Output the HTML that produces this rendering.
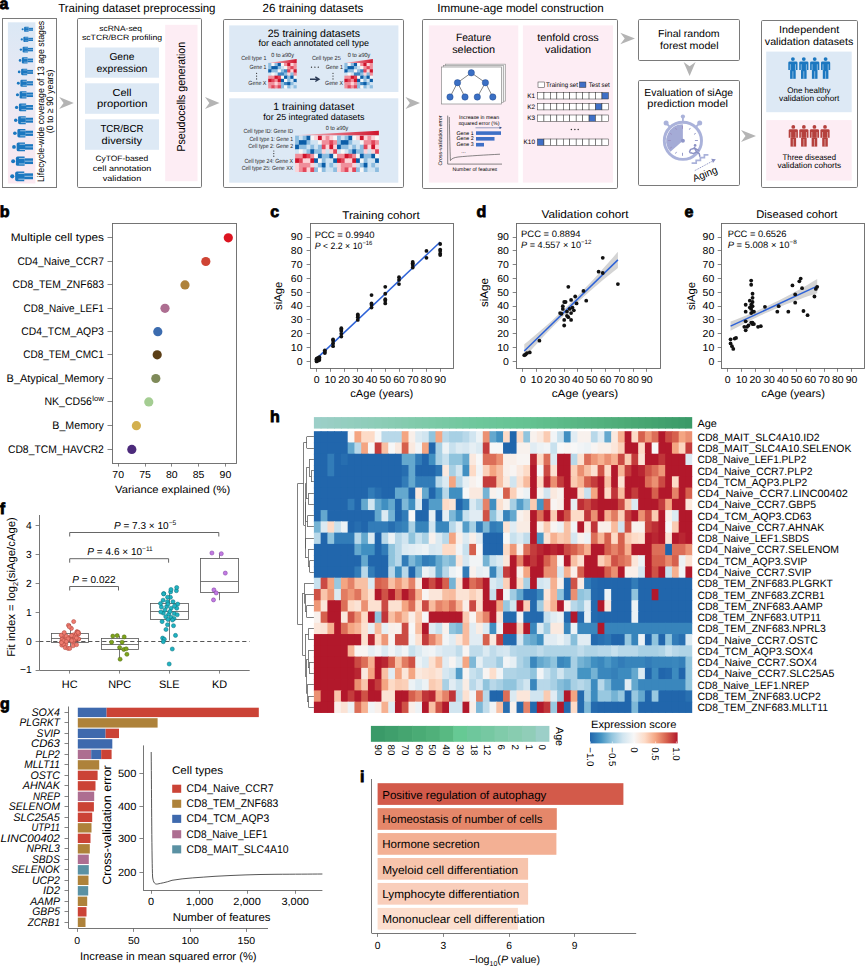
<!DOCTYPE html>
<html><head><meta charset="utf-8"><title>Figure</title><style>
html,body{margin:0;padding:0;background:#fff;}
svg{display:block;}
text{font-family:"Liberation Sans",Arial,sans-serif;text-rendering:geometricPrecision;}
</style></head><body>
<svg width="865" height="968" viewBox="0 0 865 968">
<rect width="865" height="968" fill="#fff"/>
<text x="58.20" y="12.20" font-size="11.77" textLength="157.30" lengthAdjust="spacingAndGlyphs">Training dataset preprocessing</text>
<text x="262.60" y="12.20" font-size="11.77" textLength="100.80" lengthAdjust="spacingAndGlyphs">26 training datasets</text>
<text x="437.20" y="12.00" font-size="11.77" textLength="166.60" lengthAdjust="spacingAndGlyphs">Immune-age model construction</text>
<defs><linearGradient id="g1" x1="0" y1="0" x2="0" y2="1"><stop offset="0" stop-color="#dbe8f5"/><stop offset="1" stop-color="#fce9f1"/></linearGradient></defs>
<rect x="2.50" y="18.50" width="54.00" height="169.00" fill="#fff" stroke="#7a7a7a" stroke-width="1"/>
<rect x="7.90" y="22.30" width="27.50" height="161.20" fill="url(#g1)"/>
<g transform="translate(21.60,29.30) scale(0.496)" fill="#1b77c0"><circle cx="2.1" cy="0" r="2.1"/><path d="M5,-3.2 Q5,-4.9 6.8,-4.9 L14.2,-4.9 L14.2,4.9 L6.8,4.9 Q5,4.9 5,3.2 Z"/><rect x="14" y="-3.0" width="9" height="6" /></g>
<g transform="translate(21.60,29.30) scale(0.496)" stroke="#dfe8f3" stroke-width="0.7"><line x1="8.2" y1="-2.9" x2="14.3" y2="-2.9"/><line x1="8.2" y1="2.9" x2="14.3" y2="2.9"/><line x1="14.5" y1="0" x2="23" y2="0"/></g>
<g transform="translate(20.65,39.40) scale(0.537)" fill="#1b77c0"><circle cx="2.1" cy="0" r="2.1"/><path d="M5,-3.2 Q5,-4.9 6.8,-4.9 L14.2,-4.9 L14.2,4.9 L6.8,4.9 Q5,4.9 5,3.2 Z"/><rect x="14" y="-3.0" width="9" height="6" /></g>
<g transform="translate(20.65,39.40) scale(0.537)" stroke="#dfe8f3" stroke-width="0.7"><line x1="8.2" y1="-2.9" x2="14.3" y2="-2.9"/><line x1="8.2" y1="2.9" x2="14.3" y2="2.9"/><line x1="14.5" y1="0" x2="23" y2="0"/></g>
<g transform="translate(19.70,49.60) scale(0.578)" fill="#1b77c0"><circle cx="2.1" cy="0" r="2.1"/><path d="M5,-3.2 Q5,-4.9 6.8,-4.9 L14.2,-4.9 L14.2,4.9 L6.8,4.9 Q5,4.9 5,3.2 Z"/><rect x="14" y="-3.0" width="9" height="6" /></g>
<g transform="translate(19.70,49.60) scale(0.578)" stroke="#dfe8f3" stroke-width="0.7"><line x1="8.2" y1="-2.9" x2="14.3" y2="-2.9"/><line x1="8.2" y1="2.9" x2="14.3" y2="2.9"/><line x1="14.5" y1="0" x2="23" y2="0"/></g>
<g transform="translate(18.75,60.40) scale(0.620)" fill="#1b77c0"><circle cx="2.1" cy="0" r="2.1"/><path d="M5,-3.2 Q5,-4.9 6.8,-4.9 L14.2,-4.9 L14.2,4.9 L6.8,4.9 Q5,4.9 5,3.2 Z"/><rect x="14" y="-3.0" width="9" height="6" /></g>
<g transform="translate(18.75,60.40) scale(0.620)" stroke="#dfe8f3" stroke-width="0.7"><line x1="8.2" y1="-2.9" x2="14.3" y2="-2.9"/><line x1="8.2" y1="2.9" x2="14.3" y2="2.9"/><line x1="14.5" y1="0" x2="23" y2="0"/></g>
<g transform="translate(17.80,71.90) scale(0.661)" fill="#1b77c0"><circle cx="2.1" cy="0" r="2.1"/><path d="M5,-3.2 Q5,-4.9 6.8,-4.9 L14.2,-4.9 L14.2,4.9 L6.8,4.9 Q5,4.9 5,3.2 Z"/><rect x="14" y="-3.0" width="9" height="6" /></g>
<g transform="translate(17.80,71.90) scale(0.661)" stroke="#dfe8f3" stroke-width="0.7"><line x1="8.2" y1="-2.9" x2="14.3" y2="-2.9"/><line x1="8.2" y1="2.9" x2="14.3" y2="2.9"/><line x1="14.5" y1="0" x2="23" y2="0"/></g>
<g transform="translate(16.85,83.30) scale(0.702)" fill="#1b77c0"><circle cx="2.1" cy="0" r="2.1"/><path d="M5,-3.2 Q5,-4.9 6.8,-4.9 L14.2,-4.9 L14.2,4.9 L6.8,4.9 Q5,4.9 5,3.2 Z"/><rect x="14" y="-3.0" width="9" height="6" /></g>
<g transform="translate(16.85,83.30) scale(0.702)" stroke="#dfe8f3" stroke-width="0.7"><line x1="8.2" y1="-2.9" x2="14.3" y2="-2.9"/><line x1="8.2" y1="2.9" x2="14.3" y2="2.9"/><line x1="14.5" y1="0" x2="23" y2="0"/></g>
<g transform="translate(15.90,94.80) scale(0.743)" fill="#1b77c0"><circle cx="2.1" cy="0" r="2.1"/><path d="M5,-3.2 Q5,-4.9 6.8,-4.9 L14.2,-4.9 L14.2,4.9 L6.8,4.9 Q5,4.9 5,3.2 Z"/><rect x="14" y="-3.0" width="9" height="6" /></g>
<g transform="translate(15.90,94.80) scale(0.743)" stroke="#dfe8f3" stroke-width="0.7"><line x1="8.2" y1="-2.9" x2="14.3" y2="-2.9"/><line x1="8.2" y1="2.9" x2="14.3" y2="2.9"/><line x1="14.5" y1="0" x2="23" y2="0"/></g>
<g transform="translate(14.95,107.40) scale(0.785)" fill="#1b77c0"><circle cx="2.1" cy="0" r="2.1"/><path d="M5,-3.2 Q5,-4.9 6.8,-4.9 L14.2,-4.9 L14.2,4.9 L6.8,4.9 Q5,4.9 5,3.2 Z"/><rect x="14" y="-3.0" width="9" height="6" /></g>
<g transform="translate(14.95,107.40) scale(0.785)" stroke="#dfe8f3" stroke-width="0.7"><line x1="8.2" y1="-2.9" x2="14.3" y2="-2.9"/><line x1="8.2" y1="2.9" x2="14.3" y2="2.9"/><line x1="14.5" y1="0" x2="23" y2="0"/></g>
<g transform="translate(14.00,120.20) scale(0.826)" fill="#1b77c0"><circle cx="2.1" cy="0" r="2.1"/><path d="M5,-3.2 Q5,-4.9 6.8,-4.9 L14.2,-4.9 L14.2,4.9 L6.8,4.9 Q5,4.9 5,3.2 Z"/><rect x="14" y="-3.0" width="9" height="6" /></g>
<g transform="translate(14.00,120.20) scale(0.826)" stroke="#dfe8f3" stroke-width="0.7"><line x1="8.2" y1="-2.9" x2="14.3" y2="-2.9"/><line x1="8.2" y1="2.9" x2="14.3" y2="2.9"/><line x1="14.5" y1="0" x2="23" y2="0"/></g>
<g transform="translate(13.05,133.30) scale(0.867)" fill="#1b77c0"><circle cx="2.1" cy="0" r="2.1"/><path d="M5,-3.2 Q5,-4.9 6.8,-4.9 L14.2,-4.9 L14.2,4.9 L6.8,4.9 Q5,4.9 5,3.2 Z"/><rect x="14" y="-3.0" width="9" height="6" /></g>
<g transform="translate(13.05,133.30) scale(0.867)" stroke="#dfe8f3" stroke-width="0.7"><line x1="8.2" y1="-2.9" x2="14.3" y2="-2.9"/><line x1="8.2" y1="2.9" x2="14.3" y2="2.9"/><line x1="14.5" y1="0" x2="23" y2="0"/></g>
<g transform="translate(12.10,146.90) scale(0.909)" fill="#1b77c0"><circle cx="2.1" cy="0" r="2.1"/><path d="M5,-3.2 Q5,-4.9 6.8,-4.9 L14.2,-4.9 L14.2,4.9 L6.8,4.9 Q5,4.9 5,3.2 Z"/><rect x="14" y="-3.0" width="9" height="6" /></g>
<g transform="translate(12.10,146.90) scale(0.909)" stroke="#dfe8f3" stroke-width="0.7"><line x1="8.2" y1="-2.9" x2="14.3" y2="-2.9"/><line x1="8.2" y1="2.9" x2="14.3" y2="2.9"/><line x1="14.5" y1="0" x2="23" y2="0"/></g>
<g transform="translate(11.15,161.20) scale(0.950)" fill="#1b77c0"><circle cx="2.1" cy="0" r="2.1"/><path d="M5,-3.2 Q5,-4.9 6.8,-4.9 L14.2,-4.9 L14.2,4.9 L6.8,4.9 Q5,4.9 5,3.2 Z"/><rect x="14" y="-3.0" width="9" height="6" /></g>
<g transform="translate(11.15,161.20) scale(0.950)" stroke="#dfe8f3" stroke-width="0.7"><line x1="8.2" y1="-2.9" x2="14.3" y2="-2.9"/><line x1="8.2" y1="2.9" x2="14.3" y2="2.9"/><line x1="14.5" y1="0" x2="23" y2="0"/></g>
<g transform="translate(10.20,176.30) scale(0.991)" fill="#1b77c0"><circle cx="2.1" cy="0" r="2.1"/><path d="M5,-3.2 Q5,-4.9 6.8,-4.9 L14.2,-4.9 L14.2,4.9 L6.8,4.9 Q5,4.9 5,3.2 Z"/><rect x="14" y="-3.0" width="9" height="6" /></g>
<g transform="translate(10.20,176.30) scale(0.991)" stroke="#dfe8f3" stroke-width="0.7"><line x1="8.2" y1="-2.9" x2="14.3" y2="-2.9"/><line x1="8.2" y1="2.9" x2="14.3" y2="2.9"/><line x1="14.5" y1="0" x2="23" y2="0"/></g>
<text x="0.00" y="0.00" font-size="9.42" text-anchor="middle" textLength="161.30" lengthAdjust="spacingAndGlyphs" transform="translate(43.9,101.4) rotate(-90)">Lifecycle-wide coverage of 13 age stages</text>
<text x="0.00" y="0.00" font-size="9.42" text-anchor="middle" textLength="63.80" lengthAdjust="spacingAndGlyphs" transform="translate(53.2,101.4) rotate(-90)">(0 to ≥ 90 years)</text>
<path d="M59.2,97.0 L73.8,103 L59.2,109.0 L63.58,103 Z" fill="#b4b4b4"/>
<rect x="77.50" y="18.50" width="124.00" height="169.00" fill="#fff" stroke="#7a7a7a" stroke-width="1" rx="1.2"/>
<text x="99.30" y="30.70" font-size="7.70" textLength="42.70" lengthAdjust="spacingAndGlyphs">scRNA-seq</text>
<text x="81.90" y="40.30" font-size="7.70" textLength="80.20" lengthAdjust="spacingAndGlyphs">scTCR/BCR profiling</text>
<rect x="85.00" y="47.50" width="74.00" height="30.20" fill="#dde9f5"/>
<rect x="85.00" y="83.30" width="74.00" height="30.50" fill="#dde9f5"/>
<rect x="85.00" y="119.30" width="74.00" height="30.50" fill="#dde9f5"/>
<text x="109.40" y="59.50" font-size="10.17" textLength="25.10" lengthAdjust="spacingAndGlyphs">Gene</text>
<text x="96.40" y="71.50" font-size="10.17" textLength="51.10" lengthAdjust="spacingAndGlyphs">expression</text>
<text x="112.60" y="95.60" font-size="10.17" textLength="18.80" lengthAdjust="spacingAndGlyphs">Cell</text>
<text x="96.90" y="107.30" font-size="10.17" textLength="50.60" lengthAdjust="spacingAndGlyphs">proportion</text>
<text x="100.40" y="132.00" font-size="10.17" textLength="43.20" lengthAdjust="spacingAndGlyphs">TCR/BCR</text>
<text x="101.60" y="144.20" font-size="10.17" textLength="40.40" lengthAdjust="spacingAndGlyphs">diversity</text>
<text x="95.40" y="160.80" font-size="7.81" textLength="52.80" lengthAdjust="spacingAndGlyphs">CyTOF-based</text>
<text x="92.80" y="170.90" font-size="7.81" textLength="58.50" lengthAdjust="spacingAndGlyphs">cell annotation</text>
<text x="102.70" y="180.80" font-size="7.81" textLength="38.60" lengthAdjust="spacingAndGlyphs">validation</text>
<rect x="165.20" y="24.80" width="32.30" height="156.40" fill="#fdedf4"/>
<text x="0.00" y="0.00" font-size="11.56" text-anchor="middle" textLength="109.50" lengthAdjust="spacingAndGlyphs" transform="translate(185.1,96.7) rotate(-90)">Pseudocells generation</text>
<path d="M205,97.0 L219.5,103 L205,109.0 L209.35,103 Z" fill="#b4b4b4"/>
<rect x="223.50" y="19.50" width="180.00" height="168.00" fill="#fff" stroke="#7a7a7a" stroke-width="1" rx="1.2"/>
<rect x="229.20" y="25.40" width="169.20" height="66.60" fill="#dde9f5"/>
<text x="267.70" y="36.70" font-size="10.70" textLength="92.30" lengthAdjust="spacingAndGlyphs">25 training datasets</text>
<text x="258.40" y="46.00" font-size="8.88" textLength="110.60" lengthAdjust="spacingAndGlyphs">for each annotated cell type</text>
<rect x="229.20" y="98.30" width="169.10" height="84.40" fill="#dde9f5"/>
<text x="273.20" y="110.40" font-size="10.38" textLength="80.90" lengthAdjust="spacingAndGlyphs">1 training dataset</text>
<text x="263.30" y="119.90" font-size="8.88" textLength="101.20" lengthAdjust="spacingAndGlyphs">for 25 integrated datasets</text>
<rect x="268.20" y="62.90" width="3.77" height="3.79" fill="#8dbde0"/>
<rect x="271.37" y="62.90" width="3.77" height="3.79" fill="#f7f7f7"/>
<rect x="274.53" y="62.90" width="3.77" height="3.79" fill="#8dbde0"/>
<rect x="277.70" y="62.90" width="3.77" height="3.79" fill="#0b5ea8"/>
<rect x="280.87" y="62.90" width="3.77" height="3.79" fill="#f7f7f7"/>
<rect x="284.03" y="62.90" width="3.77" height="3.79" fill="#f08f9b"/>
<rect x="287.20" y="62.90" width="3.77" height="3.79" fill="#d0142c"/>
<rect x="290.37" y="62.90" width="3.77" height="3.79" fill="#fbd3d8"/>
<rect x="293.53" y="62.90" width="3.17" height="3.79" fill="#f08f9b"/>
<rect x="268.20" y="66.09" width="3.77" height="3.79" fill="#8dbde0"/>
<rect x="271.37" y="66.09" width="3.77" height="3.79" fill="#0b5ea8"/>
<rect x="274.53" y="66.09" width="3.77" height="3.79" fill="#0b5ea8"/>
<rect x="277.70" y="66.09" width="3.77" height="3.79" fill="#8dbde0"/>
<rect x="280.87" y="66.09" width="3.77" height="3.79" fill="#cfe3f2"/>
<rect x="284.03" y="66.09" width="3.77" height="3.79" fill="#f7f7f7"/>
<rect x="287.20" y="66.09" width="3.77" height="3.79" fill="#f08f9b"/>
<rect x="290.37" y="66.09" width="3.77" height="3.79" fill="#e2465a"/>
<rect x="293.53" y="66.09" width="3.17" height="3.79" fill="#f08f9b"/>
<rect x="268.20" y="69.28" width="3.77" height="3.79" fill="#0b5ea8"/>
<rect x="271.37" y="69.28" width="3.77" height="3.79" fill="#8dbde0"/>
<rect x="274.53" y="69.28" width="3.77" height="3.79" fill="#8dbde0"/>
<rect x="277.70" y="69.28" width="3.77" height="3.79" fill="#f7f7f7"/>
<rect x="280.87" y="69.28" width="3.77" height="3.79" fill="#8dbde0"/>
<rect x="284.03" y="69.28" width="3.77" height="3.79" fill="#3d86c2"/>
<rect x="287.20" y="69.28" width="3.77" height="3.79" fill="#e2465a"/>
<rect x="290.37" y="69.28" width="3.77" height="3.79" fill="#fbd3d8"/>
<rect x="293.53" y="69.28" width="3.17" height="3.79" fill="#d0142c"/>
<rect x="268.20" y="72.46" width="3.77" height="3.79" fill="#cfe3f2"/>
<rect x="271.37" y="72.46" width="3.77" height="3.79" fill="#f7f7f7"/>
<rect x="274.53" y="72.46" width="3.77" height="3.79" fill="#cfe3f2"/>
<rect x="277.70" y="72.46" width="3.77" height="3.79" fill="#3d86c2"/>
<rect x="280.87" y="72.46" width="3.77" height="3.79" fill="#3d86c2"/>
<rect x="284.03" y="72.46" width="3.77" height="3.79" fill="#8dbde0"/>
<rect x="287.20" y="72.46" width="3.77" height="3.79" fill="#fbd3d8"/>
<rect x="290.37" y="72.46" width="3.77" height="3.79" fill="#8dbde0"/>
<rect x="293.53" y="72.46" width="3.17" height="3.79" fill="#f08f9b"/>
<rect x="268.20" y="75.65" width="3.77" height="3.79" fill="#f08f9b"/>
<rect x="271.37" y="75.65" width="3.77" height="3.79" fill="#f08f9b"/>
<rect x="274.53" y="75.65" width="3.77" height="3.79" fill="#d0142c"/>
<rect x="277.70" y="75.65" width="3.77" height="3.79" fill="#e2465a"/>
<rect x="280.87" y="75.65" width="3.77" height="3.79" fill="#f7f7f7"/>
<rect x="284.03" y="75.65" width="3.77" height="3.79" fill="#0b5ea8"/>
<rect x="287.20" y="75.65" width="3.77" height="3.79" fill="#8dbde0"/>
<rect x="290.37" y="75.65" width="3.77" height="3.79" fill="#0b5ea8"/>
<rect x="293.53" y="75.65" width="3.17" height="3.79" fill="#f7f7f7"/>
<rect x="268.20" y="78.84" width="3.77" height="3.79" fill="#d0142c"/>
<rect x="271.37" y="78.84" width="3.77" height="3.79" fill="#e2465a"/>
<rect x="274.53" y="78.84" width="3.77" height="3.79" fill="#f08f9b"/>
<rect x="277.70" y="78.84" width="3.77" height="3.79" fill="#d0142c"/>
<rect x="280.87" y="78.84" width="3.77" height="3.79" fill="#0b5ea8"/>
<rect x="284.03" y="78.84" width="3.77" height="3.79" fill="#f7f7f7"/>
<rect x="287.20" y="78.84" width="3.77" height="3.79" fill="#8dbde0"/>
<rect x="290.37" y="78.84" width="3.77" height="3.79" fill="#cfe3f2"/>
<rect x="293.53" y="78.84" width="3.17" height="3.79" fill="#0b5ea8"/>
<rect x="268.20" y="82.03" width="3.77" height="3.79" fill="#f08f9b"/>
<rect x="271.37" y="82.03" width="3.77" height="3.79" fill="#f08f9b"/>
<rect x="274.53" y="82.03" width="3.77" height="3.79" fill="#fbd3d8"/>
<rect x="277.70" y="82.03" width="3.77" height="3.79" fill="#f08f9b"/>
<rect x="280.87" y="82.03" width="3.77" height="3.79" fill="#8dbde0"/>
<rect x="284.03" y="82.03" width="3.77" height="3.79" fill="#3d86c2"/>
<rect x="287.20" y="82.03" width="3.77" height="3.79" fill="#0b5ea8"/>
<rect x="290.37" y="82.03" width="3.77" height="3.79" fill="#8dbde0"/>
<rect x="293.53" y="82.03" width="3.17" height="3.79" fill="#cfe3f2"/>
<rect x="268.20" y="85.21" width="3.77" height="3.19" fill="#f08f9b"/>
<rect x="271.37" y="85.21" width="3.77" height="3.19" fill="#e2465a"/>
<rect x="274.53" y="85.21" width="3.77" height="3.19" fill="#f08f9b"/>
<rect x="277.70" y="85.21" width="3.77" height="3.19" fill="#e2465a"/>
<rect x="280.87" y="85.21" width="3.77" height="3.19" fill="#8dbde0"/>
<rect x="284.03" y="85.21" width="3.77" height="3.19" fill="#f7f7f7"/>
<rect x="287.20" y="85.21" width="3.77" height="3.19" fill="#8dbde0"/>
<rect x="290.37" y="85.21" width="3.77" height="3.19" fill="#cfe3f2"/>
<rect x="293.53" y="85.21" width="3.17" height="3.19" fill="#8dbde0"/>
<defs><linearGradient id="w268" x1="0" y1="0" x2="1" y2="0"><stop offset="0" stop-color="#f6c3cb"/><stop offset="1" stop-color="#d0142c"/></linearGradient></defs>
<path d="M268.2,62.9 L296.7,58.9 L296.7,62.9 Z" fill="url(#w268)"/>
<rect x="344.40" y="62.90" width="3.77" height="3.79" fill="#8dbde0"/>
<rect x="347.57" y="62.90" width="3.77" height="3.79" fill="#f7f7f7"/>
<rect x="350.73" y="62.90" width="3.77" height="3.79" fill="#8dbde0"/>
<rect x="353.90" y="62.90" width="3.77" height="3.79" fill="#0b5ea8"/>
<rect x="357.07" y="62.90" width="3.77" height="3.79" fill="#f7f7f7"/>
<rect x="360.23" y="62.90" width="3.77" height="3.79" fill="#f08f9b"/>
<rect x="363.40" y="62.90" width="3.77" height="3.79" fill="#d0142c"/>
<rect x="366.57" y="62.90" width="3.77" height="3.79" fill="#fbd3d8"/>
<rect x="369.73" y="62.90" width="3.17" height="3.79" fill="#f08f9b"/>
<rect x="344.40" y="66.09" width="3.77" height="3.79" fill="#8dbde0"/>
<rect x="347.57" y="66.09" width="3.77" height="3.79" fill="#0b5ea8"/>
<rect x="350.73" y="66.09" width="3.77" height="3.79" fill="#0b5ea8"/>
<rect x="353.90" y="66.09" width="3.77" height="3.79" fill="#8dbde0"/>
<rect x="357.07" y="66.09" width="3.77" height="3.79" fill="#cfe3f2"/>
<rect x="360.23" y="66.09" width="3.77" height="3.79" fill="#f7f7f7"/>
<rect x="363.40" y="66.09" width="3.77" height="3.79" fill="#f08f9b"/>
<rect x="366.57" y="66.09" width="3.77" height="3.79" fill="#e2465a"/>
<rect x="369.73" y="66.09" width="3.17" height="3.79" fill="#f08f9b"/>
<rect x="344.40" y="69.28" width="3.77" height="3.79" fill="#0b5ea8"/>
<rect x="347.57" y="69.28" width="3.77" height="3.79" fill="#8dbde0"/>
<rect x="350.73" y="69.28" width="3.77" height="3.79" fill="#8dbde0"/>
<rect x="353.90" y="69.28" width="3.77" height="3.79" fill="#f7f7f7"/>
<rect x="357.07" y="69.28" width="3.77" height="3.79" fill="#8dbde0"/>
<rect x="360.23" y="69.28" width="3.77" height="3.79" fill="#3d86c2"/>
<rect x="363.40" y="69.28" width="3.77" height="3.79" fill="#e2465a"/>
<rect x="366.57" y="69.28" width="3.77" height="3.79" fill="#fbd3d8"/>
<rect x="369.73" y="69.28" width="3.17" height="3.79" fill="#d0142c"/>
<rect x="344.40" y="72.46" width="3.77" height="3.79" fill="#cfe3f2"/>
<rect x="347.57" y="72.46" width="3.77" height="3.79" fill="#f7f7f7"/>
<rect x="350.73" y="72.46" width="3.77" height="3.79" fill="#cfe3f2"/>
<rect x="353.90" y="72.46" width="3.77" height="3.79" fill="#3d86c2"/>
<rect x="357.07" y="72.46" width="3.77" height="3.79" fill="#3d86c2"/>
<rect x="360.23" y="72.46" width="3.77" height="3.79" fill="#8dbde0"/>
<rect x="363.40" y="72.46" width="3.77" height="3.79" fill="#fbd3d8"/>
<rect x="366.57" y="72.46" width="3.77" height="3.79" fill="#8dbde0"/>
<rect x="369.73" y="72.46" width="3.17" height="3.79" fill="#f08f9b"/>
<rect x="344.40" y="75.65" width="3.77" height="3.79" fill="#f08f9b"/>
<rect x="347.57" y="75.65" width="3.77" height="3.79" fill="#f08f9b"/>
<rect x="350.73" y="75.65" width="3.77" height="3.79" fill="#d0142c"/>
<rect x="353.90" y="75.65" width="3.77" height="3.79" fill="#e2465a"/>
<rect x="357.07" y="75.65" width="3.77" height="3.79" fill="#f7f7f7"/>
<rect x="360.23" y="75.65" width="3.77" height="3.79" fill="#0b5ea8"/>
<rect x="363.40" y="75.65" width="3.77" height="3.79" fill="#8dbde0"/>
<rect x="366.57" y="75.65" width="3.77" height="3.79" fill="#0b5ea8"/>
<rect x="369.73" y="75.65" width="3.17" height="3.79" fill="#f7f7f7"/>
<rect x="344.40" y="78.84" width="3.77" height="3.79" fill="#d0142c"/>
<rect x="347.57" y="78.84" width="3.77" height="3.79" fill="#e2465a"/>
<rect x="350.73" y="78.84" width="3.77" height="3.79" fill="#f08f9b"/>
<rect x="353.90" y="78.84" width="3.77" height="3.79" fill="#d0142c"/>
<rect x="357.07" y="78.84" width="3.77" height="3.79" fill="#0b5ea8"/>
<rect x="360.23" y="78.84" width="3.77" height="3.79" fill="#f7f7f7"/>
<rect x="363.40" y="78.84" width="3.77" height="3.79" fill="#8dbde0"/>
<rect x="366.57" y="78.84" width="3.77" height="3.79" fill="#cfe3f2"/>
<rect x="369.73" y="78.84" width="3.17" height="3.79" fill="#0b5ea8"/>
<rect x="344.40" y="82.03" width="3.77" height="3.79" fill="#f08f9b"/>
<rect x="347.57" y="82.03" width="3.77" height="3.79" fill="#f08f9b"/>
<rect x="350.73" y="82.03" width="3.77" height="3.79" fill="#fbd3d8"/>
<rect x="353.90" y="82.03" width="3.77" height="3.79" fill="#f08f9b"/>
<rect x="357.07" y="82.03" width="3.77" height="3.79" fill="#8dbde0"/>
<rect x="360.23" y="82.03" width="3.77" height="3.79" fill="#3d86c2"/>
<rect x="363.40" y="82.03" width="3.77" height="3.79" fill="#0b5ea8"/>
<rect x="366.57" y="82.03" width="3.77" height="3.79" fill="#8dbde0"/>
<rect x="369.73" y="82.03" width="3.17" height="3.79" fill="#cfe3f2"/>
<rect x="344.40" y="85.21" width="3.77" height="3.19" fill="#f08f9b"/>
<rect x="347.57" y="85.21" width="3.77" height="3.19" fill="#e2465a"/>
<rect x="350.73" y="85.21" width="3.77" height="3.19" fill="#f08f9b"/>
<rect x="353.90" y="85.21" width="3.77" height="3.19" fill="#e2465a"/>
<rect x="357.07" y="85.21" width="3.77" height="3.19" fill="#8dbde0"/>
<rect x="360.23" y="85.21" width="3.77" height="3.19" fill="#f7f7f7"/>
<rect x="363.40" y="85.21" width="3.77" height="3.19" fill="#8dbde0"/>
<rect x="366.57" y="85.21" width="3.77" height="3.19" fill="#cfe3f2"/>
<rect x="369.73" y="85.21" width="3.17" height="3.19" fill="#8dbde0"/>
<defs><linearGradient id="w344" x1="0" y1="0" x2="1" y2="0"><stop offset="0" stop-color="#f6c3cb"/><stop offset="1" stop-color="#d0142c"/></linearGradient></defs>
<path d="M344.4,62.9 L372.9,58.9 L372.9,62.9 Z" fill="url(#w344)"/>
<rect x="295.10" y="135.60" width="4.41" height="5.15" fill="#8dbde0"/>
<rect x="298.91" y="135.60" width="4.41" height="5.15" fill="#cfe3f2"/>
<rect x="302.72" y="135.60" width="4.41" height="5.15" fill="#8dbde0"/>
<rect x="306.53" y="135.60" width="4.41" height="5.15" fill="#0b5ea8"/>
<rect x="310.34" y="135.60" width="4.41" height="5.15" fill="#f7f7f7"/>
<rect x="314.15" y="135.60" width="4.41" height="5.15" fill="#fbd3d8"/>
<rect x="317.95" y="135.60" width="4.41" height="5.15" fill="#d0142c"/>
<rect x="321.76" y="135.60" width="4.41" height="5.15" fill="#fbd3d8"/>
<rect x="325.57" y="135.60" width="4.41" height="5.15" fill="#f08f9b"/>
<rect x="329.38" y="135.60" width="4.41" height="5.15" fill="#fbd3d8"/>
<rect x="333.19" y="135.60" width="4.41" height="5.15" fill="#f7f7f7"/>
<rect x="337.00" y="135.60" width="4.41" height="5.15" fill="#8dbde0"/>
<rect x="340.81" y="135.60" width="4.41" height="5.15" fill="#cfe3f2"/>
<rect x="344.62" y="135.60" width="4.41" height="5.15" fill="#8dbde0"/>
<rect x="348.43" y="135.60" width="4.41" height="5.15" fill="#0b5ea8"/>
<rect x="352.24" y="135.60" width="4.41" height="5.15" fill="#f7f7f7"/>
<rect x="356.05" y="135.60" width="4.41" height="5.15" fill="#fbd3d8"/>
<rect x="359.85" y="135.60" width="4.41" height="5.15" fill="#d0142c"/>
<rect x="363.66" y="135.60" width="4.41" height="5.15" fill="#fbd3d8"/>
<rect x="367.47" y="135.60" width="4.41" height="5.15" fill="#f08f9b"/>
<rect x="371.28" y="135.60" width="4.41" height="5.15" fill="#fbd3d8"/>
<rect x="375.09" y="135.60" width="3.81" height="5.15" fill="#f7f7f7"/>
<rect x="295.10" y="140.15" width="4.41" height="5.15" fill="#8dbde0"/>
<rect x="298.91" y="140.15" width="4.41" height="5.15" fill="#0b5ea8"/>
<rect x="302.72" y="140.15" width="4.41" height="5.15" fill="#0b5ea8"/>
<rect x="306.53" y="140.15" width="4.41" height="5.15" fill="#8dbde0"/>
<rect x="310.34" y="140.15" width="4.41" height="5.15" fill="#cfe3f2"/>
<rect x="314.15" y="140.15" width="4.41" height="5.15" fill="#cfe3f2"/>
<rect x="317.95" y="140.15" width="4.41" height="5.15" fill="#f7f7f7"/>
<rect x="321.76" y="140.15" width="4.41" height="5.15" fill="#f08f9b"/>
<rect x="325.57" y="140.15" width="4.41" height="5.15" fill="#f08f9b"/>
<rect x="329.38" y="140.15" width="4.41" height="5.15" fill="#e2465a"/>
<rect x="333.19" y="140.15" width="4.41" height="5.15" fill="#f08f9b"/>
<rect x="337.00" y="140.15" width="4.41" height="5.15" fill="#8dbde0"/>
<rect x="340.81" y="140.15" width="4.41" height="5.15" fill="#0b5ea8"/>
<rect x="344.62" y="140.15" width="4.41" height="5.15" fill="#0b5ea8"/>
<rect x="348.43" y="140.15" width="4.41" height="5.15" fill="#8dbde0"/>
<rect x="352.24" y="140.15" width="4.41" height="5.15" fill="#cfe3f2"/>
<rect x="356.05" y="140.15" width="4.41" height="5.15" fill="#cfe3f2"/>
<rect x="359.85" y="140.15" width="4.41" height="5.15" fill="#f7f7f7"/>
<rect x="363.66" y="140.15" width="4.41" height="5.15" fill="#f08f9b"/>
<rect x="367.47" y="140.15" width="4.41" height="5.15" fill="#f08f9b"/>
<rect x="371.28" y="140.15" width="4.41" height="5.15" fill="#e2465a"/>
<rect x="375.09" y="140.15" width="3.81" height="5.15" fill="#f08f9b"/>
<rect x="295.10" y="144.70" width="4.41" height="5.15" fill="#0b5ea8"/>
<rect x="298.91" y="144.70" width="4.41" height="5.15" fill="#8dbde0"/>
<rect x="302.72" y="144.70" width="4.41" height="5.15" fill="#8dbde0"/>
<rect x="306.53" y="144.70" width="4.41" height="5.15" fill="#cfe3f2"/>
<rect x="310.34" y="144.70" width="4.41" height="5.15" fill="#8dbde0"/>
<rect x="314.15" y="144.70" width="4.41" height="5.15" fill="#cfe3f2"/>
<rect x="317.95" y="144.70" width="4.41" height="5.15" fill="#8dbde0"/>
<rect x="321.76" y="144.70" width="4.41" height="5.15" fill="#e2465a"/>
<rect x="325.57" y="144.70" width="4.41" height="5.15" fill="#fbd3d8"/>
<rect x="329.38" y="144.70" width="4.41" height="5.15" fill="#d0142c"/>
<rect x="333.19" y="144.70" width="4.41" height="5.15" fill="#fbd3d8"/>
<rect x="337.00" y="144.70" width="4.41" height="5.15" fill="#0b5ea8"/>
<rect x="340.81" y="144.70" width="4.41" height="5.15" fill="#8dbde0"/>
<rect x="344.62" y="144.70" width="4.41" height="5.15" fill="#8dbde0"/>
<rect x="348.43" y="144.70" width="4.41" height="5.15" fill="#cfe3f2"/>
<rect x="352.24" y="144.70" width="4.41" height="5.15" fill="#8dbde0"/>
<rect x="356.05" y="144.70" width="4.41" height="5.15" fill="#cfe3f2"/>
<rect x="359.85" y="144.70" width="4.41" height="5.15" fill="#8dbde0"/>
<rect x="363.66" y="144.70" width="4.41" height="5.15" fill="#e2465a"/>
<rect x="367.47" y="144.70" width="4.41" height="5.15" fill="#fbd3d8"/>
<rect x="371.28" y="144.70" width="4.41" height="5.15" fill="#d0142c"/>
<rect x="375.09" y="144.70" width="3.81" height="5.15" fill="#fbd3d8"/>
<rect x="295.10" y="149.25" width="4.41" height="5.15" fill="#cfe3f2"/>
<rect x="298.91" y="149.25" width="4.41" height="5.15" fill="#f7f7f7"/>
<rect x="302.72" y="149.25" width="4.41" height="5.15" fill="#cfe3f2"/>
<rect x="306.53" y="149.25" width="4.41" height="5.15" fill="#8dbde0"/>
<rect x="310.34" y="149.25" width="4.41" height="5.15" fill="#0b5ea8"/>
<rect x="314.15" y="149.25" width="4.41" height="5.15" fill="#8dbde0"/>
<rect x="317.95" y="149.25" width="4.41" height="5.15" fill="#8dbde0"/>
<rect x="321.76" y="149.25" width="4.41" height="5.15" fill="#fbd3d8"/>
<rect x="325.57" y="149.25" width="4.41" height="5.15" fill="#cfe3f2"/>
<rect x="329.38" y="149.25" width="4.41" height="5.15" fill="#fbd3d8"/>
<rect x="333.19" y="149.25" width="4.41" height="5.15" fill="#e2465a"/>
<rect x="337.00" y="149.25" width="4.41" height="5.15" fill="#cfe3f2"/>
<rect x="340.81" y="149.25" width="4.41" height="5.15" fill="#f7f7f7"/>
<rect x="344.62" y="149.25" width="4.41" height="5.15" fill="#cfe3f2"/>
<rect x="348.43" y="149.25" width="4.41" height="5.15" fill="#8dbde0"/>
<rect x="352.24" y="149.25" width="4.41" height="5.15" fill="#0b5ea8"/>
<rect x="356.05" y="149.25" width="4.41" height="5.15" fill="#8dbde0"/>
<rect x="359.85" y="149.25" width="4.41" height="5.15" fill="#8dbde0"/>
<rect x="363.66" y="149.25" width="4.41" height="5.15" fill="#fbd3d8"/>
<rect x="367.47" y="149.25" width="4.41" height="5.15" fill="#cfe3f2"/>
<rect x="371.28" y="149.25" width="4.41" height="5.15" fill="#fbd3d8"/>
<rect x="375.09" y="149.25" width="3.81" height="5.15" fill="#e2465a"/>
<rect x="295.10" y="153.80" width="4.41" height="5.15" fill="#f08f9b"/>
<rect x="298.91" y="153.80" width="4.41" height="5.15" fill="#f08f9b"/>
<rect x="302.72" y="153.80" width="4.41" height="5.15" fill="#d0142c"/>
<rect x="306.53" y="153.80" width="4.41" height="5.15" fill="#e2465a"/>
<rect x="310.34" y="153.80" width="4.41" height="5.15" fill="#f08f9b"/>
<rect x="314.15" y="153.80" width="4.41" height="5.15" fill="#f7f7f7"/>
<rect x="317.95" y="153.80" width="4.41" height="5.15" fill="#0b5ea8"/>
<rect x="321.76" y="153.80" width="4.41" height="5.15" fill="#8dbde0"/>
<rect x="325.57" y="153.80" width="4.41" height="5.15" fill="#8dbde0"/>
<rect x="329.38" y="153.80" width="4.41" height="5.15" fill="#0b5ea8"/>
<rect x="333.19" y="153.80" width="4.41" height="5.15" fill="#f7f7f7"/>
<rect x="337.00" y="153.80" width="4.41" height="5.15" fill="#f08f9b"/>
<rect x="340.81" y="153.80" width="4.41" height="5.15" fill="#f08f9b"/>
<rect x="344.62" y="153.80" width="4.41" height="5.15" fill="#d0142c"/>
<rect x="348.43" y="153.80" width="4.41" height="5.15" fill="#e2465a"/>
<rect x="352.24" y="153.80" width="4.41" height="5.15" fill="#f08f9b"/>
<rect x="356.05" y="153.80" width="4.41" height="5.15" fill="#f7f7f7"/>
<rect x="359.85" y="153.80" width="4.41" height="5.15" fill="#0b5ea8"/>
<rect x="363.66" y="153.80" width="4.41" height="5.15" fill="#8dbde0"/>
<rect x="367.47" y="153.80" width="4.41" height="5.15" fill="#8dbde0"/>
<rect x="371.28" y="153.80" width="4.41" height="5.15" fill="#0b5ea8"/>
<rect x="375.09" y="153.80" width="3.81" height="5.15" fill="#f7f7f7"/>
<rect x="295.10" y="158.35" width="4.41" height="5.15" fill="#d0142c"/>
<rect x="298.91" y="158.35" width="4.41" height="5.15" fill="#e2465a"/>
<rect x="302.72" y="158.35" width="4.41" height="5.15" fill="#fbd3d8"/>
<rect x="306.53" y="158.35" width="4.41" height="5.15" fill="#fbd3d8"/>
<rect x="310.34" y="158.35" width="4.41" height="5.15" fill="#d0142c"/>
<rect x="314.15" y="158.35" width="4.41" height="5.15" fill="#0b5ea8"/>
<rect x="317.95" y="158.35" width="4.41" height="5.15" fill="#f7f7f7"/>
<rect x="321.76" y="158.35" width="4.41" height="5.15" fill="#8dbde0"/>
<rect x="325.57" y="158.35" width="4.41" height="5.15" fill="#cfe3f2"/>
<rect x="329.38" y="158.35" width="4.41" height="5.15" fill="#cfe3f2"/>
<rect x="333.19" y="158.35" width="4.41" height="5.15" fill="#0b5ea8"/>
<rect x="337.00" y="158.35" width="4.41" height="5.15" fill="#d0142c"/>
<rect x="340.81" y="158.35" width="4.41" height="5.15" fill="#e2465a"/>
<rect x="344.62" y="158.35" width="4.41" height="5.15" fill="#fbd3d8"/>
<rect x="348.43" y="158.35" width="4.41" height="5.15" fill="#fbd3d8"/>
<rect x="352.24" y="158.35" width="4.41" height="5.15" fill="#d0142c"/>
<rect x="356.05" y="158.35" width="4.41" height="5.15" fill="#0b5ea8"/>
<rect x="359.85" y="158.35" width="4.41" height="5.15" fill="#f7f7f7"/>
<rect x="363.66" y="158.35" width="4.41" height="5.15" fill="#8dbde0"/>
<rect x="367.47" y="158.35" width="4.41" height="5.15" fill="#cfe3f2"/>
<rect x="371.28" y="158.35" width="4.41" height="5.15" fill="#cfe3f2"/>
<rect x="375.09" y="158.35" width="3.81" height="5.15" fill="#0b5ea8"/>
<rect x="295.10" y="162.90" width="4.41" height="5.15" fill="#fbd3d8"/>
<rect x="298.91" y="162.90" width="4.41" height="5.15" fill="#f08f9b"/>
<rect x="302.72" y="162.90" width="4.41" height="5.15" fill="#f08f9b"/>
<rect x="306.53" y="162.90" width="4.41" height="5.15" fill="#f08f9b"/>
<rect x="310.34" y="162.90" width="4.41" height="5.15" fill="#fbd3d8"/>
<rect x="314.15" y="162.90" width="4.41" height="5.15" fill="#cfe3f2"/>
<rect x="317.95" y="162.90" width="4.41" height="5.15" fill="#8dbde0"/>
<rect x="321.76" y="162.90" width="4.41" height="5.15" fill="#0b5ea8"/>
<rect x="325.57" y="162.90" width="4.41" height="5.15" fill="#cfe3f2"/>
<rect x="329.38" y="162.90" width="4.41" height="5.15" fill="#8dbde0"/>
<rect x="333.19" y="162.90" width="4.41" height="5.15" fill="#cfe3f2"/>
<rect x="337.00" y="162.90" width="4.41" height="5.15" fill="#fbd3d8"/>
<rect x="340.81" y="162.90" width="4.41" height="5.15" fill="#f08f9b"/>
<rect x="344.62" y="162.90" width="4.41" height="5.15" fill="#f08f9b"/>
<rect x="348.43" y="162.90" width="4.41" height="5.15" fill="#f08f9b"/>
<rect x="352.24" y="162.90" width="4.41" height="5.15" fill="#fbd3d8"/>
<rect x="356.05" y="162.90" width="4.41" height="5.15" fill="#cfe3f2"/>
<rect x="359.85" y="162.90" width="4.41" height="5.15" fill="#8dbde0"/>
<rect x="363.66" y="162.90" width="4.41" height="5.15" fill="#0b5ea8"/>
<rect x="367.47" y="162.90" width="4.41" height="5.15" fill="#cfe3f2"/>
<rect x="371.28" y="162.90" width="4.41" height="5.15" fill="#8dbde0"/>
<rect x="375.09" y="162.90" width="3.81" height="5.15" fill="#cfe3f2"/>
<rect x="295.10" y="167.45" width="4.41" height="4.55" fill="#fbd3d8"/>
<rect x="298.91" y="167.45" width="4.41" height="4.55" fill="#f08f9b"/>
<rect x="302.72" y="167.45" width="4.41" height="4.55" fill="#e2465a"/>
<rect x="306.53" y="167.45" width="4.41" height="4.55" fill="#fbd3d8"/>
<rect x="310.34" y="167.45" width="4.41" height="4.55" fill="#e2465a"/>
<rect x="314.15" y="167.45" width="4.41" height="4.55" fill="#8dbde0"/>
<rect x="317.95" y="167.45" width="4.41" height="4.55" fill="#f7f7f7"/>
<rect x="321.76" y="167.45" width="4.41" height="4.55" fill="#8dbde0"/>
<rect x="325.57" y="167.45" width="4.41" height="4.55" fill="#cfe3f2"/>
<rect x="329.38" y="167.45" width="4.41" height="4.55" fill="#cfe3f2"/>
<rect x="333.19" y="167.45" width="4.41" height="4.55" fill="#8dbde0"/>
<rect x="337.00" y="167.45" width="4.41" height="4.55" fill="#fbd3d8"/>
<rect x="340.81" y="167.45" width="4.41" height="4.55" fill="#f08f9b"/>
<rect x="344.62" y="167.45" width="4.41" height="4.55" fill="#e2465a"/>
<rect x="348.43" y="167.45" width="4.41" height="4.55" fill="#fbd3d8"/>
<rect x="352.24" y="167.45" width="4.41" height="4.55" fill="#e2465a"/>
<rect x="356.05" y="167.45" width="4.41" height="4.55" fill="#8dbde0"/>
<rect x="359.85" y="167.45" width="4.41" height="4.55" fill="#f7f7f7"/>
<rect x="363.66" y="167.45" width="4.41" height="4.55" fill="#8dbde0"/>
<rect x="367.47" y="167.45" width="4.41" height="4.55" fill="#cfe3f2"/>
<rect x="371.28" y="167.45" width="4.41" height="4.55" fill="#cfe3f2"/>
<rect x="375.09" y="167.45" width="3.81" height="4.55" fill="#8dbde0"/>
<defs><linearGradient id="w295" x1="0" y1="0" x2="1" y2="0"><stop offset="0" stop-color="#f6c3cb"/><stop offset="1" stop-color="#d0142c"/></linearGradient></defs>
<path d="M295.1,135.2 L378.9,130.79999999999998 L378.9,135.2 Z" fill="url(#w295)"/>
<text x="271.30" y="57.30" font-size="5.99" textLength="22.60" lengthAdjust="spacingAndGlyphs" fill="#262626">0 to ≥90y</text>
<text x="347.70" y="57.30" font-size="5.99" textLength="22.60" lengthAdjust="spacingAndGlyphs" fill="#262626">0 to ≥90y</text>
<text x="241.20" y="60.40" font-size="5.99" textLength="25.20" lengthAdjust="spacingAndGlyphs" fill="#262626">Cell type 1</text>
<text x="249.40" y="69.00" font-size="5.99" textLength="17.00" lengthAdjust="spacingAndGlyphs" fill="#262626">Gene 1</text>
<text x="248.30" y="85.40" font-size="5.99" textLength="18.10" lengthAdjust="spacingAndGlyphs" fill="#262626">Gene X</text>
<text x="311.90" y="60.40" font-size="5.99" textLength="28.80" lengthAdjust="spacingAndGlyphs" fill="#262626">Cell type 25</text>
<text x="325.70" y="69.00" font-size="5.99" textLength="17.20" lengthAdjust="spacingAndGlyphs" fill="#262626">Gene 1</text>
<text x="325.10" y="85.40" font-size="5.99" textLength="17.80" lengthAdjust="spacingAndGlyphs" fill="#262626">Gene X</text>
<circle cx="256.60" cy="73.30" r="0.60" fill="#262626"/>
<circle cx="256.60" cy="76.10" r="0.60" fill="#262626"/>
<circle cx="256.60" cy="78.90" r="0.60" fill="#262626"/>
<circle cx="333.00" cy="73.30" r="0.60" fill="#262626"/>
<circle cx="333.00" cy="76.10" r="0.60" fill="#262626"/>
<circle cx="333.00" cy="78.90" r="0.60" fill="#262626"/>
<circle cx="311.50" cy="67.20" r="0.65" fill="#262626"/>
<circle cx="314.90" cy="67.20" r="0.65" fill="#262626"/>
<circle cx="318.30" cy="67.20" r="0.65" fill="#262626"/>
<path d="M310,79.2 L318.5,79.2 M315.3,76.9 L319,79.2 L315.3,81.5" fill="none" stroke="#2b3a55" stroke-width="1.4"/>
<text x="325.70" y="130.40" font-size="5.99" textLength="22.60" lengthAdjust="spacingAndGlyphs" fill="#262626">0 to ≥90y</text>
<text x="243.40" y="132.60" font-size="5.99" textLength="49.70" lengthAdjust="spacingAndGlyphs" fill="#262626">Cell type ID: Gene ID</text>
<text x="249.40" y="140.60" font-size="5.99" textLength="43.70" lengthAdjust="spacingAndGlyphs" fill="#262626">Cell type 1: Gene 1</text>
<text x="248.30" y="148.30" font-size="5.99" textLength="44.80" lengthAdjust="spacingAndGlyphs" fill="#262626">Cell type 2: Gene 2</text>
<text x="244.50" y="162.50" font-size="5.99" textLength="48.60" lengthAdjust="spacingAndGlyphs" fill="#262626">Cell type 24: Gene X</text>
<text x="241.70" y="169.60" font-size="5.99" textLength="51.40" lengthAdjust="spacingAndGlyphs" fill="#262626">Cell type 25: Gene XX</text>
<circle cx="273.80" cy="151.00" r="0.60" fill="#262626"/>
<circle cx="273.80" cy="153.60" r="0.60" fill="#262626"/>
<circle cx="273.80" cy="156.20" r="0.60" fill="#262626"/>
<path d="M405.5,97.0 L420,103 L405.5,109.0 L409.85,103 Z" fill="#b4b4b4"/>
<rect x="422.50" y="19.50" width="195.00" height="169.00" fill="#fff" stroke="#7a7a7a" stroke-width="1" rx="1.2"/>
<rect x="428.80" y="25.40" width="89.50" height="157.20" fill="#fdedf4"/>
<rect x="522.90" y="25.40" width="90.10" height="157.20" fill="#fdedf4"/>
<text x="455.90" y="40.80" font-size="10.49" textLength="35.30" lengthAdjust="spacingAndGlyphs">Feature</text>
<text x="452.20" y="52.50" font-size="10.49" textLength="42.90" lengthAdjust="spacingAndGlyphs">selection</text>
<text x="537.20" y="40.80" font-size="10.49" textLength="61.60" lengthAdjust="spacingAndGlyphs">tenfold cross</text>
<text x="545.10" y="52.50" font-size="10.49" textLength="46.00" lengthAdjust="spacingAndGlyphs">validation</text>
<rect x="445.40" y="64.14" width="59.90" height="37.00" fill="#f2f2f2" stroke="#8a8a8a" stroke-width="0.6"/>
<rect x="443.45" y="65.57" width="59.90" height="37.00" fill="#f2f2f2" stroke="#8a8a8a" stroke-width="0.6"/>
<rect x="441.50" y="67.00" width="59.90" height="37.00" fill="#fff" stroke="#8a8a8a" stroke-width="0.7"/>
<line x1="471.30" y1="72.80" x2="457.50" y2="82.70" stroke="#333" stroke-width="0.6"/>
<line x1="471.30" y1="72.80" x2="485.40" y2="82.70" stroke="#333" stroke-width="0.6"/>
<line x1="457.50" y1="82.70" x2="450.00" y2="97.00" stroke="#333" stroke-width="0.6"/>
<line x1="457.50" y1="82.70" x2="465.00" y2="97.00" stroke="#333" stroke-width="0.6"/>
<line x1="485.40" y1="82.70" x2="477.30" y2="97.00" stroke="#333" stroke-width="0.6"/>
<line x1="485.40" y1="82.70" x2="492.80" y2="97.00" stroke="#333" stroke-width="0.6"/>
<circle cx="471.30" cy="72.80" r="3.20" fill="#3a6fc4" stroke="#1d3f80" stroke-width="0.4"/>
<circle cx="457.50" cy="82.70" r="3.20" fill="#3a6fc4" stroke="#1d3f80" stroke-width="0.4"/>
<circle cx="485.40" cy="82.70" r="3.20" fill="#3a6fc4" stroke="#1d3f80" stroke-width="0.4"/>
<circle cx="450.00" cy="97.00" r="3.20" fill="#3a6fc4" stroke="#1d3f80" stroke-width="0.4"/>
<circle cx="465.00" cy="97.00" r="3.20" fill="#3a6fc4" stroke="#1d3f80" stroke-width="0.4"/>
<circle cx="477.30" cy="97.00" r="3.20" fill="#3a6fc4" stroke="#1d3f80" stroke-width="0.4"/>
<circle cx="492.80" cy="97.00" r="3.20" fill="#3a6fc4" stroke="#1d3f80" stroke-width="0.4"/>
<path d="M447.7,115.6 L447.7,164.1 L502,164.1" fill="none" stroke="#555" stroke-width="0.7"/>
<path d="M449.3,117 C449.6,135 450,150 450.4,160.6 C451.5,158.5 454,157.6 458,157 C470,155.8 485,155 500,154.2" fill="none" stroke="#555" stroke-width="0.7"/>
<text x="0.00" y="0.00" font-size="5.24" text-anchor="middle" transform="translate(442.4,140.5) rotate(-90)">Cross-validation error</text>
<text x="474.80" y="171.30" font-size="5.24" text-anchor="middle">Number of features</text>
<text x="479.00" y="119.00" font-size="5.24" text-anchor="middle">Increase in mean</text>
<text x="479.00" y="125.20" font-size="5.24" text-anchor="middle">squared error (%)</text>
<line x1="475.50" y1="127.80" x2="501.00" y2="127.80" stroke="#2d4a8a" stroke-width="0.5"/>
<path d="M499.5,126.6 L502,127.8 L499.5,129 Z" fill="#2d4a8a"/>
<rect x="476.00" y="131.30" width="25.00" height="3.60" fill="#3f6fc6"/>
<text x="473.60" y="134.60" font-size="5.24" text-anchor="end">Gene 1</text>
<rect x="476.00" y="137.00" width="18.50" height="3.60" fill="#3f6fc6"/>
<text x="473.60" y="140.30" font-size="5.24" text-anchor="end">Gene 2</text>
<rect x="476.00" y="142.90" width="8.00" height="3.60" fill="#3f6fc6"/>
<text x="473.60" y="146.20" font-size="5.24" text-anchor="end">Gene 3</text>
<text x="463.50" y="152.50" font-size="5.24" text-anchor="middle">...</text>
<rect x="538.00" y="82.00" width="6.40" height="5.40" fill="#fff" stroke="#333" stroke-width="0.5"/>
<text x="546.10" y="87.20" font-size="6.42" textLength="31.90" lengthAdjust="spacingAndGlyphs">Training set</text>
<rect x="579.50" y="82.00" width="6.40" height="5.40" fill="#3f6fc6" stroke="#333" stroke-width="0.5"/>
<text x="588.70" y="87.20" font-size="6.42" textLength="21.10" lengthAdjust="spacingAndGlyphs">Test set</text>
<text x="535.00" y="98.10" font-size="6.42" text-anchor="end">K1</text>
<rect x="537.50" y="92.70" width="6.45" height="6.30" fill="#fff" stroke="#333" stroke-width="0.5"/>
<rect x="543.95" y="92.70" width="6.45" height="6.30" fill="#fff" stroke="#333" stroke-width="0.5"/>
<rect x="550.39" y="92.70" width="6.45" height="6.30" fill="#fff" stroke="#333" stroke-width="0.5"/>
<rect x="556.84" y="92.70" width="6.45" height="6.30" fill="#fff" stroke="#333" stroke-width="0.5"/>
<rect x="563.28" y="92.70" width="6.45" height="6.30" fill="#fff" stroke="#333" stroke-width="0.5"/>
<rect x="569.73" y="92.70" width="6.45" height="6.30" fill="#fff" stroke="#333" stroke-width="0.5"/>
<rect x="576.17" y="92.70" width="6.45" height="6.30" fill="#fff" stroke="#333" stroke-width="0.5"/>
<rect x="582.62" y="92.70" width="6.45" height="6.30" fill="#fff" stroke="#333" stroke-width="0.5"/>
<rect x="589.06" y="92.70" width="6.45" height="6.30" fill="#fff" stroke="#333" stroke-width="0.5"/>
<rect x="595.51" y="92.70" width="6.45" height="6.30" fill="#fff" stroke="#333" stroke-width="0.5"/>
<rect x="601.95" y="92.70" width="6.45" height="6.30" fill="#3f6fc6" stroke="#333" stroke-width="0.5"/>
<text x="535.00" y="109.00" font-size="6.42" text-anchor="end">K2</text>
<rect x="537.50" y="103.60" width="6.45" height="6.30" fill="#fff" stroke="#333" stroke-width="0.5"/>
<rect x="543.95" y="103.60" width="6.45" height="6.30" fill="#fff" stroke="#333" stroke-width="0.5"/>
<rect x="550.39" y="103.60" width="6.45" height="6.30" fill="#fff" stroke="#333" stroke-width="0.5"/>
<rect x="556.84" y="103.60" width="6.45" height="6.30" fill="#fff" stroke="#333" stroke-width="0.5"/>
<rect x="563.28" y="103.60" width="6.45" height="6.30" fill="#fff" stroke="#333" stroke-width="0.5"/>
<rect x="569.73" y="103.60" width="6.45" height="6.30" fill="#fff" stroke="#333" stroke-width="0.5"/>
<rect x="576.17" y="103.60" width="6.45" height="6.30" fill="#fff" stroke="#333" stroke-width="0.5"/>
<rect x="582.62" y="103.60" width="6.45" height="6.30" fill="#fff" stroke="#333" stroke-width="0.5"/>
<rect x="589.06" y="103.60" width="6.45" height="6.30" fill="#fff" stroke="#333" stroke-width="0.5"/>
<rect x="595.51" y="103.60" width="6.45" height="6.30" fill="#3f6fc6" stroke="#333" stroke-width="0.5"/>
<rect x="601.95" y="103.60" width="6.45" height="6.30" fill="#fff" stroke="#333" stroke-width="0.5"/>
<text x="535.00" y="120.40" font-size="6.42" text-anchor="end">K3</text>
<rect x="537.50" y="115.00" width="6.45" height="6.30" fill="#fff" stroke="#333" stroke-width="0.5"/>
<rect x="543.95" y="115.00" width="6.45" height="6.30" fill="#fff" stroke="#333" stroke-width="0.5"/>
<rect x="550.39" y="115.00" width="6.45" height="6.30" fill="#fff" stroke="#333" stroke-width="0.5"/>
<rect x="556.84" y="115.00" width="6.45" height="6.30" fill="#fff" stroke="#333" stroke-width="0.5"/>
<rect x="563.28" y="115.00" width="6.45" height="6.30" fill="#fff" stroke="#333" stroke-width="0.5"/>
<rect x="569.73" y="115.00" width="6.45" height="6.30" fill="#fff" stroke="#333" stroke-width="0.5"/>
<rect x="576.17" y="115.00" width="6.45" height="6.30" fill="#fff" stroke="#333" stroke-width="0.5"/>
<rect x="582.62" y="115.00" width="6.45" height="6.30" fill="#fff" stroke="#333" stroke-width="0.5"/>
<rect x="589.06" y="115.00" width="6.45" height="6.30" fill="#3f6fc6" stroke="#333" stroke-width="0.5"/>
<rect x="595.51" y="115.00" width="6.45" height="6.30" fill="#fff" stroke="#333" stroke-width="0.5"/>
<rect x="601.95" y="115.00" width="6.45" height="6.30" fill="#fff" stroke="#333" stroke-width="0.5"/>
<text x="535.00" y="144.40" font-size="6.42" text-anchor="end">K10</text>
<rect x="537.50" y="139.00" width="6.45" height="6.30" fill="#3f6fc6" stroke="#333" stroke-width="0.5"/>
<rect x="543.95" y="139.00" width="6.45" height="6.30" fill="#fff" stroke="#333" stroke-width="0.5"/>
<rect x="550.39" y="139.00" width="6.45" height="6.30" fill="#fff" stroke="#333" stroke-width="0.5"/>
<rect x="556.84" y="139.00" width="6.45" height="6.30" fill="#fff" stroke="#333" stroke-width="0.5"/>
<rect x="563.28" y="139.00" width="6.45" height="6.30" fill="#fff" stroke="#333" stroke-width="0.5"/>
<rect x="569.73" y="139.00" width="6.45" height="6.30" fill="#fff" stroke="#333" stroke-width="0.5"/>
<rect x="576.17" y="139.00" width="6.45" height="6.30" fill="#fff" stroke="#333" stroke-width="0.5"/>
<rect x="582.62" y="139.00" width="6.45" height="6.30" fill="#fff" stroke="#333" stroke-width="0.5"/>
<rect x="589.06" y="139.00" width="6.45" height="6.30" fill="#fff" stroke="#333" stroke-width="0.5"/>
<rect x="595.51" y="139.00" width="6.45" height="6.30" fill="#fff" stroke="#333" stroke-width="0.5"/>
<rect x="601.95" y="139.00" width="6.45" height="6.30" fill="#fff" stroke="#333" stroke-width="0.5"/>
<circle cx="571.40" cy="129.60" r="0.75" fill="#333"/>
<circle cx="574.90" cy="129.60" r="0.75" fill="#333"/>
<circle cx="578.20" cy="129.60" r="0.75" fill="#333"/>
<path d="M620.3,32.75 L635,38.5 L620.3,44.25 L624.7099999999999,38.5 Z" fill="#b4b4b4"/>
<rect x="638.50" y="19.50" width="101.00" height="41.00" fill="#fff" stroke="#7a7a7a" stroke-width="1" rx="1.2"/>
<text x="658.00" y="36.50" font-size="10.27" textLength="61.60" lengthAdjust="spacingAndGlyphs">Final random</text>
<text x="660.00" y="48.50" font-size="10.27" textLength="58.60" lengthAdjust="spacingAndGlyphs">forest model</text>
<path d="M683.6,62 L689.6,76 L695.6,62 L689.6,66.2 Z" fill="#b4b4b4"/>
<rect x="638.50" y="80.50" width="101.00" height="105.00" fill="#fff" stroke="#7a7a7a" stroke-width="1" rx="1.2"/>
<text x="644.30" y="95.80" font-size="10.27" textLength="88.80" lengthAdjust="spacingAndGlyphs">Evaluation of siAge</text>
<text x="647.30" y="107.00" font-size="10.27" textLength="80.70" lengthAdjust="spacingAndGlyphs">prediction model</text>
<path d="M741,130.0 L756,136 L741,142.0 L745.5,136 Z" fill="#b4b4b4"/>
<rect x="761.50" y="20.50" width="96.00" height="167.00" fill="#fff" stroke="#7a7a7a" stroke-width="1" rx="1.2"/>
<text x="779.10" y="32.70" font-size="10.27" textLength="60.10" lengthAdjust="spacingAndGlyphs">Independent</text>
<text x="764.80" y="44.90" font-size="10.27" textLength="88.60" lengthAdjust="spacingAndGlyphs">validation datasets</text>
<rect x="766.20" y="51.60" width="85.50" height="60.60" fill="#dde9f5"/>
<rect x="766.20" y="120.10" width="85.50" height="60.50" fill="#fdedf4"/>
<text x="787.20" y="92.50" font-size="8.13" textLength="43.30" lengthAdjust="spacingAndGlyphs">One healthy</text>
<text x="779.10" y="100.90" font-size="8.13" textLength="60.30" lengthAdjust="spacingAndGlyphs">validation cohort</text>
<text x="782.60" y="159.50" font-size="8.13" textLength="53.40" lengthAdjust="spacingAndGlyphs">Three diseased</text>
<text x="777.40" y="168.40" font-size="8.13" textLength="63.80" lengthAdjust="spacingAndGlyphs">validation cohorts</text>
<g transform="translate(792.90,57.20)" fill="#1b77c0"><circle cx="0" cy="1.9" r="1.9"/><path d="M-4.6,5.6 Q-4.6,4.2 -3.2,4.2 L3.2,4.2 Q4.6,4.2 4.6,5.6 L4.6,12.8 L-4.6,12.8 Z"/><rect x="-2.8" y="12.4" width="5.6" height="9.2"/></g>
<g transform="translate(792.90,57.20)" stroke="#fff" stroke-width="0.6" opacity="0.8"><line x1="-2.6" y1="7" x2="-2.6" y2="13"/><line x1="2.6" y1="7" x2="2.6" y2="13"/><line x1="0" y1="14" x2="0" y2="21.6"/></g>
<g transform="translate(793.30,125.00)" fill="#b5403d"><circle cx="0" cy="1.9" r="1.9"/><path d="M-4.6,5.6 Q-4.6,4.2 -3.2,4.2 L3.2,4.2 Q4.6,4.2 4.6,5.6 L4.6,12.8 L-4.6,12.8 Z"/><rect x="-2.8" y="12.4" width="5.6" height="9.2"/></g>
<g transform="translate(793.30,125.00)" stroke="#fff" stroke-width="0.6" opacity="0.8"><line x1="-2.6" y1="7" x2="-2.6" y2="13"/><line x1="2.6" y1="7" x2="2.6" y2="13"/><line x1="0" y1="14" x2="0" y2="21.6"/></g>
<g transform="translate(803.80,57.20)" fill="#1b77c0"><circle cx="0" cy="1.9" r="1.9"/><path d="M-4.6,5.6 Q-4.6,4.2 -3.2,4.2 L3.2,4.2 Q4.6,4.2 4.6,5.6 L4.6,12.8 L-4.6,12.8 Z"/><rect x="-2.8" y="12.4" width="5.6" height="9.2"/></g>
<g transform="translate(803.80,57.20)" stroke="#fff" stroke-width="0.6" opacity="0.8"><line x1="-2.6" y1="7" x2="-2.6" y2="13"/><line x1="2.6" y1="7" x2="2.6" y2="13"/><line x1="0" y1="14" x2="0" y2="21.6"/></g>
<g transform="translate(803.87,125.00)" fill="#b5403d"><circle cx="0" cy="1.9" r="1.9"/><path d="M-4.6,5.6 Q-4.6,4.2 -3.2,4.2 L3.2,4.2 Q4.6,4.2 4.6,5.6 L4.6,12.8 L-4.6,12.8 Z"/><rect x="-2.8" y="12.4" width="5.6" height="9.2"/></g>
<g transform="translate(803.87,125.00)" stroke="#fff" stroke-width="0.6" opacity="0.8"><line x1="-2.6" y1="7" x2="-2.6" y2="13"/><line x1="2.6" y1="7" x2="2.6" y2="13"/><line x1="0" y1="14" x2="0" y2="21.6"/></g>
<g transform="translate(814.70,57.20)" fill="#1b77c0"><circle cx="0" cy="1.9" r="1.9"/><path d="M-4.6,5.6 Q-4.6,4.2 -3.2,4.2 L3.2,4.2 Q4.6,4.2 4.6,5.6 L4.6,12.8 L-4.6,12.8 Z"/><rect x="-2.8" y="12.4" width="5.6" height="9.2"/></g>
<g transform="translate(814.70,57.20)" stroke="#fff" stroke-width="0.6" opacity="0.8"><line x1="-2.6" y1="7" x2="-2.6" y2="13"/><line x1="2.6" y1="7" x2="2.6" y2="13"/><line x1="0" y1="14" x2="0" y2="21.6"/></g>
<g transform="translate(814.44,125.00)" fill="#b5403d"><circle cx="0" cy="1.9" r="1.9"/><path d="M-4.6,5.6 Q-4.6,4.2 -3.2,4.2 L3.2,4.2 Q4.6,4.2 4.6,5.6 L4.6,12.8 L-4.6,12.8 Z"/><rect x="-2.8" y="12.4" width="5.6" height="9.2"/></g>
<g transform="translate(814.44,125.00)" stroke="#fff" stroke-width="0.6" opacity="0.8"><line x1="-2.6" y1="7" x2="-2.6" y2="13"/><line x1="2.6" y1="7" x2="2.6" y2="13"/><line x1="0" y1="14" x2="0" y2="21.6"/></g>
<g transform="translate(825.60,57.20)" fill="#1b77c0"><circle cx="0" cy="1.9" r="1.9"/><path d="M-4.6,5.6 Q-4.6,4.2 -3.2,4.2 L3.2,4.2 Q4.6,4.2 4.6,5.6 L4.6,12.8 L-4.6,12.8 Z"/><rect x="-2.8" y="12.4" width="5.6" height="9.2"/></g>
<g transform="translate(825.60,57.20)" stroke="#fff" stroke-width="0.6" opacity="0.8"><line x1="-2.6" y1="7" x2="-2.6" y2="13"/><line x1="2.6" y1="7" x2="2.6" y2="13"/><line x1="0" y1="14" x2="0" y2="21.6"/></g>
<g transform="translate(825.01,125.00)" fill="#b5403d"><circle cx="0" cy="1.9" r="1.9"/><path d="M-4.6,5.6 Q-4.6,4.2 -3.2,4.2 L3.2,4.2 Q4.6,4.2 4.6,5.6 L4.6,12.8 L-4.6,12.8 Z"/><rect x="-2.8" y="12.4" width="5.6" height="9.2"/></g>
<g transform="translate(825.01,125.00)" stroke="#fff" stroke-width="0.6" opacity="0.8"><line x1="-2.6" y1="7" x2="-2.6" y2="13"/><line x1="2.6" y1="7" x2="2.6" y2="13"/><line x1="0" y1="14" x2="0" y2="21.6"/></g>
<line x1="682.90" y1="117.00" x2="682.90" y2="122.50" stroke="#aab2da" stroke-width="1.8"/>
<circle cx="682.90" cy="116.60" r="2.10" fill="#aab2da"/>
<line x1="666.10" y1="123.10" x2="669.50" y2="126.50" stroke="#aab2da" stroke-width="1.8"/>
<line x1="699.70" y1="123.10" x2="696.30" y2="126.50" stroke="#aab2da" stroke-width="1.8"/>
<circle cx="666.10" cy="123.10" r="2.50" fill="#aab2da"/>
<circle cx="699.70" cy="123.10" r="2.50" fill="#aab2da"/>
<circle cx="682.90" cy="140.80" r="18.60" fill="#fff" stroke="#aab2da" stroke-width="2.9"/>
<path d="M682.9,140.8 L682.9,124.20000000000002 A16.6,16.6 0 0 0 670.37,151.69 Z" fill="#a4abd6"/>
<circle cx="682.90" cy="140.80" r="2.00" fill="#9097c9"/>
<line x1="682.50" y1="128.80" x2="682.50" y2="125.80" stroke="#9a8fc0" stroke-width="0.9"/>
<line x1="689.30" y1="129.71" x2="690.30" y2="127.98" stroke="#8c92c4" stroke-width="0.9"/>
<line x1="693.99" y1="134.40" x2="695.72" y2="133.40" stroke="#8c92c4" stroke-width="0.9"/>
<line x1="694.90" y1="140.50" x2="697.90" y2="140.50" stroke="#8c92c4" stroke-width="0.9"/>
<line x1="693.99" y1="147.20" x2="695.72" y2="148.20" stroke="#8c92c4" stroke-width="0.9"/>
<line x1="689.30" y1="151.89" x2="690.30" y2="153.62" stroke="#8c92c4" stroke-width="0.9"/>
<line x1="682.50" y1="152.80" x2="682.50" y2="155.80" stroke="#8c92c4" stroke-width="0.9"/>
<line x1="676.50" y1="151.89" x2="675.50" y2="153.62" stroke="#8c92c4" stroke-width="0.9"/>
<line x1="671.81" y1="147.20" x2="670.08" y2="148.20" stroke="#9a8fc0" stroke-width="0.9"/>
<line x1="670.90" y1="140.50" x2="667.90" y2="140.50" stroke="#9a8fc0" stroke-width="0.9"/>
<line x1="671.81" y1="134.40" x2="670.08" y2="133.40" stroke="#9a8fc0" stroke-width="0.9"/>
<line x1="676.50" y1="129.71" x2="675.50" y2="127.98" stroke="#9a8fc0" stroke-width="0.9"/>
<path d="M691.6,163.2 L696.2,163.2 L696.2,160.4 L700.4,160.4 L700.4,157.6 L704.4,157.6 L704.4,154.9 L708.4,154.9" fill="none" stroke="#aab2da" stroke-width="1.7"/>
<circle cx="695.10" cy="145.40" r="1.35" fill="#8c92c4"/>
<path d="M694.2,147.6 L696.6,151.8 M694.6,148.2 L690.6,149.4 L689.6,151.6 M695.4,148.8 L698.8,150.4 M696.6,151.8 L693.4,153.6 L690.8,152.8 M696.6,151.8 L699.2,153.6 L699.8,156.2" fill="none" stroke="#8c92c4" stroke-width="1.5" stroke-linecap="round" stroke-linejoin="round"/>
<path d="M694.8,170.6 L712.4,161.2" fill="none" stroke="#8c92c4" stroke-width="1.0" stroke-dasharray="1.1,0.9"/>
<path d="M711.2,158.8 L715.8,159.3 L713.0,163.0 Z" fill="#8c92c4"/>
<text x="0.00" y="0.00" font-size="10.06" text-anchor="middle" transform="translate(706.2,177.2) rotate(-22)">Aging</text>
<text x="-0.20" y="216.70" font-size="16" font-weight="bold" fill="#000" stroke="#000" stroke-width="0.8">b</text>
<text x="-0.40" y="8.70" font-size="16" font-weight="bold" fill="#000" stroke="#000" stroke-width="0.8">a</text>
<rect x="112.50" y="223.50" width="124.00" height="240.00" fill="none" stroke="#666666" stroke-width="0.9"/>
<text x="10.80" y="241.10" font-size="11.02" textLength="93.10" lengthAdjust="spacingAndGlyphs">Multiple cell types</text>
<line x1="107.50" y1="237.50" x2="112.70" y2="237.50" stroke="#666666" stroke-width="0.8"/>
<circle cx="228.30" cy="237.80" r="4.60" fill="#dc1420"/>
<text x="17.40" y="264.80" font-size="11.02" textLength="86.50" lengthAdjust="spacingAndGlyphs">CD4_Naive_CCR7</text>
<line x1="107.50" y1="261.50" x2="112.70" y2="261.50" stroke="#666666" stroke-width="0.8"/>
<circle cx="205.80" cy="261.50" r="4.60" fill="#cf4434"/>
<text x="12.50" y="288.20" font-size="11.02" textLength="91.40" lengthAdjust="spacingAndGlyphs">CD8_TEM_ZNF683</text>
<line x1="107.50" y1="284.50" x2="112.70" y2="284.50" stroke="#666666" stroke-width="0.8"/>
<circle cx="185.00" cy="284.90" r="4.60" fill="#ae823a"/>
<text x="23.60" y="311.60" font-size="11.02" textLength="80.30" lengthAdjust="spacingAndGlyphs">CD8_Naive_LEF1</text>
<line x1="107.50" y1="308.50" x2="112.70" y2="308.50" stroke="#666666" stroke-width="0.8"/>
<circle cx="165.00" cy="308.30" r="4.60" fill="#ad6e91"/>
<text x="21.30" y="335.00" font-size="11.02" textLength="82.60" lengthAdjust="spacingAndGlyphs">CD4_TCM_AQP3</text>
<line x1="107.50" y1="331.50" x2="112.70" y2="331.50" stroke="#666666" stroke-width="0.8"/>
<circle cx="157.80" cy="331.70" r="4.60" fill="#3c6caf"/>
<text x="23.20" y="358.10" font-size="11.02" textLength="80.70" lengthAdjust="spacingAndGlyphs">CD8_TEM_CMC1</text>
<line x1="107.50" y1="354.50" x2="112.70" y2="354.50" stroke="#666666" stroke-width="0.8"/>
<circle cx="157.20" cy="354.80" r="4.60" fill="#5b3e16"/>
<text x="6.60" y="381.80" font-size="11.02" textLength="97.30" lengthAdjust="spacingAndGlyphs">B_Atypical_Memory</text>
<line x1="107.50" y1="378.50" x2="112.70" y2="378.50" stroke="#666666" stroke-width="0.8"/>
<circle cx="155.80" cy="378.50" r="4.60" fill="#7f8a59"/>
<text x="44.40" y="405.20" font-size="11.02" textLength="47.50" lengthAdjust="spacingAndGlyphs">NK_CD56</text>
<text x="92.30" y="400.70" font-size="7.49" textLength="11.60" lengthAdjust="spacingAndGlyphs">low</text>
<line x1="107.50" y1="401.50" x2="112.70" y2="401.50" stroke="#666666" stroke-width="0.8"/>
<circle cx="148.80" cy="401.90" r="4.60" fill="#a4cd92"/>
<text x="52.30" y="429.00" font-size="11.02" textLength="51.60" lengthAdjust="spacingAndGlyphs">B_Memory</text>
<line x1="107.50" y1="425.50" x2="112.70" y2="425.50" stroke="#666666" stroke-width="0.8"/>
<circle cx="136.40" cy="425.70" r="4.60" fill="#d3b04f"/>
<text x="7.90" y="452.70" font-size="11.02" textLength="96.00" lengthAdjust="spacingAndGlyphs">CD8_TCM_HAVCR2</text>
<line x1="107.50" y1="449.50" x2="112.70" y2="449.50" stroke="#666666" stroke-width="0.8"/>
<circle cx="131.80" cy="449.40" r="4.60" fill="#4c2a7b"/>
<line x1="118.50" y1="463.10" x2="118.50" y2="466.60" stroke="#666666" stroke-width="0.8"/>
<text x="118.20" y="477.90" font-size="10.06" text-anchor="middle" textLength="11.71" lengthAdjust="spacingAndGlyphs">70</text>
<line x1="145.50" y1="463.10" x2="145.50" y2="466.60" stroke="#666666" stroke-width="0.8"/>
<text x="145.00" y="477.90" font-size="10.06" text-anchor="middle" textLength="11.71" lengthAdjust="spacingAndGlyphs">75</text>
<line x1="171.50" y1="463.10" x2="171.50" y2="466.60" stroke="#666666" stroke-width="0.8"/>
<text x="171.80" y="477.90" font-size="10.06" text-anchor="middle" textLength="11.71" lengthAdjust="spacingAndGlyphs">80</text>
<line x1="198.50" y1="463.10" x2="198.50" y2="466.60" stroke="#666666" stroke-width="0.8"/>
<text x="198.60" y="477.90" font-size="10.06" text-anchor="middle" textLength="11.71" lengthAdjust="spacingAndGlyphs">85</text>
<line x1="225.50" y1="463.10" x2="225.50" y2="466.60" stroke="#666666" stroke-width="0.8"/>
<text x="225.40" y="477.90" font-size="10.06" text-anchor="middle" textLength="11.71" lengthAdjust="spacingAndGlyphs">90</text>
<text x="115.00" y="492.60" font-size="10.49" textLength="115.30" lengthAdjust="spacingAndGlyphs">Variance explained (%)</text>
<text x="270.30" y="216.80" font-size="16" font-weight="bold" fill="#000" stroke="#000" stroke-width="0.8">c</text>
<text x="342.20" y="218.60" font-size="11.13" textLength="77.50" lengthAdjust="spacingAndGlyphs">Training cohort</text>
<line x1="316.60" y1="358.64" x2="440.20" y2="241.93" stroke="#2e63d8" stroke-width="1.5"/>
<circle cx="316.60" cy="361.40" r="1.90" fill="#111"/>
<circle cx="316.60" cy="360.71" r="1.90" fill="#111"/>
<circle cx="316.60" cy="360.02" r="1.90" fill="#111"/>
<circle cx="316.60" cy="359.33" r="1.90" fill="#111"/>
<circle cx="316.60" cy="358.64" r="1.90" fill="#111"/>
<circle cx="317.97" cy="360.71" r="1.90" fill="#111"/>
<circle cx="317.97" cy="359.33" r="1.90" fill="#111"/>
<circle cx="317.97" cy="357.95" r="1.90" fill="#111"/>
<circle cx="319.35" cy="360.02" r="1.90" fill="#111"/>
<circle cx="319.35" cy="358.64" r="1.90" fill="#111"/>
<circle cx="319.35" cy="357.26" r="1.90" fill="#111"/>
<circle cx="324.84" cy="353.11" r="1.90" fill="#111"/>
<circle cx="324.84" cy="351.73" r="1.90" fill="#111"/>
<circle cx="324.84" cy="350.35" r="1.90" fill="#111"/>
<circle cx="333.08" cy="346.21" r="1.90" fill="#111"/>
<circle cx="333.08" cy="343.45" r="1.90" fill="#111"/>
<circle cx="333.08" cy="340.68" r="1.90" fill="#111"/>
<circle cx="333.08" cy="339.30" r="1.90" fill="#111"/>
<circle cx="341.32" cy="336.54" r="1.90" fill="#111"/>
<circle cx="341.32" cy="333.78" r="1.90" fill="#111"/>
<circle cx="341.32" cy="331.02" r="1.90" fill="#111"/>
<circle cx="341.32" cy="329.63" r="1.90" fill="#111"/>
<circle cx="341.32" cy="328.25" r="1.90" fill="#111"/>
<circle cx="357.80" cy="319.97" r="1.90" fill="#111"/>
<circle cx="357.80" cy="317.20" r="1.90" fill="#111"/>
<circle cx="357.80" cy="315.82" r="1.90" fill="#111"/>
<circle cx="357.80" cy="314.44" r="1.90" fill="#111"/>
<circle cx="371.53" cy="307.54" r="1.90" fill="#111"/>
<circle cx="371.53" cy="304.77" r="1.90" fill="#111"/>
<circle cx="371.53" cy="303.39" r="1.90" fill="#111"/>
<circle cx="371.53" cy="295.11" r="1.90" fill="#111"/>
<circle cx="385.27" cy="303.39" r="1.90" fill="#111"/>
<circle cx="385.27" cy="300.63" r="1.90" fill="#111"/>
<circle cx="385.27" cy="299.25" r="1.90" fill="#111"/>
<circle cx="385.27" cy="293.73" r="1.90" fill="#111"/>
<circle cx="385.27" cy="286.82" r="1.90" fill="#111"/>
<circle cx="399.00" cy="284.06" r="1.90" fill="#111"/>
<circle cx="399.00" cy="279.91" r="1.90" fill="#111"/>
<circle cx="399.00" cy="277.15" r="1.90" fill="#111"/>
<circle cx="412.73" cy="267.48" r="1.90" fill="#111"/>
<circle cx="412.73" cy="264.72" r="1.90" fill="#111"/>
<circle cx="412.73" cy="263.34" r="1.90" fill="#111"/>
<circle cx="412.73" cy="261.96" r="1.90" fill="#111"/>
<circle cx="426.47" cy="257.82" r="1.90" fill="#111"/>
<circle cx="426.47" cy="250.91" r="1.90" fill="#111"/>
<circle cx="440.20" cy="255.05" r="1.90" fill="#111"/>
<circle cx="440.20" cy="253.67" r="1.90" fill="#111"/>
<circle cx="440.20" cy="250.91" r="1.90" fill="#111"/>
<circle cx="440.20" cy="249.53" r="1.90" fill="#111"/>
<circle cx="440.20" cy="244.01" r="1.90" fill="#111"/>
<rect x="310.50" y="223.50" width="143.00" height="145.00" fill="none" stroke="#666666" stroke-width="0.9"/>
<line x1="306.60" y1="361.50" x2="310.20" y2="361.50" stroke="#666666" stroke-width="0.8"/>
<text x="302.60" y="364.70" font-size="10.06" text-anchor="end" textLength="5.86" lengthAdjust="spacingAndGlyphs">0</text>
<line x1="316.50" y1="368.20" x2="316.50" y2="371.80" stroke="#666666" stroke-width="0.8"/>
<text x="316.60" y="382.90" font-size="10.06" text-anchor="middle" textLength="5.86" lengthAdjust="spacingAndGlyphs">0</text>
<line x1="306.60" y1="347.50" x2="310.20" y2="347.50" stroke="#666666" stroke-width="0.8"/>
<text x="302.60" y="350.89" font-size="10.06" text-anchor="end" textLength="11.71" lengthAdjust="spacingAndGlyphs">10</text>
<line x1="330.50" y1="368.20" x2="330.50" y2="371.80" stroke="#666666" stroke-width="0.8"/>
<text x="330.33" y="382.90" font-size="10.06" text-anchor="middle" textLength="11.71" lengthAdjust="spacingAndGlyphs">10</text>
<line x1="306.60" y1="333.50" x2="310.20" y2="333.50" stroke="#666666" stroke-width="0.8"/>
<text x="302.60" y="337.08" font-size="10.06" text-anchor="end" textLength="11.71" lengthAdjust="spacingAndGlyphs">20</text>
<line x1="344.50" y1="368.20" x2="344.50" y2="371.80" stroke="#666666" stroke-width="0.8"/>
<text x="344.07" y="382.90" font-size="10.06" text-anchor="middle" textLength="11.71" lengthAdjust="spacingAndGlyphs">20</text>
<line x1="306.60" y1="319.50" x2="310.20" y2="319.50" stroke="#666666" stroke-width="0.8"/>
<text x="302.60" y="323.27" font-size="10.06" text-anchor="end" textLength="11.71" lengthAdjust="spacingAndGlyphs">30</text>
<line x1="357.50" y1="368.20" x2="357.50" y2="371.80" stroke="#666666" stroke-width="0.8"/>
<text x="357.80" y="382.90" font-size="10.06" text-anchor="middle" textLength="11.71" lengthAdjust="spacingAndGlyphs">30</text>
<line x1="306.60" y1="306.50" x2="310.20" y2="306.50" stroke="#666666" stroke-width="0.8"/>
<text x="302.60" y="309.46" font-size="10.06" text-anchor="end" textLength="11.71" lengthAdjust="spacingAndGlyphs">40</text>
<line x1="371.50" y1="368.20" x2="371.50" y2="371.80" stroke="#666666" stroke-width="0.8"/>
<text x="371.53" y="382.90" font-size="10.06" text-anchor="middle" textLength="11.71" lengthAdjust="spacingAndGlyphs">40</text>
<line x1="306.60" y1="292.50" x2="310.20" y2="292.50" stroke="#666666" stroke-width="0.8"/>
<text x="302.60" y="295.64" font-size="10.06" text-anchor="end" textLength="11.71" lengthAdjust="spacingAndGlyphs">50</text>
<line x1="385.50" y1="368.20" x2="385.50" y2="371.80" stroke="#666666" stroke-width="0.8"/>
<text x="385.27" y="382.90" font-size="10.06" text-anchor="middle" textLength="11.71" lengthAdjust="spacingAndGlyphs">50</text>
<line x1="306.60" y1="278.50" x2="310.20" y2="278.50" stroke="#666666" stroke-width="0.8"/>
<text x="302.60" y="281.83" font-size="10.06" text-anchor="end" textLength="11.71" lengthAdjust="spacingAndGlyphs">60</text>
<line x1="399.50" y1="368.20" x2="399.50" y2="371.80" stroke="#666666" stroke-width="0.8"/>
<text x="399.00" y="382.90" font-size="10.06" text-anchor="middle" textLength="11.71" lengthAdjust="spacingAndGlyphs">60</text>
<line x1="306.60" y1="264.50" x2="310.20" y2="264.50" stroke="#666666" stroke-width="0.8"/>
<text x="302.60" y="268.02" font-size="10.06" text-anchor="end" textLength="11.71" lengthAdjust="spacingAndGlyphs">70</text>
<line x1="412.50" y1="368.20" x2="412.50" y2="371.80" stroke="#666666" stroke-width="0.8"/>
<text x="412.73" y="382.90" font-size="10.06" text-anchor="middle" textLength="11.71" lengthAdjust="spacingAndGlyphs">70</text>
<line x1="306.60" y1="250.50" x2="310.20" y2="250.50" stroke="#666666" stroke-width="0.8"/>
<text x="302.60" y="254.21" font-size="10.06" text-anchor="end" textLength="11.71" lengthAdjust="spacingAndGlyphs">80</text>
<line x1="426.50" y1="368.20" x2="426.50" y2="371.80" stroke="#666666" stroke-width="0.8"/>
<text x="426.47" y="382.90" font-size="10.06" text-anchor="middle" textLength="11.71" lengthAdjust="spacingAndGlyphs">80</text>
<line x1="306.60" y1="237.50" x2="310.20" y2="237.50" stroke="#666666" stroke-width="0.8"/>
<text x="302.60" y="240.40" font-size="10.06" text-anchor="end" textLength="11.71" lengthAdjust="spacingAndGlyphs">90</text>
<line x1="440.50" y1="368.20" x2="440.50" y2="371.80" stroke="#666666" stroke-width="0.8"/>
<text x="440.20" y="382.90" font-size="10.06" text-anchor="middle" textLength="11.71" lengthAdjust="spacingAndGlyphs">90</text>
<text x="350.30" y="397.00" font-size="10.59" textLength="63.00" lengthAdjust="spacingAndGlyphs">cAge (years)</text>
<text x="0.00" y="0.00" font-size="11.13" text-anchor="middle" textLength="28.20" lengthAdjust="spacingAndGlyphs" transform="translate(281.6,295.8) rotate(-90)">siAge</text>
<text x="314.70" y="237.50" font-size="9.20" textLength="59.90" lengthAdjust="spacingAndGlyphs">PCC = 0.9940</text>
<text x="314.70" y="248.50" font-size="9.20" textLength="57.70" lengthAdjust="spacingAndGlyphs"><tspan font-style="italic">P</tspan> &lt; 2.2 × 10<tspan dy="-3.6" font-size="6.2">−16</tspan></text>
<text x="476.50" y="216.60" font-size="16" font-weight="bold" fill="#000" stroke="#000" stroke-width="0.8">d</text>
<text x="541.50" y="217.70" font-size="11.13" textLength="87.00" lengthAdjust="spacingAndGlyphs">Validation cohort</text>
<path d="M524.28,344.16 L528.96,340.39 L533.64,336.53 L538.32,332.58 L543.00,328.53 L547.68,324.40 L552.36,320.18 L557.04,315.87 L561.72,311.47 L566.40,306.98 L571.08,302.40 L575.76,297.73 L580.44,292.97 L585.13,288.12 L589.81,283.18 L594.49,278.15 L599.17,273.03 L603.85,267.83 L608.53,262.53 L613.21,257.14 L617.89,251.66 L617.89,268.12 L613.21,271.75 L608.53,275.48 L603.85,279.30 L599.17,283.20 L594.49,287.20 L589.81,291.29 L585.13,295.46 L580.44,299.73 L575.76,304.08 L571.08,308.53 L566.40,313.06 L561.72,317.69 L557.04,322.40 L552.36,327.21 L547.68,332.10 L543.00,337.09 L538.32,342.16 L533.64,347.33 L528.96,352.58 L524.28,357.92 Z" fill="#d4d4d4"/>
<line x1="524.28" y1="351.04" x2="617.89" y2="259.89" stroke="#2e63d8" stroke-width="1.5"/>
<circle cx="524.28" cy="355.19" r="1.90" fill="#111"/>
<circle cx="525.65" cy="354.49" r="1.90" fill="#111"/>
<circle cx="527.03" cy="353.11" r="1.90" fill="#111"/>
<circle cx="529.78" cy="352.42" r="1.90" fill="#111"/>
<circle cx="539.42" cy="340.68" r="1.90" fill="#111"/>
<circle cx="560.07" cy="313.06" r="1.90" fill="#111"/>
<circle cx="561.45" cy="313.75" r="1.90" fill="#111"/>
<circle cx="562.82" cy="308.92" r="1.90" fill="#111"/>
<circle cx="562.82" cy="306.16" r="1.90" fill="#111"/>
<circle cx="564.20" cy="319.97" r="1.90" fill="#111"/>
<circle cx="564.20" cy="325.49" r="1.90" fill="#111"/>
<circle cx="564.20" cy="302.01" r="1.90" fill="#111"/>
<circle cx="565.58" cy="302.01" r="1.90" fill="#111"/>
<circle cx="566.95" cy="311.68" r="1.90" fill="#111"/>
<circle cx="566.95" cy="315.82" r="1.90" fill="#111"/>
<circle cx="568.33" cy="317.20" r="1.90" fill="#111"/>
<circle cx="568.33" cy="286.82" r="1.90" fill="#111"/>
<circle cx="569.71" cy="308.92" r="1.90" fill="#111"/>
<circle cx="571.08" cy="299.94" r="1.90" fill="#111"/>
<circle cx="571.08" cy="313.06" r="1.90" fill="#111"/>
<circle cx="571.08" cy="319.97" r="1.90" fill="#111"/>
<circle cx="572.46" cy="307.54" r="1.90" fill="#111"/>
<circle cx="573.84" cy="310.30" r="1.90" fill="#111"/>
<circle cx="575.21" cy="296.49" r="1.90" fill="#111"/>
<circle cx="576.59" cy="303.39" r="1.90" fill="#111"/>
<circle cx="583.47" cy="290.96" r="1.90" fill="#111"/>
<circle cx="586.23" cy="300.63" r="1.90" fill="#111"/>
<circle cx="598.62" cy="271.63" r="1.90" fill="#111"/>
<circle cx="602.75" cy="257.82" r="1.90" fill="#111"/>
<circle cx="602.75" cy="273.01" r="1.90" fill="#111"/>
<circle cx="617.89" cy="284.06" r="1.90" fill="#111"/>
<rect x="516.50" y="223.50" width="144.00" height="145.00" fill="none" stroke="#666666" stroke-width="0.9"/>
<line x1="512.70" y1="361.50" x2="516.30" y2="361.50" stroke="#666666" stroke-width="0.8"/>
<text x="508.90" y="364.70" font-size="10.06" text-anchor="end" textLength="5.86" lengthAdjust="spacingAndGlyphs">0</text>
<line x1="522.50" y1="368.20" x2="522.50" y2="371.80" stroke="#666666" stroke-width="0.8"/>
<text x="522.90" y="382.90" font-size="10.06" text-anchor="middle" textLength="5.86" lengthAdjust="spacingAndGlyphs">0</text>
<line x1="512.70" y1="347.50" x2="516.30" y2="347.50" stroke="#666666" stroke-width="0.8"/>
<text x="508.90" y="350.89" font-size="10.06" text-anchor="end" textLength="11.71" lengthAdjust="spacingAndGlyphs">10</text>
<line x1="536.50" y1="368.20" x2="536.50" y2="371.80" stroke="#666666" stroke-width="0.8"/>
<text x="536.67" y="382.90" font-size="10.06" text-anchor="middle" textLength="11.71" lengthAdjust="spacingAndGlyphs">10</text>
<line x1="512.70" y1="333.50" x2="516.30" y2="333.50" stroke="#666666" stroke-width="0.8"/>
<text x="508.90" y="337.08" font-size="10.06" text-anchor="end" textLength="11.71" lengthAdjust="spacingAndGlyphs">20</text>
<line x1="550.50" y1="368.20" x2="550.50" y2="371.80" stroke="#666666" stroke-width="0.8"/>
<text x="550.43" y="382.90" font-size="10.06" text-anchor="middle" textLength="11.71" lengthAdjust="spacingAndGlyphs">20</text>
<line x1="512.70" y1="319.50" x2="516.30" y2="319.50" stroke="#666666" stroke-width="0.8"/>
<text x="508.90" y="323.27" font-size="10.06" text-anchor="end" textLength="11.71" lengthAdjust="spacingAndGlyphs">30</text>
<line x1="564.50" y1="368.20" x2="564.50" y2="371.80" stroke="#666666" stroke-width="0.8"/>
<text x="564.20" y="382.90" font-size="10.06" text-anchor="middle" textLength="11.71" lengthAdjust="spacingAndGlyphs">30</text>
<line x1="512.70" y1="306.50" x2="516.30" y2="306.50" stroke="#666666" stroke-width="0.8"/>
<text x="508.90" y="309.46" font-size="10.06" text-anchor="end" textLength="11.71" lengthAdjust="spacingAndGlyphs">40</text>
<line x1="577.50" y1="368.20" x2="577.50" y2="371.80" stroke="#666666" stroke-width="0.8"/>
<text x="577.97" y="382.90" font-size="10.06" text-anchor="middle" textLength="11.71" lengthAdjust="spacingAndGlyphs">40</text>
<line x1="512.70" y1="292.50" x2="516.30" y2="292.50" stroke="#666666" stroke-width="0.8"/>
<text x="508.90" y="295.64" font-size="10.06" text-anchor="end" textLength="11.71" lengthAdjust="spacingAndGlyphs">50</text>
<line x1="591.50" y1="368.20" x2="591.50" y2="371.80" stroke="#666666" stroke-width="0.8"/>
<text x="591.73" y="382.90" font-size="10.06" text-anchor="middle" textLength="11.71" lengthAdjust="spacingAndGlyphs">50</text>
<line x1="512.70" y1="278.50" x2="516.30" y2="278.50" stroke="#666666" stroke-width="0.8"/>
<text x="508.90" y="281.83" font-size="10.06" text-anchor="end" textLength="11.71" lengthAdjust="spacingAndGlyphs">60</text>
<line x1="605.50" y1="368.20" x2="605.50" y2="371.80" stroke="#666666" stroke-width="0.8"/>
<text x="605.50" y="382.90" font-size="10.06" text-anchor="middle" textLength="11.71" lengthAdjust="spacingAndGlyphs">60</text>
<line x1="512.70" y1="264.50" x2="516.30" y2="264.50" stroke="#666666" stroke-width="0.8"/>
<text x="508.90" y="268.02" font-size="10.06" text-anchor="end" textLength="11.71" lengthAdjust="spacingAndGlyphs">70</text>
<line x1="619.50" y1="368.20" x2="619.50" y2="371.80" stroke="#666666" stroke-width="0.8"/>
<text x="619.27" y="382.90" font-size="10.06" text-anchor="middle" textLength="11.71" lengthAdjust="spacingAndGlyphs">70</text>
<line x1="512.70" y1="250.50" x2="516.30" y2="250.50" stroke="#666666" stroke-width="0.8"/>
<text x="508.90" y="254.21" font-size="10.06" text-anchor="end" textLength="11.71" lengthAdjust="spacingAndGlyphs">80</text>
<line x1="633.50" y1="368.20" x2="633.50" y2="371.80" stroke="#666666" stroke-width="0.8"/>
<text x="633.03" y="382.90" font-size="10.06" text-anchor="middle" textLength="11.71" lengthAdjust="spacingAndGlyphs">80</text>
<line x1="512.70" y1="237.50" x2="516.30" y2="237.50" stroke="#666666" stroke-width="0.8"/>
<text x="508.90" y="240.40" font-size="10.06" text-anchor="end" textLength="11.71" lengthAdjust="spacingAndGlyphs">90</text>
<line x1="646.50" y1="368.20" x2="646.50" y2="371.80" stroke="#666666" stroke-width="0.8"/>
<text x="646.80" y="382.90" font-size="10.06" text-anchor="middle" textLength="11.71" lengthAdjust="spacingAndGlyphs">90</text>
<text x="551.70" y="397.00" font-size="10.59" textLength="66.60" lengthAdjust="spacingAndGlyphs">cAge (years)</text>
<text x="0.00" y="0.00" font-size="11.13" text-anchor="middle" textLength="28.90" lengthAdjust="spacingAndGlyphs" transform="translate(488.1,292.6) rotate(-90)">siAge</text>
<text x="521.10" y="237.30" font-size="9.20" textLength="59.40" lengthAdjust="spacingAndGlyphs">PCC = 0.8894</text>
<text x="521.10" y="247.60" font-size="9.20" textLength="70.30" lengthAdjust="spacingAndGlyphs"><tspan font-style="italic">P</tspan>  = 4.557 × 10<tspan dy="-3.6" font-size="6.2">−12</tspan></text>
<text x="684.60" y="217.00" font-size="16" font-weight="bold" fill="#000" stroke="#000" stroke-width="0.8">e</text>
<text x="756.20" y="217.50" font-size="11.13" textLength="81.20" lengthAdjust="spacingAndGlyphs">Diseased cohort</text>
<path d="M730.55,321.54 L734.88,319.90 L739.22,318.21 L743.55,316.46 L747.88,314.67 L752.22,312.82 L756.55,310.93 L760.88,308.98 L765.22,306.98 L769.55,304.93 L773.88,302.82 L778.21,300.67 L782.55,298.47 L786.88,296.21 L791.21,293.90 L795.55,291.54 L799.88,289.13 L804.21,286.67 L808.55,284.15 L812.88,281.59 L817.21,278.97 L817.21,293.29 L812.88,294.68 L808.55,296.12 L804.21,297.61 L799.88,299.15 L795.55,300.74 L791.21,302.39 L786.88,304.09 L782.55,305.84 L778.21,307.64 L773.88,309.49 L769.55,311.39 L765.22,313.34 L760.88,315.35 L756.55,317.40 L752.22,319.51 L747.88,321.67 L743.55,323.88 L739.22,326.14 L734.88,328.46 L730.55,330.82 Z" fill="#d4d4d4"/>
<line x1="730.55" y1="326.18" x2="817.21" y2="286.13" stroke="#2e63d8" stroke-width="1.5"/>
<circle cx="730.55" cy="339.30" r="1.90" fill="#111"/>
<circle cx="730.55" cy="343.45" r="1.90" fill="#111"/>
<circle cx="731.93" cy="346.21" r="1.90" fill="#111"/>
<circle cx="733.30" cy="348.97" r="1.90" fill="#111"/>
<circle cx="734.68" cy="338.61" r="1.90" fill="#111"/>
<circle cx="736.05" cy="337.92" r="1.90" fill="#111"/>
<circle cx="744.31" cy="326.87" r="1.90" fill="#111"/>
<circle cx="745.68" cy="321.35" r="1.90" fill="#111"/>
<circle cx="745.68" cy="330.32" r="1.90" fill="#111"/>
<circle cx="745.68" cy="311.68" r="1.90" fill="#111"/>
<circle cx="745.68" cy="304.77" r="1.90" fill="#111"/>
<circle cx="747.06" cy="326.87" r="1.90" fill="#111"/>
<circle cx="748.43" cy="325.49" r="1.90" fill="#111"/>
<circle cx="749.81" cy="300.63" r="1.90" fill="#111"/>
<circle cx="749.81" cy="307.54" r="1.90" fill="#111"/>
<circle cx="751.18" cy="280.61" r="1.90" fill="#111"/>
<circle cx="751.18" cy="284.75" r="1.90" fill="#111"/>
<circle cx="751.18" cy="304.77" r="1.90" fill="#111"/>
<circle cx="751.18" cy="308.92" r="1.90" fill="#111"/>
<circle cx="751.18" cy="313.06" r="1.90" fill="#111"/>
<circle cx="751.18" cy="322.73" r="1.90" fill="#111"/>
<circle cx="752.56" cy="293.73" r="1.90" fill="#111"/>
<circle cx="752.56" cy="297.87" r="1.90" fill="#111"/>
<circle cx="752.56" cy="302.01" r="1.90" fill="#111"/>
<circle cx="752.56" cy="306.16" r="1.90" fill="#111"/>
<circle cx="752.56" cy="311.68" r="1.90" fill="#111"/>
<circle cx="752.56" cy="322.73" r="1.90" fill="#111"/>
<circle cx="752.56" cy="324.11" r="1.90" fill="#111"/>
<circle cx="753.94" cy="311.68" r="1.90" fill="#111"/>
<circle cx="753.94" cy="324.11" r="1.90" fill="#111"/>
<circle cx="758.06" cy="326.87" r="1.90" fill="#111"/>
<circle cx="760.81" cy="326.18" r="1.90" fill="#111"/>
<circle cx="764.94" cy="306.85" r="1.90" fill="#111"/>
<circle cx="777.32" cy="311.68" r="1.90" fill="#111"/>
<circle cx="778.70" cy="306.16" r="1.90" fill="#111"/>
<circle cx="788.32" cy="311.68" r="1.90" fill="#111"/>
<circle cx="792.45" cy="285.44" r="1.90" fill="#111"/>
<circle cx="795.20" cy="294.42" r="1.90" fill="#111"/>
<circle cx="795.20" cy="302.70" r="1.90" fill="#111"/>
<circle cx="799.33" cy="281.30" r="1.90" fill="#111"/>
<circle cx="800.70" cy="278.53" r="1.90" fill="#111"/>
<circle cx="802.08" cy="288.20" r="1.90" fill="#111"/>
<circle cx="803.46" cy="310.99" r="1.90" fill="#111"/>
<circle cx="807.58" cy="315.13" r="1.90" fill="#111"/>
<circle cx="814.46" cy="296.49" r="1.90" fill="#111"/>
<circle cx="815.84" cy="288.89" r="1.90" fill="#111"/>
<circle cx="817.21" cy="286.82" r="1.90" fill="#111"/>
<rect x="721.50" y="223.50" width="143.00" height="145.00" fill="none" stroke="#666666" stroke-width="0.9"/>
<line x1="717.70" y1="361.50" x2="721.30" y2="361.50" stroke="#666666" stroke-width="0.8"/>
<text x="714.30" y="364.70" font-size="10.06" text-anchor="end" textLength="5.86" lengthAdjust="spacingAndGlyphs">0</text>
<line x1="727.50" y1="368.20" x2="727.50" y2="371.80" stroke="#666666" stroke-width="0.8"/>
<text x="727.80" y="382.90" font-size="10.06" text-anchor="middle" textLength="5.86" lengthAdjust="spacingAndGlyphs">0</text>
<line x1="717.70" y1="347.50" x2="721.30" y2="347.50" stroke="#666666" stroke-width="0.8"/>
<text x="714.30" y="350.89" font-size="10.06" text-anchor="end" textLength="11.71" lengthAdjust="spacingAndGlyphs">10</text>
<line x1="741.50" y1="368.20" x2="741.50" y2="371.80" stroke="#666666" stroke-width="0.8"/>
<text x="741.56" y="382.90" font-size="10.06" text-anchor="middle" textLength="11.71" lengthAdjust="spacingAndGlyphs">10</text>
<line x1="717.70" y1="333.50" x2="721.30" y2="333.50" stroke="#666666" stroke-width="0.8"/>
<text x="714.30" y="337.08" font-size="10.06" text-anchor="end" textLength="11.71" lengthAdjust="spacingAndGlyphs">20</text>
<line x1="755.50" y1="368.20" x2="755.50" y2="371.80" stroke="#666666" stroke-width="0.8"/>
<text x="755.31" y="382.90" font-size="10.06" text-anchor="middle" textLength="11.71" lengthAdjust="spacingAndGlyphs">20</text>
<line x1="717.70" y1="319.50" x2="721.30" y2="319.50" stroke="#666666" stroke-width="0.8"/>
<text x="714.30" y="323.27" font-size="10.06" text-anchor="end" textLength="11.71" lengthAdjust="spacingAndGlyphs">30</text>
<line x1="769.50" y1="368.20" x2="769.50" y2="371.80" stroke="#666666" stroke-width="0.8"/>
<text x="769.07" y="382.90" font-size="10.06" text-anchor="middle" textLength="11.71" lengthAdjust="spacingAndGlyphs">30</text>
<line x1="717.70" y1="306.50" x2="721.30" y2="306.50" stroke="#666666" stroke-width="0.8"/>
<text x="714.30" y="309.46" font-size="10.06" text-anchor="end" textLength="11.71" lengthAdjust="spacingAndGlyphs">40</text>
<line x1="782.50" y1="368.20" x2="782.50" y2="371.80" stroke="#666666" stroke-width="0.8"/>
<text x="782.82" y="382.90" font-size="10.06" text-anchor="middle" textLength="11.71" lengthAdjust="spacingAndGlyphs">40</text>
<line x1="717.70" y1="292.50" x2="721.30" y2="292.50" stroke="#666666" stroke-width="0.8"/>
<text x="714.30" y="295.64" font-size="10.06" text-anchor="end" textLength="11.71" lengthAdjust="spacingAndGlyphs">50</text>
<line x1="796.50" y1="368.20" x2="796.50" y2="371.80" stroke="#666666" stroke-width="0.8"/>
<text x="796.58" y="382.90" font-size="10.06" text-anchor="middle" textLength="11.71" lengthAdjust="spacingAndGlyphs">50</text>
<line x1="717.70" y1="278.50" x2="721.30" y2="278.50" stroke="#666666" stroke-width="0.8"/>
<text x="714.30" y="281.83" font-size="10.06" text-anchor="end" textLength="11.71" lengthAdjust="spacingAndGlyphs">60</text>
<line x1="810.50" y1="368.20" x2="810.50" y2="371.80" stroke="#666666" stroke-width="0.8"/>
<text x="810.33" y="382.90" font-size="10.06" text-anchor="middle" textLength="11.71" lengthAdjust="spacingAndGlyphs">60</text>
<line x1="717.70" y1="264.50" x2="721.30" y2="264.50" stroke="#666666" stroke-width="0.8"/>
<text x="714.30" y="268.02" font-size="10.06" text-anchor="end" textLength="11.71" lengthAdjust="spacingAndGlyphs">70</text>
<line x1="824.50" y1="368.20" x2="824.50" y2="371.80" stroke="#666666" stroke-width="0.8"/>
<text x="824.09" y="382.90" font-size="10.06" text-anchor="middle" textLength="11.71" lengthAdjust="spacingAndGlyphs">70</text>
<line x1="717.70" y1="250.50" x2="721.30" y2="250.50" stroke="#666666" stroke-width="0.8"/>
<text x="714.30" y="254.21" font-size="10.06" text-anchor="end" textLength="11.71" lengthAdjust="spacingAndGlyphs">80</text>
<line x1="837.50" y1="368.20" x2="837.50" y2="371.80" stroke="#666666" stroke-width="0.8"/>
<text x="837.84" y="382.90" font-size="10.06" text-anchor="middle" textLength="11.71" lengthAdjust="spacingAndGlyphs">80</text>
<line x1="717.70" y1="237.50" x2="721.30" y2="237.50" stroke="#666666" stroke-width="0.8"/>
<text x="714.30" y="240.40" font-size="10.06" text-anchor="end" textLength="11.71" lengthAdjust="spacingAndGlyphs">90</text>
<line x1="851.50" y1="368.20" x2="851.50" y2="371.80" stroke="#666666" stroke-width="0.8"/>
<text x="851.60" y="382.90" font-size="10.06" text-anchor="middle" textLength="11.71" lengthAdjust="spacingAndGlyphs">90</text>
<text x="761.30" y="397.00" font-size="10.59" textLength="63.60" lengthAdjust="spacingAndGlyphs">cAge (years)</text>
<text x="0.00" y="0.00" font-size="11.13" text-anchor="middle" textLength="28.20" lengthAdjust="spacingAndGlyphs" transform="translate(694.6,296) rotate(-90)">siAge</text>
<text x="727.70" y="237.30" font-size="9.20" textLength="58.70" lengthAdjust="spacingAndGlyphs">PCC = 0.6526</text>
<text x="727.70" y="247.60" font-size="9.20" textLength="69.10" lengthAdjust="spacingAndGlyphs"><tspan font-style="italic">P</tspan>  = 5.008 × 10<tspan dy="-3.6" font-size="6.2">−8</tspan></text>
<text x="-0.30" y="513.60" font-size="16" font-weight="bold" fill="#000" stroke="#000" stroke-width="0.8">f</text>
<line x1="39.50" y1="515.00" x2="39.50" y2="670.00" stroke="#666666" stroke-width="0.9"/>
<line x1="39.20" y1="670.50" x2="249.70" y2="670.50" stroke="#666666" stroke-width="0.9"/>
<line x1="35.60" y1="525.50" x2="39.20" y2="525.50" stroke="#666666" stroke-width="0.8"/>
<text x="31.80" y="529.20" font-size="10.27" text-anchor="end">4</text>
<line x1="35.60" y1="554.50" x2="39.20" y2="554.50" stroke="#666666" stroke-width="0.8"/>
<text x="31.80" y="558.05" font-size="10.27" text-anchor="end">3</text>
<line x1="35.60" y1="583.50" x2="39.20" y2="583.50" stroke="#666666" stroke-width="0.8"/>
<text x="31.80" y="586.90" font-size="10.27" text-anchor="end">2</text>
<line x1="35.60" y1="612.50" x2="39.20" y2="612.50" stroke="#666666" stroke-width="0.8"/>
<text x="31.80" y="615.75" font-size="10.27" text-anchor="end">1</text>
<line x1="35.60" y1="641.50" x2="39.20" y2="641.50" stroke="#666666" stroke-width="0.8"/>
<text x="31.80" y="644.60" font-size="10.27" text-anchor="end">0</text>
<line x1="35.60" y1="670.50" x2="39.20" y2="670.50" stroke="#666666" stroke-width="0.8"/>
<text x="31.80" y="673.45" font-size="10.27" text-anchor="end">−1</text>
<line x1="69.50" y1="670.00" x2="69.50" y2="673.60" stroke="#666666" stroke-width="0.8"/>
<text x="69.70" y="687.80" font-size="10.91" text-anchor="middle">HC</text>
<line x1="119.50" y1="670.00" x2="119.50" y2="673.60" stroke="#666666" stroke-width="0.8"/>
<text x="119.70" y="687.80" font-size="10.91" text-anchor="middle">NPC</text>
<line x1="169.50" y1="670.00" x2="169.50" y2="673.60" stroke="#666666" stroke-width="0.8"/>
<text x="169.30" y="687.80" font-size="10.91" text-anchor="middle">SLE</text>
<line x1="219.50" y1="670.00" x2="219.50" y2="673.60" stroke="#666666" stroke-width="0.8"/>
<text x="219.60" y="687.80" font-size="10.91" text-anchor="middle">KD</text>
<text x="0.00" y="0.00" font-size="11.34" text-anchor="middle" transform="translate(15.1,587) rotate(-90)">Fit index = log<tspan dy="2.5" font-size="7.2">2</tspan><tspan dy="-2.5">(siAge/cAge)</tspan></text>
<line x1="39.20" y1="641.50" x2="249.70" y2="641.50" stroke="#555" stroke-width="1" stroke-dasharray="4.2,2.8"/>
<path d="M69.7,590.5 L69.7,586.5 L118.5,586.5 L118.5,590.5" fill="none" stroke="#555" stroke-width="0.9"/>
<text x="94.00" y="582.50" font-size="10.06" text-anchor="middle"><tspan font-style="italic">P</tspan>  = 0.022</text>
<path d="M69.7,562.7 L69.7,558.7 L168.6,558.7 L168.6,562.7" fill="none" stroke="#555" stroke-width="0.9"/>
<text x="120.00" y="554.70" font-size="10.06" text-anchor="middle"><tspan font-style="italic">P</tspan>  = 4.6 × 10<tspan dy="-3.8" font-size="6.5">−11</tspan></text>
<path d="M69.7,536.5 L69.7,532.5 L218.8,532.5 L218.8,536.5" fill="none" stroke="#555" stroke-width="0.9"/>
<text x="145.00" y="528.50" font-size="10.06" text-anchor="middle"><tspan font-style="italic">P</tspan>  = 7.3 × 10<tspan dy="-3.8" font-size="6.5">−5</tspan></text>
<line x1="70.50" y1="633.99" x2="70.50" y2="623.89" stroke="#555" stroke-width="0.8"/>
<line x1="70.50" y1="642.64" x2="70.50" y2="648.41" stroke="#555" stroke-width="0.8"/>
<rect x="51.50" y="633.50" width="37.00" height="9.00" fill="none" stroke="#555" stroke-width="0.8"/>
<line x1="51.35" y1="638.50" x2="88.65" y2="638.50" stroke="#555" stroke-width="0.8"/>
<line x1="119.50" y1="638.32" x2="119.50" y2="636.01" stroke="#555" stroke-width="0.8"/>
<line x1="119.50" y1="649.28" x2="119.50" y2="658.51" stroke="#555" stroke-width="0.8"/>
<rect x="101.50" y="638.50" width="37.00" height="11.00" fill="none" stroke="#555" stroke-width="0.8"/>
<line x1="101.20" y1="644.50" x2="138.40" y2="644.50" stroke="#555" stroke-width="0.8"/>
<line x1="169.50" y1="603.70" x2="169.50" y2="589.85" stroke="#555" stroke-width="0.8"/>
<line x1="169.50" y1="619.56" x2="169.50" y2="640.62" stroke="#555" stroke-width="0.8"/>
<rect x="150.50" y="603.50" width="38.00" height="16.00" fill="none" stroke="#555" stroke-width="0.8"/>
<line x1="150.45" y1="611.50" x2="188.55" y2="611.50" stroke="#555" stroke-width="0.8"/>
<line x1="219.50" y1="558.11" x2="219.50" y2="553.21" stroke="#555" stroke-width="0.8"/>
<line x1="219.50" y1="592.16" x2="219.50" y2="600.23" stroke="#555" stroke-width="0.8"/>
<rect x="200.50" y="558.50" width="38.00" height="34.00" fill="none" stroke="#555" stroke-width="0.8"/>
<line x1="200.55" y1="581.50" x2="238.05" y2="581.50" stroke="#555" stroke-width="0.8"/>
<circle cx="71.22" cy="637.27" r="2.05" fill="#ef7b6f" stroke="#a8453c" stroke-width="0.5"/>
<circle cx="76.98" cy="631.61" r="2.05" fill="#ef7b6f" stroke="#a8453c" stroke-width="0.5"/>
<circle cx="72.98" cy="642.31" r="2.05" fill="#ef7b6f" stroke="#a8453c" stroke-width="0.5"/>
<circle cx="77.42" cy="632.87" r="2.05" fill="#ef7b6f" stroke="#a8453c" stroke-width="0.5"/>
<circle cx="76.12" cy="639.01" r="2.05" fill="#ef7b6f" stroke="#a8453c" stroke-width="0.5"/>
<circle cx="78.54" cy="639.02" r="2.05" fill="#ef7b6f" stroke="#a8453c" stroke-width="0.5"/>
<circle cx="71.41" cy="628.42" r="2.05" fill="#ef7b6f" stroke="#a8453c" stroke-width="0.5"/>
<circle cx="63.64" cy="636.97" r="2.05" fill="#ef7b6f" stroke="#a8453c" stroke-width="0.5"/>
<circle cx="76.19" cy="637.95" r="2.05" fill="#ef7b6f" stroke="#a8453c" stroke-width="0.5"/>
<circle cx="78.06" cy="634.16" r="2.05" fill="#ef7b6f" stroke="#a8453c" stroke-width="0.5"/>
<circle cx="76.98" cy="632.21" r="2.05" fill="#ef7b6f" stroke="#a8453c" stroke-width="0.5"/>
<circle cx="70.94" cy="637.89" r="2.05" fill="#ef7b6f" stroke="#a8453c" stroke-width="0.5"/>
<circle cx="73.55" cy="634.85" r="2.05" fill="#ef7b6f" stroke="#a8453c" stroke-width="0.5"/>
<circle cx="64.50" cy="642.51" r="2.05" fill="#ef7b6f" stroke="#a8453c" stroke-width="0.5"/>
<circle cx="75.67" cy="639.54" r="2.05" fill="#ef7b6f" stroke="#a8453c" stroke-width="0.5"/>
<circle cx="71.02" cy="639.89" r="2.05" fill="#ef7b6f" stroke="#a8453c" stroke-width="0.5"/>
<circle cx="65.83" cy="644.27" r="2.05" fill="#ef7b6f" stroke="#a8453c" stroke-width="0.5"/>
<circle cx="61.84" cy="645.14" r="2.05" fill="#ef7b6f" stroke="#a8453c" stroke-width="0.5"/>
<circle cx="73.24" cy="645.72" r="2.05" fill="#ef7b6f" stroke="#a8453c" stroke-width="0.5"/>
<circle cx="78.52" cy="638.91" r="2.05" fill="#ef7b6f" stroke="#a8453c" stroke-width="0.5"/>
<circle cx="62.29" cy="638.58" r="2.05" fill="#ef7b6f" stroke="#a8453c" stroke-width="0.5"/>
<circle cx="75.11" cy="639.31" r="2.05" fill="#ef7b6f" stroke="#a8453c" stroke-width="0.5"/>
<circle cx="68.09" cy="637.40" r="2.05" fill="#ef7b6f" stroke="#a8453c" stroke-width="0.5"/>
<circle cx="63.41" cy="644.29" r="2.05" fill="#ef7b6f" stroke="#a8453c" stroke-width="0.5"/>
<circle cx="65.99" cy="638.13" r="2.05" fill="#ef7b6f" stroke="#a8453c" stroke-width="0.5"/>
<circle cx="74.54" cy="636.57" r="2.05" fill="#ef7b6f" stroke="#a8453c" stroke-width="0.5"/>
<circle cx="76.41" cy="634.05" r="2.05" fill="#ef7b6f" stroke="#a8453c" stroke-width="0.5"/>
<circle cx="61.50" cy="641.89" r="2.05" fill="#ef7b6f" stroke="#a8453c" stroke-width="0.5"/>
<circle cx="71.76" cy="639.70" r="2.05" fill="#ef7b6f" stroke="#a8453c" stroke-width="0.5"/>
<circle cx="65.15" cy="647.62" r="2.05" fill="#ef7b6f" stroke="#a8453c" stroke-width="0.5"/>
<circle cx="73.63" cy="640.21" r="2.05" fill="#ef7b6f" stroke="#a8453c" stroke-width="0.5"/>
<circle cx="68.01" cy="648.41" r="2.05" fill="#ef7b6f" stroke="#a8453c" stroke-width="0.5"/>
<circle cx="76.56" cy="644.70" r="2.05" fill="#ef7b6f" stroke="#a8453c" stroke-width="0.5"/>
<circle cx="78.35" cy="632.34" r="2.05" fill="#ef7b6f" stroke="#a8453c" stroke-width="0.5"/>
<circle cx="69.75" cy="648.41" r="2.05" fill="#ef7b6f" stroke="#a8453c" stroke-width="0.5"/>
<circle cx="78.67" cy="633.82" r="2.05" fill="#ef7b6f" stroke="#a8453c" stroke-width="0.5"/>
<circle cx="66.27" cy="636.13" r="2.05" fill="#ef7b6f" stroke="#a8453c" stroke-width="0.5"/>
<circle cx="62.09" cy="639.27" r="2.05" fill="#ef7b6f" stroke="#a8453c" stroke-width="0.5"/>
<circle cx="71.50" cy="635.49" r="2.05" fill="#ef7b6f" stroke="#a8453c" stroke-width="0.5"/>
<circle cx="61.26" cy="635.15" r="2.05" fill="#ef7b6f" stroke="#a8453c" stroke-width="0.5"/>
<circle cx="64.25" cy="632.61" r="2.05" fill="#ef7b6f" stroke="#a8453c" stroke-width="0.5"/>
<circle cx="68.04" cy="638.87" r="2.05" fill="#ef7b6f" stroke="#a8453c" stroke-width="0.5"/>
<circle cx="71.69" cy="640.64" r="2.05" fill="#ef7b6f" stroke="#a8453c" stroke-width="0.5"/>
<circle cx="63.51" cy="640.70" r="2.05" fill="#ef7b6f" stroke="#a8453c" stroke-width="0.5"/>
<circle cx="61.46" cy="642.58" r="2.05" fill="#ef7b6f" stroke="#a8453c" stroke-width="0.5"/>
<circle cx="76.32" cy="637.96" r="2.05" fill="#ef7b6f" stroke="#a8453c" stroke-width="0.5"/>
<circle cx="66.35" cy="641.59" r="2.05" fill="#ef7b6f" stroke="#a8453c" stroke-width="0.5"/>
<circle cx="77.96" cy="632.50" r="2.05" fill="#ef7b6f" stroke="#a8453c" stroke-width="0.5"/>
<circle cx="73.67" cy="621.58" r="2.05" fill="#ef7b6f" stroke="#a8453c" stroke-width="0.5"/>
<circle cx="68.48" cy="625.33" r="2.05" fill="#ef7b6f" stroke="#a8453c" stroke-width="0.5"/>
<circle cx="69.30" cy="626.78" r="2.05" fill="#ef7b6f" stroke="#a8453c" stroke-width="0.5"/>
<circle cx="112.80" cy="636.10" r="2.05" fill="#7ea41c" stroke="#4c6410" stroke-width="0.5"/>
<circle cx="117.20" cy="635.60" r="2.05" fill="#7ea41c" stroke="#4c6410" stroke-width="0.5"/>
<circle cx="124.20" cy="636.90" r="2.05" fill="#7ea41c" stroke="#4c6410" stroke-width="0.5"/>
<circle cx="111.60" cy="642.20" r="2.05" fill="#7ea41c" stroke="#4c6410" stroke-width="0.5"/>
<circle cx="122.10" cy="642.20" r="2.05" fill="#7ea41c" stroke="#4c6410" stroke-width="0.5"/>
<circle cx="119.60" cy="647.50" r="2.05" fill="#7ea41c" stroke="#4c6410" stroke-width="0.5"/>
<circle cx="123.80" cy="649.50" r="2.05" fill="#7ea41c" stroke="#4c6410" stroke-width="0.5"/>
<circle cx="126.20" cy="648.80" r="2.05" fill="#7ea41c" stroke="#4c6410" stroke-width="0.5"/>
<circle cx="126.90" cy="654.30" r="2.05" fill="#7ea41c" stroke="#4c6410" stroke-width="0.5"/>
<circle cx="120.10" cy="659.20" r="2.05" fill="#7ea41c" stroke="#4c6410" stroke-width="0.5"/>
<circle cx="163.80" cy="593.60" r="2.05" fill="#1fb3c2" stroke="#0d6d78" stroke-width="0.5"/>
<circle cx="170.60" cy="591.90" r="2.05" fill="#1fb3c2" stroke="#0d6d78" stroke-width="0.5"/>
<circle cx="176.40" cy="590.70" r="2.05" fill="#1fb3c2" stroke="#0d6d78" stroke-width="0.5"/>
<circle cx="170.40" cy="597.30" r="2.05" fill="#1fb3c2" stroke="#0d6d78" stroke-width="0.5"/>
<circle cx="163.10" cy="600.20" r="2.05" fill="#1fb3c2" stroke="#0d6d78" stroke-width="0.5"/>
<circle cx="167.50" cy="601.70" r="2.05" fill="#1fb3c2" stroke="#0d6d78" stroke-width="0.5"/>
<circle cx="173.00" cy="601.70" r="2.05" fill="#1fb3c2" stroke="#0d6d78" stroke-width="0.5"/>
<circle cx="177.70" cy="604.10" r="2.05" fill="#1fb3c2" stroke="#0d6d78" stroke-width="0.5"/>
<circle cx="161.40" cy="607.00" r="2.05" fill="#1fb3c2" stroke="#0d6d78" stroke-width="0.5"/>
<circle cx="166.70" cy="606.50" r="2.05" fill="#1fb3c2" stroke="#0d6d78" stroke-width="0.5"/>
<circle cx="171.10" cy="608.20" r="2.05" fill="#1fb3c2" stroke="#0d6d78" stroke-width="0.5"/>
<circle cx="176.70" cy="608.20" r="2.05" fill="#1fb3c2" stroke="#0d6d78" stroke-width="0.5"/>
<circle cx="163.30" cy="613.10" r="2.05" fill="#1fb3c2" stroke="#0d6d78" stroke-width="0.5"/>
<circle cx="168.70" cy="614.30" r="2.05" fill="#1fb3c2" stroke="#0d6d78" stroke-width="0.5"/>
<circle cx="174.30" cy="613.50" r="2.05" fill="#1fb3c2" stroke="#0d6d78" stroke-width="0.5"/>
<circle cx="177.20" cy="614.80" r="2.05" fill="#1fb3c2" stroke="#0d6d78" stroke-width="0.5"/>
<circle cx="165.80" cy="616.70" r="2.05" fill="#1fb3c2" stroke="#0d6d78" stroke-width="0.5"/>
<circle cx="171.10" cy="617.20" r="2.05" fill="#1fb3c2" stroke="#0d6d78" stroke-width="0.5"/>
<circle cx="174.00" cy="618.60" r="2.05" fill="#1fb3c2" stroke="#0d6d78" stroke-width="0.5"/>
<circle cx="162.10" cy="621.60" r="2.05" fill="#1fb3c2" stroke="#0d6d78" stroke-width="0.5"/>
<circle cx="167.50" cy="624.70" r="2.05" fill="#1fb3c2" stroke="#0d6d78" stroke-width="0.5"/>
<circle cx="173.50" cy="625.70" r="2.05" fill="#1fb3c2" stroke="#0d6d78" stroke-width="0.5"/>
<circle cx="175.50" cy="635.40" r="2.05" fill="#1fb3c2" stroke="#0d6d78" stroke-width="0.5"/>
<circle cx="162.60" cy="638.10" r="2.05" fill="#1fb3c2" stroke="#0d6d78" stroke-width="0.5"/>
<circle cx="164.30" cy="639.30" r="2.05" fill="#1fb3c2" stroke="#0d6d78" stroke-width="0.5"/>
<circle cx="163.30" cy="641.70" r="2.05" fill="#1fb3c2" stroke="#0d6d78" stroke-width="0.5"/>
<circle cx="172.30" cy="649.00" r="2.05" fill="#1fb3c2" stroke="#0d6d78" stroke-width="0.5"/>
<circle cx="169.20" cy="664.00" r="2.05" fill="#1fb3c2" stroke="#0d6d78" stroke-width="0.5"/>
<circle cx="163.60" cy="593.90" r="2.05" fill="#1fb3c2" stroke="#0d6d78" stroke-width="0.5"/>
<circle cx="171.00" cy="589.50" r="2.05" fill="#1fb3c2" stroke="#0d6d78" stroke-width="0.5"/>
<circle cx="176.70" cy="587.50" r="2.05" fill="#1fb3c2" stroke="#0d6d78" stroke-width="0.5"/>
<circle cx="167.60" cy="597.20" r="2.05" fill="#1fb3c2" stroke="#0d6d78" stroke-width="0.5"/>
<circle cx="160.50" cy="603.50" r="2.05" fill="#1fb3c2" stroke="#0d6d78" stroke-width="0.5"/>
<circle cx="168.00" cy="604.00" r="2.05" fill="#1fb3c2" stroke="#0d6d78" stroke-width="0.5"/>
<circle cx="174.50" cy="606.00" r="2.05" fill="#1fb3c2" stroke="#0d6d78" stroke-width="0.5"/>
<circle cx="165.00" cy="610.00" r="2.05" fill="#1fb3c2" stroke="#0d6d78" stroke-width="0.5"/>
<circle cx="170.00" cy="611.50" r="2.05" fill="#1fb3c2" stroke="#0d6d78" stroke-width="0.5"/>
<circle cx="160.80" cy="612.00" r="2.05" fill="#1fb3c2" stroke="#0d6d78" stroke-width="0.5"/>
<circle cx="172.50" cy="620.00" r="2.05" fill="#1fb3c2" stroke="#0d6d78" stroke-width="0.5"/>
<circle cx="168.00" cy="619.50" r="2.05" fill="#1fb3c2" stroke="#0d6d78" stroke-width="0.5"/>
<circle cx="166.00" cy="629.50" r="2.05" fill="#1fb3c2" stroke="#0d6d78" stroke-width="0.5"/>
<circle cx="211.90" cy="553.00" r="2.05" fill="#c27ae3" stroke="#7b3c9c" stroke-width="0.5"/>
<circle cx="221.30" cy="553.70" r="2.05" fill="#c27ae3" stroke="#7b3c9c" stroke-width="0.5"/>
<circle cx="225.30" cy="573.10" r="2.05" fill="#c27ae3" stroke="#7b3c9c" stroke-width="0.5"/>
<circle cx="213.90" cy="589.90" r="2.05" fill="#c27ae3" stroke="#7b3c9c" stroke-width="0.5"/>
<circle cx="216.20" cy="592.90" r="2.05" fill="#c27ae3" stroke="#7b3c9c" stroke-width="0.5"/>
<circle cx="213.50" cy="599.90" r="2.05" fill="#c27ae3" stroke="#7b3c9c" stroke-width="0.5"/>
<text x="0.10" y="709.00" font-size="16" font-weight="bold" fill="#000" stroke="#000" stroke-width="0.8">g</text>
<rect x="77.80" y="707.70" width="28.80" height="9.40" fill="#3e69ad"/>
<rect x="106.60" y="707.70" width="152.20" height="9.40" fill="#cb4336"/>
<line x1="64.50" y1="712.50" x2="68.60" y2="712.50" stroke="#666666" stroke-width="0.8"/>
<text x="31.40" y="715.70" font-size="11.02" textLength="28.50" lengthAdjust="spacingAndGlyphs" font-style="italic">SOX4</text>
<rect x="77.80" y="718.19" width="79.80" height="9.40" fill="#ae823a"/>
<line x1="64.50" y1="722.50" x2="68.60" y2="722.50" stroke="#666666" stroke-width="0.8"/>
<text x="19.60" y="726.19" font-size="11.02" textLength="40.30" lengthAdjust="spacingAndGlyphs" font-style="italic">PLGRKT</text>
<rect x="77.80" y="728.69" width="27.80" height="9.40" fill="#3e69ad"/>
<rect x="105.60" y="728.69" width="13.40" height="9.40" fill="#cb4336"/>
<line x1="64.50" y1="733.50" x2="68.60" y2="733.50" stroke="#666666" stroke-width="0.8"/>
<text x="36.60" y="736.69" font-size="11.02" textLength="23.30" lengthAdjust="spacingAndGlyphs" font-style="italic">SVIP</text>
<rect x="77.80" y="739.18" width="34.50" height="9.40" fill="#3e69ad"/>
<line x1="64.50" y1="743.50" x2="68.60" y2="743.50" stroke="#666666" stroke-width="0.8"/>
<text x="31.00" y="747.18" font-size="11.02" textLength="28.90" lengthAdjust="spacingAndGlyphs" font-style="italic">CD63</text>
<rect x="77.80" y="749.68" width="13.40" height="9.40" fill="#ad6e91"/>
<rect x="91.20" y="749.68" width="10.00" height="9.40" fill="#3e69ad"/>
<rect x="101.20" y="749.68" width="10.40" height="9.40" fill="#cb4336"/>
<line x1="64.50" y1="754.50" x2="68.60" y2="754.50" stroke="#666666" stroke-width="0.8"/>
<text x="35.60" y="757.68" font-size="11.02" textLength="24.30" lengthAdjust="spacingAndGlyphs" font-style="italic">PLP2</text>
<rect x="77.80" y="760.17" width="21.40" height="9.40" fill="#ae823a"/>
<line x1="64.50" y1="764.50" x2="68.60" y2="764.50" stroke="#666666" stroke-width="0.8"/>
<text x="24.20" y="768.17" font-size="11.02" textLength="35.70" lengthAdjust="spacingAndGlyphs" font-style="italic">MLLT11</text>
<rect x="77.80" y="770.67" width="19.80" height="9.40" fill="#cb4336"/>
<line x1="64.50" y1="775.50" x2="68.60" y2="775.50" stroke="#666666" stroke-width="0.8"/>
<text x="30.40" y="778.67" font-size="11.02" textLength="29.50" lengthAdjust="spacingAndGlyphs" font-style="italic">OSTC</text>
<rect x="77.80" y="781.16" width="17.70" height="9.40" fill="#cb4336"/>
<line x1="64.50" y1="785.50" x2="68.60" y2="785.50" stroke="#666666" stroke-width="0.8"/>
<text x="22.70" y="789.16" font-size="11.02" textLength="37.20" lengthAdjust="spacingAndGlyphs" font-style="italic">AHNAK</text>
<rect x="77.80" y="791.66" width="16.40" height="9.40" fill="#ad6e91"/>
<line x1="64.50" y1="796.50" x2="68.60" y2="796.50" stroke="#666666" stroke-width="0.8"/>
<text x="32.90" y="799.66" font-size="11.02" textLength="27.00" lengthAdjust="spacingAndGlyphs" font-style="italic">NREP</text>
<rect x="77.80" y="802.15" width="16.10" height="9.40" fill="#cb4336"/>
<line x1="64.50" y1="806.50" x2="68.60" y2="806.50" stroke="#666666" stroke-width="0.8"/>
<text x="8.70" y="810.15" font-size="11.02" textLength="51.20" lengthAdjust="spacingAndGlyphs" font-style="italic">SELENOM</text>
<rect x="77.80" y="812.65" width="14.40" height="9.40" fill="#cb4336"/>
<line x1="64.50" y1="817.50" x2="68.60" y2="817.50" stroke="#666666" stroke-width="0.8"/>
<text x="13.30" y="820.65" font-size="11.02" textLength="46.60" lengthAdjust="spacingAndGlyphs" font-style="italic">SLC25A5</text>
<rect x="77.80" y="823.14" width="13.70" height="9.40" fill="#ae823a"/>
<line x1="64.50" y1="827.50" x2="68.60" y2="827.50" stroke="#666666" stroke-width="0.8"/>
<text x="31.40" y="831.14" font-size="11.02" textLength="28.50" lengthAdjust="spacingAndGlyphs" font-style="italic">UTP11</text>
<rect x="77.80" y="833.64" width="12.70" height="9.40" fill="#cb4336"/>
<line x1="64.50" y1="838.50" x2="68.60" y2="838.50" stroke="#666666" stroke-width="0.8"/>
<text x="0.40" y="841.64" font-size="11.02" textLength="59.50" lengthAdjust="spacingAndGlyphs" font-style="italic">LINC00402</text>
<rect x="77.80" y="844.13" width="12.00" height="9.40" fill="#ae823a"/>
<line x1="64.50" y1="848.50" x2="68.60" y2="848.50" stroke="#666666" stroke-width="0.8"/>
<text x="26.40" y="852.13" font-size="11.02" textLength="33.50" lengthAdjust="spacingAndGlyphs" font-style="italic">NPRL3</text>
<rect x="77.80" y="854.63" width="11.00" height="9.40" fill="#ad6e91"/>
<line x1="64.50" y1="859.50" x2="68.60" y2="859.50" stroke="#666666" stroke-width="0.8"/>
<text x="31.90" y="862.63" font-size="11.02" textLength="28.00" lengthAdjust="spacingAndGlyphs" font-style="italic">SBDS</text>
<rect x="77.80" y="865.12" width="11.00" height="9.40" fill="#5a91a3"/>
<line x1="64.50" y1="869.50" x2="68.60" y2="869.50" stroke="#666666" stroke-width="0.8"/>
<text x="11.20" y="873.12" font-size="11.02" textLength="48.70" lengthAdjust="spacingAndGlyphs" font-style="italic">SELENOK</text>
<rect x="77.80" y="875.62" width="10.70" height="9.40" fill="#ae823a"/>
<line x1="64.50" y1="880.50" x2="68.60" y2="880.50" stroke="#666666" stroke-width="0.8"/>
<text x="31.90" y="883.62" font-size="11.02" textLength="28.00" lengthAdjust="spacingAndGlyphs" font-style="italic">UCP2</text>
<rect x="77.80" y="886.11" width="10.40" height="9.40" fill="#5a91a3"/>
<line x1="64.50" y1="890.50" x2="68.60" y2="890.50" stroke="#666666" stroke-width="0.8"/>
<text x="43.10" y="894.11" font-size="11.02" textLength="16.80" lengthAdjust="spacingAndGlyphs" font-style="italic">ID2</text>
<rect x="77.80" y="896.61" width="9.40" height="9.40" fill="#ae823a"/>
<line x1="64.50" y1="901.50" x2="68.60" y2="901.50" stroke="#666666" stroke-width="0.8"/>
<text x="30.20" y="904.61" font-size="11.02" textLength="29.70" lengthAdjust="spacingAndGlyphs" font-style="italic">AAMP</text>
<rect x="77.80" y="907.10" width="8.70" height="9.40" fill="#cb4336"/>
<line x1="64.50" y1="911.50" x2="68.60" y2="911.50" stroke="#666666" stroke-width="0.8"/>
<text x="32.30" y="915.10" font-size="11.02" textLength="27.60" lengthAdjust="spacingAndGlyphs" font-style="italic">GBP5</text>
<rect x="77.80" y="917.60" width="7.70" height="9.40" fill="#ae823a"/>
<line x1="64.50" y1="922.50" x2="68.60" y2="922.50" stroke="#666666" stroke-width="0.8"/>
<text x="27.70" y="925.60" font-size="11.02" textLength="32.20" lengthAdjust="spacingAndGlyphs" font-style="italic">ZCRB1</text>
<line x1="68.50" y1="706.50" x2="68.50" y2="928.30" stroke="#666666" stroke-width="0.9"/>
<line x1="68.60" y1="928.50" x2="268.00" y2="928.50" stroke="#666666" stroke-width="0.9"/>
<line x1="77.50" y1="928.30" x2="77.50" y2="931.90" stroke="#666666" stroke-width="0.8"/>
<text x="77.30" y="943.60" font-size="10.06" text-anchor="middle" textLength="5.86" lengthAdjust="spacingAndGlyphs">0</text>
<line x1="133.50" y1="928.30" x2="133.50" y2="931.90" stroke="#666666" stroke-width="0.8"/>
<text x="133.80" y="943.60" font-size="10.06" text-anchor="middle" textLength="11.71" lengthAdjust="spacingAndGlyphs">50</text>
<line x1="190.50" y1="928.30" x2="190.50" y2="931.90" stroke="#666666" stroke-width="0.8"/>
<text x="190.20" y="943.60" font-size="10.06" text-anchor="middle" textLength="17.57" lengthAdjust="spacingAndGlyphs">100</text>
<line x1="246.50" y1="928.30" x2="246.50" y2="931.90" stroke="#666666" stroke-width="0.8"/>
<text x="246.40" y="943.60" font-size="10.06" text-anchor="middle" textLength="17.57" lengthAdjust="spacingAndGlyphs">150</text>
<text x="80.00" y="959.60" font-size="11.13" textLength="176.60" lengthAdjust="spacingAndGlyphs">Increase in mean squared error (%)</text>
<rect x="143.6" y="742" width="180" height="147.6" fill="#fff"/>
<line x1="143.50" y1="745.40" x2="143.50" y2="890.20" stroke="#666666" stroke-width="0.9"/>
<line x1="143.10" y1="890.50" x2="322.40" y2="890.50" stroke="#666666" stroke-width="0.9"/>
<line x1="139.40" y1="773.50" x2="143.10" y2="773.50" stroke="#666666" stroke-width="0.8"/>
<text x="117.90" y="776.90" font-size="10.49" textLength="18.40" lengthAdjust="spacingAndGlyphs">500</text>
<line x1="139.40" y1="806.50" x2="143.10" y2="806.50" stroke="#666666" stroke-width="0.8"/>
<text x="117.90" y="809.50" font-size="10.49" textLength="18.40" lengthAdjust="spacingAndGlyphs">400</text>
<line x1="139.40" y1="838.50" x2="143.10" y2="838.50" stroke="#666666" stroke-width="0.8"/>
<text x="117.90" y="842.10" font-size="10.49" textLength="18.40" lengthAdjust="spacingAndGlyphs">300</text>
<line x1="139.40" y1="872.50" x2="143.10" y2="872.50" stroke="#666666" stroke-width="0.8"/>
<text x="117.90" y="875.50" font-size="10.49" textLength="18.40" lengthAdjust="spacingAndGlyphs">200</text>
<line x1="151.50" y1="890.20" x2="151.50" y2="893.80" stroke="#666666" stroke-width="0.8"/>
<text x="151.00" y="905.20" font-size="10.49" text-anchor="middle" textLength="6.10" lengthAdjust="spacingAndGlyphs">0</text>
<line x1="199.50" y1="890.20" x2="199.50" y2="893.80" stroke="#666666" stroke-width="0.8"/>
<text x="199.60" y="905.20" font-size="10.49" text-anchor="middle" textLength="27.47" lengthAdjust="spacingAndGlyphs">1,000</text>
<line x1="247.50" y1="890.20" x2="247.50" y2="893.80" stroke="#666666" stroke-width="0.8"/>
<text x="247.10" y="905.20" font-size="10.49" text-anchor="middle" textLength="27.47" lengthAdjust="spacingAndGlyphs">2,000</text>
<line x1="295.50" y1="890.20" x2="295.50" y2="893.80" stroke="#666666" stroke-width="0.8"/>
<text x="295.20" y="905.20" font-size="10.49" text-anchor="middle" textLength="27.47" lengthAdjust="spacingAndGlyphs">3,000</text>
<text x="172.70" y="920.70" font-size="11.34" textLength="97.80" lengthAdjust="spacingAndGlyphs">Number of features</text>
<text x="0.00" y="0.00" font-size="11.98" text-anchor="middle" textLength="119.50" lengthAdjust="spacingAndGlyphs" transform="translate(111.3,825.1) rotate(-90)">Cross-validation error</text>
<path d="M151.2,752 C151.6,800 151.8,860 152.6,877 C153.3,883 155,884.5 157.5,884 C161,883.2 166,882.5 172,880.3 C185,878 200,877.5 215,876.3 C235,875.2 255,874.4 275,874.3 C295,874.2 310,874.1 322.4,874" fill="none" stroke="#444" stroke-width="0.9"/>
<text x="171.90" y="774.30" font-size="11.02" textLength="51.30" lengthAdjust="spacingAndGlyphs">Cell types</text>
<rect x="172.20" y="784.70" width="9.00" height="8.10" fill="#cb4336"/>
<text x="186.50" y="792.30" font-size="11.13" textLength="87.00" lengthAdjust="spacingAndGlyphs">CD4_Naive_CCR7</text>
<rect x="172.20" y="799.70" width="9.00" height="8.10" fill="#ae823a"/>
<text x="186.50" y="807.30" font-size="11.13" textLength="91.80" lengthAdjust="spacingAndGlyphs">CD8_TEM_ZNF683</text>
<rect x="172.20" y="814.80" width="9.00" height="8.10" fill="#3e69ad"/>
<text x="186.50" y="822.40" font-size="11.13" textLength="82.80" lengthAdjust="spacingAndGlyphs">CD4_TCM_AQP3</text>
<rect x="172.20" y="830.20" width="9.00" height="8.10" fill="#ad6e91"/>
<text x="186.50" y="837.80" font-size="11.13" textLength="81.00" lengthAdjust="spacingAndGlyphs">CD8_Naive_LEF1</text>
<rect x="172.20" y="845.30" width="9.00" height="8.10" fill="#5a91a3"/>
<text x="186.50" y="852.90" font-size="11.13" textLength="102.00" lengthAdjust="spacingAndGlyphs">CD8_MAIT_SLC4A10</text>
<text x="270.10" y="421.70" font-size="16" font-weight="bold" fill="#000" stroke="#000" stroke-width="0.8">h</text>
<rect x="313.90" y="431.20" width="7.56" height="12.07" fill="#2166ac"/>
<rect x="320.66" y="431.20" width="7.56" height="12.07" fill="#2166ac"/>
<rect x="327.41" y="431.20" width="7.56" height="12.07" fill="#2166ac"/>
<rect x="334.17" y="431.20" width="7.56" height="12.07" fill="#2166ac"/>
<rect x="340.92" y="431.20" width="7.56" height="12.07" fill="#2166ac"/>
<rect x="347.68" y="431.20" width="7.56" height="12.07" fill="#f7f7f7"/>
<rect x="354.43" y="431.20" width="7.56" height="12.07" fill="#f4a582"/>
<rect x="361.19" y="431.20" width="7.56" height="12.07" fill="#fddbc7"/>
<rect x="367.94" y="431.20" width="7.56" height="12.07" fill="#fddbc7"/>
<rect x="374.70" y="431.20" width="7.56" height="12.07" fill="#f7f7f7"/>
<rect x="381.45" y="431.20" width="7.56" height="12.07" fill="#b8d8e9"/>
<rect x="388.21" y="431.20" width="7.56" height="12.07" fill="#b8d8e9"/>
<rect x="394.96" y="431.20" width="7.56" height="12.07" fill="#b8d8e9"/>
<rect x="401.72" y="431.20" width="7.56" height="12.07" fill="#f4a582"/>
<rect x="408.48" y="431.20" width="7.56" height="12.07" fill="#f9efe9"/>
<rect x="415.23" y="431.20" width="7.56" height="12.07" fill="#dbeaf2"/>
<rect x="421.99" y="431.20" width="7.56" height="12.07" fill="#d1e5f0"/>
<rect x="428.74" y="431.20" width="7.56" height="12.07" fill="#90c4dd"/>
<rect x="435.50" y="431.20" width="7.56" height="12.07" fill="#f4a582"/>
<rect x="442.25" y="431.20" width="7.56" height="12.07" fill="#b8d8e9"/>
<rect x="449.01" y="431.20" width="7.56" height="12.07" fill="#a8d0e4"/>
<rect x="455.76" y="431.20" width="7.56" height="12.07" fill="#a8d0e4"/>
<rect x="462.52" y="431.20" width="7.56" height="12.07" fill="#b8d8e9"/>
<rect x="469.27" y="431.20" width="7.56" height="12.07" fill="#d1e5f0"/>
<rect x="476.03" y="431.20" width="7.56" height="12.07" fill="#ecf2f5"/>
<rect x="482.78" y="431.20" width="7.56" height="12.07" fill="#eb9072"/>
<rect x="489.54" y="431.20" width="7.56" height="12.07" fill="#64a8ce"/>
<rect x="496.29" y="431.20" width="7.56" height="12.07" fill="#408fc1"/>
<rect x="503.05" y="431.20" width="7.56" height="12.07" fill="#fddbc7"/>
<rect x="509.81" y="431.20" width="7.56" height="12.07" fill="#2166ac"/>
<rect x="516.56" y="431.20" width="7.56" height="12.07" fill="#fddbc7"/>
<rect x="523.32" y="431.20" width="7.56" height="12.07" fill="#90c4dd"/>
<rect x="530.07" y="431.20" width="7.56" height="12.07" fill="#f8f1ed"/>
<rect x="536.83" y="431.20" width="7.56" height="12.07" fill="#fae9df"/>
<rect x="543.58" y="431.20" width="7.56" height="12.07" fill="#facbb2"/>
<rect x="550.34" y="431.20" width="7.56" height="12.07" fill="#f1f4f6"/>
<rect x="557.09" y="431.20" width="7.56" height="12.07" fill="#c8e1ee"/>
<rect x="563.85" y="431.20" width="7.56" height="12.07" fill="#408fc1"/>
<rect x="570.60" y="431.20" width="7.56" height="12.07" fill="#e1ecf3"/>
<rect x="577.36" y="431.20" width="7.56" height="12.07" fill="#f8f1ed"/>
<rect x="584.11" y="431.20" width="7.56" height="12.07" fill="#f8f1ed"/>
<rect x="590.87" y="431.20" width="7.56" height="12.07" fill="#b8d8e9"/>
<rect x="597.62" y="431.20" width="7.56" height="12.07" fill="#e1ecf3"/>
<rect x="604.38" y="431.20" width="7.56" height="12.07" fill="#64a8ce"/>
<rect x="611.14" y="431.20" width="7.56" height="12.07" fill="#fae9df"/>
<rect x="617.89" y="431.20" width="7.56" height="12.07" fill="#f6b090"/>
<rect x="624.65" y="431.20" width="7.56" height="12.07" fill="#b2182b"/>
<rect x="631.40" y="431.20" width="7.56" height="12.07" fill="#fddbc7"/>
<rect x="638.16" y="431.20" width="7.56" height="12.07" fill="#d6604d"/>
<rect x="644.91" y="431.20" width="7.56" height="12.07" fill="#ee9777"/>
<rect x="651.67" y="431.20" width="7.56" height="12.07" fill="#dc6e58"/>
<rect x="658.42" y="431.20" width="7.56" height="12.07" fill="#b2182b"/>
<rect x="665.18" y="431.20" width="7.56" height="12.07" fill="#cb4a43"/>
<rect x="671.93" y="431.20" width="7.56" height="12.07" fill="#d6604d"/>
<rect x="678.69" y="431.20" width="7.56" height="12.07" fill="#f4a582"/>
<rect x="685.44" y="431.20" width="6.76" height="12.07" fill="#eb9072"/>
<rect x="313.90" y="442.47" width="7.56" height="12.07" fill="#2166ac"/>
<rect x="320.66" y="442.47" width="7.56" height="12.07" fill="#2166ac"/>
<rect x="327.41" y="442.47" width="7.56" height="12.07" fill="#2166ac"/>
<rect x="334.17" y="442.47" width="7.56" height="12.07" fill="#2166ac"/>
<rect x="340.92" y="442.47" width="7.56" height="12.07" fill="#2166ac"/>
<rect x="347.68" y="442.47" width="7.56" height="12.07" fill="#64a8ce"/>
<rect x="354.43" y="442.47" width="7.56" height="12.07" fill="#b8d8e9"/>
<rect x="361.19" y="442.47" width="7.56" height="12.07" fill="#f4a582"/>
<rect x="367.94" y="442.47" width="7.56" height="12.07" fill="#f7f7f7"/>
<rect x="374.70" y="442.47" width="7.56" height="12.07" fill="#c43c3c"/>
<rect x="381.45" y="442.47" width="7.56" height="12.07" fill="#f8c0a4"/>
<rect x="388.21" y="442.47" width="7.56" height="12.07" fill="#f7f7f7"/>
<rect x="394.96" y="442.47" width="7.56" height="12.07" fill="#fae9df"/>
<rect x="401.72" y="442.47" width="7.56" height="12.07" fill="#d6604d"/>
<rect x="408.48" y="442.47" width="7.56" height="12.07" fill="#fae9df"/>
<rect x="415.23" y="442.47" width="7.56" height="12.07" fill="#f1f4f6"/>
<rect x="421.99" y="442.47" width="7.56" height="12.07" fill="#f4a582"/>
<rect x="428.74" y="442.47" width="7.56" height="12.07" fill="#2166ac"/>
<rect x="435.50" y="442.47" width="7.56" height="12.07" fill="#a8d0e4"/>
<rect x="442.25" y="442.47" width="7.56" height="12.07" fill="#ecf2f5"/>
<rect x="449.01" y="442.47" width="7.56" height="12.07" fill="#c8e1ee"/>
<rect x="455.76" y="442.47" width="7.56" height="12.07" fill="#dbeaf2"/>
<rect x="462.52" y="442.47" width="7.56" height="12.07" fill="#d6e7f1"/>
<rect x="469.27" y="442.47" width="7.56" height="12.07" fill="#e6eff4"/>
<rect x="476.03" y="442.47" width="7.56" height="12.07" fill="#dbeaf2"/>
<rect x="482.78" y="442.47" width="7.56" height="12.07" fill="#c43c3c"/>
<rect x="489.54" y="442.47" width="7.56" height="12.07" fill="#f7f7f7"/>
<rect x="496.29" y="442.47" width="7.56" height="12.07" fill="#f7f7f7"/>
<rect x="503.05" y="442.47" width="7.56" height="12.07" fill="#2166ac"/>
<rect x="509.81" y="442.47" width="7.56" height="12.07" fill="#2166ac"/>
<rect x="516.56" y="442.47" width="7.56" height="12.07" fill="#f8f1ed"/>
<rect x="523.32" y="442.47" width="7.56" height="12.07" fill="#f8f1ed"/>
<rect x="530.07" y="442.47" width="7.56" height="12.07" fill="#e1ecf3"/>
<rect x="536.83" y="442.47" width="7.56" height="12.07" fill="#ecf2f5"/>
<rect x="543.58" y="442.47" width="7.56" height="12.07" fill="#f1f4f6"/>
<rect x="550.34" y="442.47" width="7.56" height="12.07" fill="#c8e1ee"/>
<rect x="557.09" y="442.47" width="7.56" height="12.07" fill="#f7f7f7"/>
<rect x="563.85" y="442.47" width="7.56" height="12.07" fill="#f8f4f2"/>
<rect x="570.60" y="442.47" width="7.56" height="12.07" fill="#f7f7f7"/>
<rect x="577.36" y="442.47" width="7.56" height="12.07" fill="#f1f4f6"/>
<rect x="584.11" y="442.47" width="7.56" height="12.07" fill="#ecf2f5"/>
<rect x="590.87" y="442.47" width="7.56" height="12.07" fill="#f8f4f2"/>
<rect x="597.62" y="442.47" width="7.56" height="12.07" fill="#f9efe9"/>
<rect x="604.38" y="442.47" width="7.56" height="12.07" fill="#f9efe9"/>
<rect x="611.14" y="442.47" width="7.56" height="12.07" fill="#fbe6da"/>
<rect x="617.89" y="442.47" width="7.56" height="12.07" fill="#fbd0b9"/>
<rect x="624.65" y="442.47" width="7.56" height="12.07" fill="#b2182b"/>
<rect x="631.40" y="442.47" width="7.56" height="12.07" fill="#b2182b"/>
<rect x="638.16" y="442.47" width="7.56" height="12.07" fill="#fddbc7"/>
<rect x="644.91" y="442.47" width="7.56" height="12.07" fill="#b2182b"/>
<rect x="651.67" y="442.47" width="7.56" height="12.07" fill="#f7f7f7"/>
<rect x="658.42" y="442.47" width="7.56" height="12.07" fill="#b2182b"/>
<rect x="665.18" y="442.47" width="7.56" height="12.07" fill="#b2182b"/>
<rect x="671.93" y="442.47" width="7.56" height="12.07" fill="#f4a582"/>
<rect x="678.69" y="442.47" width="7.56" height="12.07" fill="#fcd6c0"/>
<rect x="685.44" y="442.47" width="6.76" height="12.07" fill="#c43c3c"/>
<rect x="313.90" y="453.74" width="7.56" height="12.07" fill="#2166ac"/>
<rect x="320.66" y="453.74" width="7.56" height="12.07" fill="#2166ac"/>
<rect x="327.41" y="453.74" width="7.56" height="12.07" fill="#327cb8"/>
<rect x="334.17" y="453.74" width="7.56" height="12.07" fill="#2166ac"/>
<rect x="340.92" y="453.74" width="7.56" height="12.07" fill="#276eb0"/>
<rect x="347.68" y="453.74" width="7.56" height="12.07" fill="#2166ac"/>
<rect x="354.43" y="453.74" width="7.56" height="12.07" fill="#2166ac"/>
<rect x="361.19" y="453.74" width="7.56" height="12.07" fill="#2166ac"/>
<rect x="367.94" y="453.74" width="7.56" height="12.07" fill="#2166ac"/>
<rect x="374.70" y="453.74" width="7.56" height="12.07" fill="#2166ac"/>
<rect x="381.45" y="453.74" width="7.56" height="12.07" fill="#2166ac"/>
<rect x="388.21" y="453.74" width="7.56" height="12.07" fill="#2166ac"/>
<rect x="394.96" y="453.74" width="7.56" height="12.07" fill="#2166ac"/>
<rect x="401.72" y="453.74" width="7.56" height="12.07" fill="#64a8ce"/>
<rect x="408.48" y="453.74" width="7.56" height="12.07" fill="#64a8ce"/>
<rect x="415.23" y="453.74" width="7.56" height="12.07" fill="#327cb8"/>
<rect x="421.99" y="453.74" width="7.56" height="12.07" fill="#2166ac"/>
<rect x="428.74" y="453.74" width="7.56" height="12.07" fill="#408fc1"/>
<rect x="435.50" y="453.74" width="7.56" height="12.07" fill="#a8d0e4"/>
<rect x="442.25" y="453.74" width="7.56" height="12.07" fill="#c8e1ee"/>
<rect x="449.01" y="453.74" width="7.56" height="12.07" fill="#90c4dd"/>
<rect x="455.76" y="453.74" width="7.56" height="12.07" fill="#90c4dd"/>
<rect x="462.52" y="453.74" width="7.56" height="12.07" fill="#64a8ce"/>
<rect x="469.27" y="453.74" width="7.56" height="12.07" fill="#fae9df"/>
<rect x="476.03" y="453.74" width="7.56" height="12.07" fill="#f7f7f7"/>
<rect x="482.78" y="453.74" width="7.56" height="12.07" fill="#dc6e58"/>
<rect x="489.54" y="453.74" width="7.56" height="12.07" fill="#dc6e58"/>
<rect x="496.29" y="453.74" width="7.56" height="12.07" fill="#eb9072"/>
<rect x="503.05" y="453.74" width="7.56" height="12.07" fill="#f9efe9"/>
<rect x="509.81" y="453.74" width="7.56" height="12.07" fill="#f9efe9"/>
<rect x="516.56" y="453.74" width="7.56" height="12.07" fill="#f8f4f2"/>
<rect x="523.32" y="453.74" width="7.56" height="12.07" fill="#f8f4f2"/>
<rect x="530.07" y="453.74" width="7.56" height="12.07" fill="#b92632"/>
<rect x="536.83" y="453.74" width="7.56" height="12.07" fill="#fddbc7"/>
<rect x="543.58" y="453.74" width="7.56" height="12.07" fill="#dc6e58"/>
<rect x="550.34" y="453.74" width="7.56" height="12.07" fill="#dbeaf2"/>
<rect x="557.09" y="453.74" width="7.56" height="12.07" fill="#b2182b"/>
<rect x="563.85" y="453.74" width="7.56" height="12.07" fill="#b2182b"/>
<rect x="570.60" y="453.74" width="7.56" height="12.07" fill="#b8d8e9"/>
<rect x="577.36" y="453.74" width="7.56" height="12.07" fill="#fce1d1"/>
<rect x="584.11" y="453.74" width="7.56" height="12.07" fill="#dc6e58"/>
<rect x="590.87" y="453.74" width="7.56" height="12.07" fill="#ee9777"/>
<rect x="597.62" y="453.74" width="7.56" height="12.07" fill="#f6b090"/>
<rect x="604.38" y="453.74" width="7.56" height="12.07" fill="#eb9072"/>
<rect x="611.14" y="453.74" width="7.56" height="12.07" fill="#f6b090"/>
<rect x="617.89" y="453.74" width="7.56" height="12.07" fill="#cb4a43"/>
<rect x="624.65" y="453.74" width="7.56" height="12.07" fill="#facbb2"/>
<rect x="631.40" y="453.74" width="7.56" height="12.07" fill="#c43c3c"/>
<rect x="638.16" y="453.74" width="7.56" height="12.07" fill="#fbe3d5"/>
<rect x="644.91" y="453.74" width="7.56" height="12.07" fill="#b2182b"/>
<rect x="651.67" y="453.74" width="7.56" height="12.07" fill="#b2182b"/>
<rect x="658.42" y="453.74" width="7.56" height="12.07" fill="#c03539"/>
<rect x="665.18" y="453.74" width="7.56" height="12.07" fill="#b2182b"/>
<rect x="671.93" y="453.74" width="7.56" height="12.07" fill="#b2182b"/>
<rect x="678.69" y="453.74" width="7.56" height="12.07" fill="#b2182b"/>
<rect x="685.44" y="453.74" width="6.76" height="12.07" fill="#dbeaf2"/>
<rect x="313.90" y="465.01" width="7.56" height="12.07" fill="#2166ac"/>
<rect x="320.66" y="465.01" width="7.56" height="12.07" fill="#2166ac"/>
<rect x="327.41" y="465.01" width="7.56" height="12.07" fill="#327cb8"/>
<rect x="334.17" y="465.01" width="7.56" height="12.07" fill="#2166ac"/>
<rect x="340.92" y="465.01" width="7.56" height="12.07" fill="#2166ac"/>
<rect x="347.68" y="465.01" width="7.56" height="12.07" fill="#2166ac"/>
<rect x="354.43" y="465.01" width="7.56" height="12.07" fill="#2166ac"/>
<rect x="361.19" y="465.01" width="7.56" height="12.07" fill="#2166ac"/>
<rect x="367.94" y="465.01" width="7.56" height="12.07" fill="#2166ac"/>
<rect x="374.70" y="465.01" width="7.56" height="12.07" fill="#2166ac"/>
<rect x="381.45" y="465.01" width="7.56" height="12.07" fill="#2166ac"/>
<rect x="388.21" y="465.01" width="7.56" height="12.07" fill="#2166ac"/>
<rect x="394.96" y="465.01" width="7.56" height="12.07" fill="#2166ac"/>
<rect x="401.72" y="465.01" width="7.56" height="12.07" fill="#276eb0"/>
<rect x="408.48" y="465.01" width="7.56" height="12.07" fill="#64a8ce"/>
<rect x="415.23" y="465.01" width="7.56" height="12.07" fill="#2166ac"/>
<rect x="421.99" y="465.01" width="7.56" height="12.07" fill="#2166ac"/>
<rect x="428.74" y="465.01" width="7.56" height="12.07" fill="#2166ac"/>
<rect x="435.50" y="465.01" width="7.56" height="12.07" fill="#2d76b4"/>
<rect x="442.25" y="465.01" width="7.56" height="12.07" fill="#fae9df"/>
<rect x="449.01" y="465.01" width="7.56" height="12.07" fill="#a8d0e4"/>
<rect x="455.76" y="465.01" width="7.56" height="12.07" fill="#d1e5f0"/>
<rect x="462.52" y="465.01" width="7.56" height="12.07" fill="#408fc1"/>
<rect x="469.27" y="465.01" width="7.56" height="12.07" fill="#fddbc7"/>
<rect x="476.03" y="465.01" width="7.56" height="12.07" fill="#f1f4f6"/>
<rect x="482.78" y="465.01" width="7.56" height="12.07" fill="#fbd0b9"/>
<rect x="489.54" y="465.01" width="7.56" height="12.07" fill="#f4a582"/>
<rect x="496.29" y="465.01" width="7.56" height="12.07" fill="#f8c0a4"/>
<rect x="503.05" y="465.01" width="7.56" height="12.07" fill="#f9efe9"/>
<rect x="509.81" y="465.01" width="7.56" height="12.07" fill="#f8f4f2"/>
<rect x="516.56" y="465.01" width="7.56" height="12.07" fill="#fae9df"/>
<rect x="523.32" y="465.01" width="7.56" height="12.07" fill="#fddbc7"/>
<rect x="530.07" y="465.01" width="7.56" height="12.07" fill="#b2182b"/>
<rect x="536.83" y="465.01" width="7.56" height="12.07" fill="#f7f7f7"/>
<rect x="543.58" y="465.01" width="7.56" height="12.07" fill="#cb4a43"/>
<rect x="550.34" y="465.01" width="7.56" height="12.07" fill="#fce1d1"/>
<rect x="557.09" y="465.01" width="7.56" height="12.07" fill="#b2182b"/>
<rect x="563.85" y="465.01" width="7.56" height="12.07" fill="#b2182b"/>
<rect x="570.60" y="465.01" width="7.56" height="12.07" fill="#fbd0b9"/>
<rect x="577.36" y="465.01" width="7.56" height="12.07" fill="#eb9072"/>
<rect x="584.11" y="465.01" width="7.56" height="12.07" fill="#f8c0a4"/>
<rect x="590.87" y="465.01" width="7.56" height="12.07" fill="#fce1d1"/>
<rect x="597.62" y="465.01" width="7.56" height="12.07" fill="#cf5246"/>
<rect x="604.38" y="465.01" width="7.56" height="12.07" fill="#fddbc7"/>
<rect x="611.14" y="465.01" width="7.56" height="12.07" fill="#b2182b"/>
<rect x="617.89" y="465.01" width="7.56" height="12.07" fill="#f7b597"/>
<rect x="624.65" y="465.01" width="7.56" height="12.07" fill="#c43c3c"/>
<rect x="631.40" y="465.01" width="7.56" height="12.07" fill="#b2182b"/>
<rect x="638.16" y="465.01" width="7.56" height="12.07" fill="#b92632"/>
<rect x="644.91" y="465.01" width="7.56" height="12.07" fill="#cf5246"/>
<rect x="651.67" y="465.01" width="7.56" height="12.07" fill="#dc6e58"/>
<rect x="658.42" y="465.01" width="7.56" height="12.07" fill="#ee9777"/>
<rect x="665.18" y="465.01" width="7.56" height="12.07" fill="#b2182b"/>
<rect x="671.93" y="465.01" width="7.56" height="12.07" fill="#b2182b"/>
<rect x="678.69" y="465.01" width="7.56" height="12.07" fill="#b2182b"/>
<rect x="685.44" y="465.01" width="6.76" height="12.07" fill="#b2182b"/>
<rect x="313.90" y="476.28" width="7.56" height="12.07" fill="#2166ac"/>
<rect x="320.66" y="476.28" width="7.56" height="12.07" fill="#2166ac"/>
<rect x="327.41" y="476.28" width="7.56" height="12.07" fill="#2166ac"/>
<rect x="334.17" y="476.28" width="7.56" height="12.07" fill="#2166ac"/>
<rect x="340.92" y="476.28" width="7.56" height="12.07" fill="#2166ac"/>
<rect x="347.68" y="476.28" width="7.56" height="12.07" fill="#2166ac"/>
<rect x="354.43" y="476.28" width="7.56" height="12.07" fill="#2166ac"/>
<rect x="361.19" y="476.28" width="7.56" height="12.07" fill="#2166ac"/>
<rect x="367.94" y="476.28" width="7.56" height="12.07" fill="#2166ac"/>
<rect x="374.70" y="476.28" width="7.56" height="12.07" fill="#2166ac"/>
<rect x="381.45" y="476.28" width="7.56" height="12.07" fill="#2166ac"/>
<rect x="388.21" y="476.28" width="7.56" height="12.07" fill="#2166ac"/>
<rect x="394.96" y="476.28" width="7.56" height="12.07" fill="#2166ac"/>
<rect x="401.72" y="476.28" width="7.56" height="12.07" fill="#327cb8"/>
<rect x="408.48" y="476.28" width="7.56" height="12.07" fill="#64a8ce"/>
<rect x="415.23" y="476.28" width="7.56" height="12.07" fill="#327cb8"/>
<rect x="421.99" y="476.28" width="7.56" height="12.07" fill="#327cb8"/>
<rect x="428.74" y="476.28" width="7.56" height="12.07" fill="#327cb8"/>
<rect x="435.50" y="476.28" width="7.56" height="12.07" fill="#b8d8e9"/>
<rect x="442.25" y="476.28" width="7.56" height="12.07" fill="#dbeaf2"/>
<rect x="449.01" y="476.28" width="7.56" height="12.07" fill="#f4a582"/>
<rect x="455.76" y="476.28" width="7.56" height="12.07" fill="#b8d8e9"/>
<rect x="462.52" y="476.28" width="7.56" height="12.07" fill="#e6eff4"/>
<rect x="469.27" y="476.28" width="7.56" height="12.07" fill="#f8f1ed"/>
<rect x="476.03" y="476.28" width="7.56" height="12.07" fill="#f7f7f7"/>
<rect x="482.78" y="476.28" width="7.56" height="12.07" fill="#c43c3c"/>
<rect x="489.54" y="476.28" width="7.56" height="12.07" fill="#c43c3c"/>
<rect x="496.29" y="476.28" width="7.56" height="12.07" fill="#f8c0a4"/>
<rect x="503.05" y="476.28" width="7.56" height="12.07" fill="#fae9df"/>
<rect x="509.81" y="476.28" width="7.56" height="12.07" fill="#d1e5f0"/>
<rect x="516.56" y="476.28" width="7.56" height="12.07" fill="#fce1d1"/>
<rect x="523.32" y="476.28" width="7.56" height="12.07" fill="#f8bb9e"/>
<rect x="530.07" y="476.28" width="7.56" height="12.07" fill="#b2182b"/>
<rect x="536.83" y="476.28" width="7.56" height="12.07" fill="#fddbc7"/>
<rect x="543.58" y="476.28" width="7.56" height="12.07" fill="#b92632"/>
<rect x="550.34" y="476.28" width="7.56" height="12.07" fill="#eb9072"/>
<rect x="557.09" y="476.28" width="7.56" height="12.07" fill="#c43c3c"/>
<rect x="563.85" y="476.28" width="7.56" height="12.07" fill="#b2182b"/>
<rect x="570.60" y="476.28" width="7.56" height="12.07" fill="#facbb2"/>
<rect x="577.36" y="476.28" width="7.56" height="12.07" fill="#f6b090"/>
<rect x="584.11" y="476.28" width="7.56" height="12.07" fill="#d6604d"/>
<rect x="590.87" y="476.28" width="7.56" height="12.07" fill="#c43c3c"/>
<rect x="597.62" y="476.28" width="7.56" height="12.07" fill="#b2182b"/>
<rect x="604.38" y="476.28" width="7.56" height="12.07" fill="#f8c0a4"/>
<rect x="611.14" y="476.28" width="7.56" height="12.07" fill="#b2182b"/>
<rect x="617.89" y="476.28" width="7.56" height="12.07" fill="#fce1d1"/>
<rect x="624.65" y="476.28" width="7.56" height="12.07" fill="#b2182b"/>
<rect x="631.40" y="476.28" width="7.56" height="12.07" fill="#b2182b"/>
<rect x="638.16" y="476.28" width="7.56" height="12.07" fill="#b2182b"/>
<rect x="644.91" y="476.28" width="7.56" height="12.07" fill="#dc6e58"/>
<rect x="651.67" y="476.28" width="7.56" height="12.07" fill="#eb9072"/>
<rect x="658.42" y="476.28" width="7.56" height="12.07" fill="#cb4a43"/>
<rect x="665.18" y="476.28" width="7.56" height="12.07" fill="#b2182b"/>
<rect x="671.93" y="476.28" width="7.56" height="12.07" fill="#fddbc7"/>
<rect x="678.69" y="476.28" width="7.56" height="12.07" fill="#b2182b"/>
<rect x="685.44" y="476.28" width="6.76" height="12.07" fill="#b2182b"/>
<rect x="313.90" y="487.55" width="7.56" height="12.07" fill="#2166ac"/>
<rect x="320.66" y="487.55" width="7.56" height="12.07" fill="#2166ac"/>
<rect x="327.41" y="487.55" width="7.56" height="12.07" fill="#2166ac"/>
<rect x="334.17" y="487.55" width="7.56" height="12.07" fill="#2166ac"/>
<rect x="340.92" y="487.55" width="7.56" height="12.07" fill="#2166ac"/>
<rect x="347.68" y="487.55" width="7.56" height="12.07" fill="#2166ac"/>
<rect x="354.43" y="487.55" width="7.56" height="12.07" fill="#2166ac"/>
<rect x="361.19" y="487.55" width="7.56" height="12.07" fill="#2166ac"/>
<rect x="367.94" y="487.55" width="7.56" height="12.07" fill="#327cb8"/>
<rect x="374.70" y="487.55" width="7.56" height="12.07" fill="#276eb0"/>
<rect x="381.45" y="487.55" width="7.56" height="12.07" fill="#2166ac"/>
<rect x="388.21" y="487.55" width="7.56" height="12.07" fill="#2166ac"/>
<rect x="394.96" y="487.55" width="7.56" height="12.07" fill="#64a8ce"/>
<rect x="401.72" y="487.55" width="7.56" height="12.07" fill="#64a8ce"/>
<rect x="408.48" y="487.55" width="7.56" height="12.07" fill="#2166ac"/>
<rect x="415.23" y="487.55" width="7.56" height="12.07" fill="#fae9df"/>
<rect x="421.99" y="487.55" width="7.56" height="12.07" fill="#64a8ce"/>
<rect x="428.74" y="487.55" width="7.56" height="12.07" fill="#2166ac"/>
<rect x="435.50" y="487.55" width="7.56" height="12.07" fill="#408fc1"/>
<rect x="442.25" y="487.55" width="7.56" height="12.07" fill="#b8d8e9"/>
<rect x="449.01" y="487.55" width="7.56" height="12.07" fill="#408fc1"/>
<rect x="455.76" y="487.55" width="7.56" height="12.07" fill="#408fc1"/>
<rect x="462.52" y="487.55" width="7.56" height="12.07" fill="#f7f7f7"/>
<rect x="469.27" y="487.55" width="7.56" height="12.07" fill="#fae9df"/>
<rect x="476.03" y="487.55" width="7.56" height="12.07" fill="#fae9df"/>
<rect x="482.78" y="487.55" width="7.56" height="12.07" fill="#75b3d4"/>
<rect x="489.54" y="487.55" width="7.56" height="12.07" fill="#f8f1ed"/>
<rect x="496.29" y="487.55" width="7.56" height="12.07" fill="#f1f4f6"/>
<rect x="503.05" y="487.55" width="7.56" height="12.07" fill="#d6604d"/>
<rect x="509.81" y="487.55" width="7.56" height="12.07" fill="#fbd0b9"/>
<rect x="516.56" y="487.55" width="7.56" height="12.07" fill="#f8f4f2"/>
<rect x="523.32" y="487.55" width="7.56" height="12.07" fill="#ecf2f5"/>
<rect x="530.07" y="487.55" width="7.56" height="12.07" fill="#b2182b"/>
<rect x="536.83" y="487.55" width="7.56" height="12.07" fill="#f8f1ed"/>
<rect x="543.58" y="487.55" width="7.56" height="12.07" fill="#d1e5f0"/>
<rect x="550.34" y="487.55" width="7.56" height="12.07" fill="#fae9df"/>
<rect x="557.09" y="487.55" width="7.56" height="12.07" fill="#f8f1ed"/>
<rect x="563.85" y="487.55" width="7.56" height="12.07" fill="#b2182b"/>
<rect x="570.60" y="487.55" width="7.56" height="12.07" fill="#b2182b"/>
<rect x="577.36" y="487.55" width="7.56" height="12.07" fill="#fce1d1"/>
<rect x="584.11" y="487.55" width="7.56" height="12.07" fill="#c8e1ee"/>
<rect x="590.87" y="487.55" width="7.56" height="12.07" fill="#f4a582"/>
<rect x="597.62" y="487.55" width="7.56" height="12.07" fill="#b2182b"/>
<rect x="604.38" y="487.55" width="7.56" height="12.07" fill="#fddbc7"/>
<rect x="611.14" y="487.55" width="7.56" height="12.07" fill="#c03539"/>
<rect x="617.89" y="487.55" width="7.56" height="12.07" fill="#f8bb9e"/>
<rect x="624.65" y="487.55" width="7.56" height="12.07" fill="#b2182b"/>
<rect x="631.40" y="487.55" width="7.56" height="12.07" fill="#c43c3c"/>
<rect x="638.16" y="487.55" width="7.56" height="12.07" fill="#b2182b"/>
<rect x="644.91" y="487.55" width="7.56" height="12.07" fill="#b2182b"/>
<rect x="651.67" y="487.55" width="7.56" height="12.07" fill="#d6604d"/>
<rect x="658.42" y="487.55" width="7.56" height="12.07" fill="#b2182b"/>
<rect x="665.18" y="487.55" width="7.56" height="12.07" fill="#b2182b"/>
<rect x="671.93" y="487.55" width="7.56" height="12.07" fill="#e58268"/>
<rect x="678.69" y="487.55" width="7.56" height="12.07" fill="#b2182b"/>
<rect x="685.44" y="487.55" width="6.76" height="12.07" fill="#d6604d"/>
<rect x="313.90" y="498.82" width="7.56" height="12.07" fill="#2166ac"/>
<rect x="320.66" y="498.82" width="7.56" height="12.07" fill="#2166ac"/>
<rect x="327.41" y="498.82" width="7.56" height="12.07" fill="#2166ac"/>
<rect x="334.17" y="498.82" width="7.56" height="12.07" fill="#2166ac"/>
<rect x="340.92" y="498.82" width="7.56" height="12.07" fill="#2166ac"/>
<rect x="347.68" y="498.82" width="7.56" height="12.07" fill="#327cb8"/>
<rect x="354.43" y="498.82" width="7.56" height="12.07" fill="#2166ac"/>
<rect x="361.19" y="498.82" width="7.56" height="12.07" fill="#64a8ce"/>
<rect x="367.94" y="498.82" width="7.56" height="12.07" fill="#d1e5f0"/>
<rect x="374.70" y="498.82" width="7.56" height="12.07" fill="#64a8ce"/>
<rect x="381.45" y="498.82" width="7.56" height="12.07" fill="#408fc1"/>
<rect x="388.21" y="498.82" width="7.56" height="12.07" fill="#64a8ce"/>
<rect x="394.96" y="498.82" width="7.56" height="12.07" fill="#2166ac"/>
<rect x="401.72" y="498.82" width="7.56" height="12.07" fill="#7eb8d7"/>
<rect x="408.48" y="498.82" width="7.56" height="12.07" fill="#408fc1"/>
<rect x="415.23" y="498.82" width="7.56" height="12.07" fill="#dbeaf2"/>
<rect x="421.99" y="498.82" width="7.56" height="12.07" fill="#2166ac"/>
<rect x="428.74" y="498.82" width="7.56" height="12.07" fill="#539dc9"/>
<rect x="435.50" y="498.82" width="7.56" height="12.07" fill="#539dc9"/>
<rect x="442.25" y="498.82" width="7.56" height="12.07" fill="#fddbc7"/>
<rect x="449.01" y="498.82" width="7.56" height="12.07" fill="#fbe3d5"/>
<rect x="455.76" y="498.82" width="7.56" height="12.07" fill="#2166ac"/>
<rect x="462.52" y="498.82" width="7.56" height="12.07" fill="#3784bb"/>
<rect x="469.27" y="498.82" width="7.56" height="12.07" fill="#dbeaf2"/>
<rect x="476.03" y="498.82" width="7.56" height="12.07" fill="#b8d8e9"/>
<rect x="482.78" y="498.82" width="7.56" height="12.07" fill="#e58268"/>
<rect x="489.54" y="498.82" width="7.56" height="12.07" fill="#408fc1"/>
<rect x="496.29" y="498.82" width="7.56" height="12.07" fill="#fce1d1"/>
<rect x="503.05" y="498.82" width="7.56" height="12.07" fill="#f8f1ed"/>
<rect x="509.81" y="498.82" width="7.56" height="12.07" fill="#a8d0e4"/>
<rect x="516.56" y="498.82" width="7.56" height="12.07" fill="#539dc9"/>
<rect x="523.32" y="498.82" width="7.56" height="12.07" fill="#90c4dd"/>
<rect x="530.07" y="498.82" width="7.56" height="12.07" fill="#facbb2"/>
<rect x="536.83" y="498.82" width="7.56" height="12.07" fill="#4494c3"/>
<rect x="543.58" y="498.82" width="7.56" height="12.07" fill="#d6604d"/>
<rect x="550.34" y="498.82" width="7.56" height="12.07" fill="#f8f4f2"/>
<rect x="557.09" y="498.82" width="7.56" height="12.07" fill="#f9efe9"/>
<rect x="563.85" y="498.82" width="7.56" height="12.07" fill="#b2182b"/>
<rect x="570.60" y="498.82" width="7.56" height="12.07" fill="#e6eff4"/>
<rect x="577.36" y="498.82" width="7.56" height="12.07" fill="#bd2e35"/>
<rect x="584.11" y="498.82" width="7.56" height="12.07" fill="#cb4a43"/>
<rect x="590.87" y="498.82" width="7.56" height="12.07" fill="#b92632"/>
<rect x="597.62" y="498.82" width="7.56" height="12.07" fill="#b2182b"/>
<rect x="604.38" y="498.82" width="7.56" height="12.07" fill="#b2182b"/>
<rect x="611.14" y="498.82" width="7.56" height="12.07" fill="#b2182b"/>
<rect x="617.89" y="498.82" width="7.56" height="12.07" fill="#cb4a43"/>
<rect x="624.65" y="498.82" width="7.56" height="12.07" fill="#facbb2"/>
<rect x="631.40" y="498.82" width="7.56" height="12.07" fill="#dbeaf2"/>
<rect x="638.16" y="498.82" width="7.56" height="12.07" fill="#b2182b"/>
<rect x="644.91" y="498.82" width="7.56" height="12.07" fill="#b2182b"/>
<rect x="651.67" y="498.82" width="7.56" height="12.07" fill="#b2182b"/>
<rect x="658.42" y="498.82" width="7.56" height="12.07" fill="#c43c3c"/>
<rect x="665.18" y="498.82" width="7.56" height="12.07" fill="#f4a582"/>
<rect x="671.93" y="498.82" width="7.56" height="12.07" fill="#b2182b"/>
<rect x="678.69" y="498.82" width="7.56" height="12.07" fill="#b2182b"/>
<rect x="685.44" y="498.82" width="6.76" height="12.07" fill="#fbe6da"/>
<rect x="313.90" y="510.09" width="7.56" height="12.07" fill="#2166ac"/>
<rect x="320.66" y="510.09" width="7.56" height="12.07" fill="#64a8ce"/>
<rect x="327.41" y="510.09" width="7.56" height="12.07" fill="#2166ac"/>
<rect x="334.17" y="510.09" width="7.56" height="12.07" fill="#2166ac"/>
<rect x="340.92" y="510.09" width="7.56" height="12.07" fill="#2166ac"/>
<rect x="347.68" y="510.09" width="7.56" height="12.07" fill="#2166ac"/>
<rect x="354.43" y="510.09" width="7.56" height="12.07" fill="#2166ac"/>
<rect x="361.19" y="510.09" width="7.56" height="12.07" fill="#2166ac"/>
<rect x="367.94" y="510.09" width="7.56" height="12.07" fill="#2166ac"/>
<rect x="374.70" y="510.09" width="7.56" height="12.07" fill="#64a8ce"/>
<rect x="381.45" y="510.09" width="7.56" height="12.07" fill="#dbeaf2"/>
<rect x="388.21" y="510.09" width="7.56" height="12.07" fill="#75b3d4"/>
<rect x="394.96" y="510.09" width="7.56" height="12.07" fill="#2166ac"/>
<rect x="401.72" y="510.09" width="7.56" height="12.07" fill="#327cb8"/>
<rect x="408.48" y="510.09" width="7.56" height="12.07" fill="#f7f7f7"/>
<rect x="415.23" y="510.09" width="7.56" height="12.07" fill="#2166ac"/>
<rect x="421.99" y="510.09" width="7.56" height="12.07" fill="#2166ac"/>
<rect x="428.74" y="510.09" width="7.56" height="12.07" fill="#e6eff4"/>
<rect x="435.50" y="510.09" width="7.56" height="12.07" fill="#2166ac"/>
<rect x="442.25" y="510.09" width="7.56" height="12.07" fill="#e6eff4"/>
<rect x="449.01" y="510.09" width="7.56" height="12.07" fill="#7eb8d7"/>
<rect x="455.76" y="510.09" width="7.56" height="12.07" fill="#408fc1"/>
<rect x="462.52" y="510.09" width="7.56" height="12.07" fill="#c8e1ee"/>
<rect x="469.27" y="510.09" width="7.56" height="12.07" fill="#e1ecf3"/>
<rect x="476.03" y="510.09" width="7.56" height="12.07" fill="#e1ecf3"/>
<rect x="482.78" y="510.09" width="7.56" height="12.07" fill="#cf5246"/>
<rect x="489.54" y="510.09" width="7.56" height="12.07" fill="#90c4dd"/>
<rect x="496.29" y="510.09" width="7.56" height="12.07" fill="#dbeaf2"/>
<rect x="503.05" y="510.09" width="7.56" height="12.07" fill="#3784bb"/>
<rect x="509.81" y="510.09" width="7.56" height="12.07" fill="#64a8ce"/>
<rect x="516.56" y="510.09" width="7.56" height="12.07" fill="#f8f1ed"/>
<rect x="523.32" y="510.09" width="7.56" height="12.07" fill="#fae9df"/>
<rect x="530.07" y="510.09" width="7.56" height="12.07" fill="#b2182b"/>
<rect x="536.83" y="510.09" width="7.56" height="12.07" fill="#dc6e58"/>
<rect x="543.58" y="510.09" width="7.56" height="12.07" fill="#b2182b"/>
<rect x="550.34" y="510.09" width="7.56" height="12.07" fill="#facbb2"/>
<rect x="557.09" y="510.09" width="7.56" height="12.07" fill="#b2182b"/>
<rect x="563.85" y="510.09" width="7.56" height="12.07" fill="#cf5246"/>
<rect x="570.60" y="510.09" width="7.56" height="12.07" fill="#fddbc7"/>
<rect x="577.36" y="510.09" width="7.56" height="12.07" fill="#fddbc7"/>
<rect x="584.11" y="510.09" width="7.56" height="12.07" fill="#c03539"/>
<rect x="590.87" y="510.09" width="7.56" height="12.07" fill="#eb9072"/>
<rect x="597.62" y="510.09" width="7.56" height="12.07" fill="#b2182b"/>
<rect x="604.38" y="510.09" width="7.56" height="12.07" fill="#f6b090"/>
<rect x="611.14" y="510.09" width="7.56" height="12.07" fill="#e27c62"/>
<rect x="617.89" y="510.09" width="7.56" height="12.07" fill="#fbd0b9"/>
<rect x="624.65" y="510.09" width="7.56" height="12.07" fill="#c43c3c"/>
<rect x="631.40" y="510.09" width="7.56" height="12.07" fill="#b2182b"/>
<rect x="638.16" y="510.09" width="7.56" height="12.07" fill="#eb9072"/>
<rect x="644.91" y="510.09" width="7.56" height="12.07" fill="#cb4a43"/>
<rect x="651.67" y="510.09" width="7.56" height="12.07" fill="#facbb2"/>
<rect x="658.42" y="510.09" width="7.56" height="12.07" fill="#b2182b"/>
<rect x="665.18" y="510.09" width="7.56" height="12.07" fill="#f9efe9"/>
<rect x="671.93" y="510.09" width="7.56" height="12.07" fill="#dbeaf2"/>
<rect x="678.69" y="510.09" width="7.56" height="12.07" fill="#b2182b"/>
<rect x="685.44" y="510.09" width="6.76" height="12.07" fill="#b2182b"/>
<rect x="313.90" y="521.36" width="7.56" height="12.07" fill="#75b3d4"/>
<rect x="320.66" y="521.36" width="7.56" height="12.07" fill="#dbeaf2"/>
<rect x="327.41" y="521.36" width="7.56" height="12.07" fill="#fddbc7"/>
<rect x="334.17" y="521.36" width="7.56" height="12.07" fill="#c8e1ee"/>
<rect x="340.92" y="521.36" width="7.56" height="12.07" fill="#ecf2f5"/>
<rect x="347.68" y="521.36" width="7.56" height="12.07" fill="#2166ac"/>
<rect x="354.43" y="521.36" width="7.56" height="12.07" fill="#276eb0"/>
<rect x="361.19" y="521.36" width="7.56" height="12.07" fill="#2166ac"/>
<rect x="367.94" y="521.36" width="7.56" height="12.07" fill="#327cb8"/>
<rect x="374.70" y="521.36" width="7.56" height="12.07" fill="#327cb8"/>
<rect x="381.45" y="521.36" width="7.56" height="12.07" fill="#327cb8"/>
<rect x="388.21" y="521.36" width="7.56" height="12.07" fill="#276eb0"/>
<rect x="394.96" y="521.36" width="7.56" height="12.07" fill="#327cb8"/>
<rect x="401.72" y="521.36" width="7.56" height="12.07" fill="#3784bb"/>
<rect x="408.48" y="521.36" width="7.56" height="12.07" fill="#a8d0e4"/>
<rect x="415.23" y="521.36" width="7.56" height="12.07" fill="#3784bb"/>
<rect x="421.99" y="521.36" width="7.56" height="12.07" fill="#3784bb"/>
<rect x="428.74" y="521.36" width="7.56" height="12.07" fill="#d1e5f0"/>
<rect x="435.50" y="521.36" width="7.56" height="12.07" fill="#3a87bd"/>
<rect x="442.25" y="521.36" width="7.56" height="12.07" fill="#3a87bd"/>
<rect x="449.01" y="521.36" width="7.56" height="12.07" fill="#b8d8e9"/>
<rect x="455.76" y="521.36" width="7.56" height="12.07" fill="#e6eff4"/>
<rect x="462.52" y="521.36" width="7.56" height="12.07" fill="#539dc9"/>
<rect x="469.27" y="521.36" width="7.56" height="12.07" fill="#a8d0e4"/>
<rect x="476.03" y="521.36" width="7.56" height="12.07" fill="#327cb8"/>
<rect x="482.78" y="521.36" width="7.56" height="12.07" fill="#7eb8d7"/>
<rect x="489.54" y="521.36" width="7.56" height="12.07" fill="#327cb8"/>
<rect x="496.29" y="521.36" width="7.56" height="12.07" fill="#3784bb"/>
<rect x="503.05" y="521.36" width="7.56" height="12.07" fill="#fbe3d5"/>
<rect x="509.81" y="521.36" width="7.56" height="12.07" fill="#e1ecf3"/>
<rect x="516.56" y="521.36" width="7.56" height="12.07" fill="#f9ece4"/>
<rect x="523.32" y="521.36" width="7.56" height="12.07" fill="#f9ece4"/>
<rect x="530.07" y="521.36" width="7.56" height="12.07" fill="#b2182b"/>
<rect x="536.83" y="521.36" width="7.56" height="12.07" fill="#f9efe9"/>
<rect x="543.58" y="521.36" width="7.56" height="12.07" fill="#facbb2"/>
<rect x="550.34" y="521.36" width="7.56" height="12.07" fill="#f8f4f2"/>
<rect x="557.09" y="521.36" width="7.56" height="12.07" fill="#ecf2f5"/>
<rect x="563.85" y="521.36" width="7.56" height="12.07" fill="#f8c0a4"/>
<rect x="570.60" y="521.36" width="7.56" height="12.07" fill="#f1f4f6"/>
<rect x="577.36" y="521.36" width="7.56" height="12.07" fill="#b2182b"/>
<rect x="584.11" y="521.36" width="7.56" height="12.07" fill="#fbe6da"/>
<rect x="590.87" y="521.36" width="7.56" height="12.07" fill="#c03539"/>
<rect x="597.62" y="521.36" width="7.56" height="12.07" fill="#f9efe9"/>
<rect x="604.38" y="521.36" width="7.56" height="12.07" fill="#f9efe9"/>
<rect x="611.14" y="521.36" width="7.56" height="12.07" fill="#f8bb9e"/>
<rect x="617.89" y="521.36" width="7.56" height="12.07" fill="#d1e5f0"/>
<rect x="624.65" y="521.36" width="7.56" height="12.07" fill="#cf5246"/>
<rect x="631.40" y="521.36" width="7.56" height="12.07" fill="#f8f1ed"/>
<rect x="638.16" y="521.36" width="7.56" height="12.07" fill="#f8f1ed"/>
<rect x="644.91" y="521.36" width="7.56" height="12.07" fill="#c8433f"/>
<rect x="651.67" y="521.36" width="7.56" height="12.07" fill="#bd2e35"/>
<rect x="658.42" y="521.36" width="7.56" height="12.07" fill="#b2182b"/>
<rect x="665.18" y="521.36" width="7.56" height="12.07" fill="#f7f7f7"/>
<rect x="671.93" y="521.36" width="7.56" height="12.07" fill="#facbb2"/>
<rect x="678.69" y="521.36" width="7.56" height="12.07" fill="#b2182b"/>
<rect x="685.44" y="521.36" width="6.76" height="12.07" fill="#b2182b"/>
<rect x="313.90" y="532.63" width="7.56" height="12.07" fill="#b8d8e9"/>
<rect x="320.66" y="532.63" width="7.56" height="12.07" fill="#2166ac"/>
<rect x="327.41" y="532.63" width="7.56" height="12.07" fill="#90c4dd"/>
<rect x="334.17" y="532.63" width="7.56" height="12.07" fill="#327cb8"/>
<rect x="340.92" y="532.63" width="7.56" height="12.07" fill="#327cb8"/>
<rect x="347.68" y="532.63" width="7.56" height="12.07" fill="#327cb8"/>
<rect x="354.43" y="532.63" width="7.56" height="12.07" fill="#b8d8e9"/>
<rect x="361.19" y="532.63" width="7.56" height="12.07" fill="#64a8ce"/>
<rect x="367.94" y="532.63" width="7.56" height="12.07" fill="#dbeaf2"/>
<rect x="374.70" y="532.63" width="7.56" height="12.07" fill="#2166ac"/>
<rect x="381.45" y="532.63" width="7.56" height="12.07" fill="#b8d8e9"/>
<rect x="388.21" y="532.63" width="7.56" height="12.07" fill="#ecf2f5"/>
<rect x="394.96" y="532.63" width="7.56" height="12.07" fill="#b8d8e9"/>
<rect x="401.72" y="532.63" width="7.56" height="12.07" fill="#d1e5f0"/>
<rect x="408.48" y="532.63" width="7.56" height="12.07" fill="#90c4dd"/>
<rect x="415.23" y="532.63" width="7.56" height="12.07" fill="#c8e1ee"/>
<rect x="421.99" y="532.63" width="7.56" height="12.07" fill="#a8d0e4"/>
<rect x="428.74" y="532.63" width="7.56" height="12.07" fill="#f8f1ed"/>
<rect x="435.50" y="532.63" width="7.56" height="12.07" fill="#dbeaf2"/>
<rect x="442.25" y="532.63" width="7.56" height="12.07" fill="#b8d8e9"/>
<rect x="449.01" y="532.63" width="7.56" height="12.07" fill="#f4a582"/>
<rect x="455.76" y="532.63" width="7.56" height="12.07" fill="#f9efe9"/>
<rect x="462.52" y="532.63" width="7.56" height="12.07" fill="#dbeaf2"/>
<rect x="469.27" y="532.63" width="7.56" height="12.07" fill="#f9efe9"/>
<rect x="476.03" y="532.63" width="7.56" height="12.07" fill="#e1ecf3"/>
<rect x="482.78" y="532.63" width="7.56" height="12.07" fill="#2166ac"/>
<rect x="489.54" y="532.63" width="7.56" height="12.07" fill="#2166ac"/>
<rect x="496.29" y="532.63" width="7.56" height="12.07" fill="#2166ac"/>
<rect x="503.05" y="532.63" width="7.56" height="12.07" fill="#f7f7f7"/>
<rect x="509.81" y="532.63" width="7.56" height="12.07" fill="#c8e1ee"/>
<rect x="516.56" y="532.63" width="7.56" height="12.07" fill="#dbeaf2"/>
<rect x="523.32" y="532.63" width="7.56" height="12.07" fill="#c0dceb"/>
<rect x="530.07" y="532.63" width="7.56" height="12.07" fill="#b2182b"/>
<rect x="536.83" y="532.63" width="7.56" height="12.07" fill="#4c98c6"/>
<rect x="543.58" y="532.63" width="7.56" height="12.07" fill="#fbe3d5"/>
<rect x="550.34" y="532.63" width="7.56" height="12.07" fill="#f6b090"/>
<rect x="557.09" y="532.63" width="7.56" height="12.07" fill="#facbb2"/>
<rect x="563.85" y="532.63" width="7.56" height="12.07" fill="#f8c0a4"/>
<rect x="570.60" y="532.63" width="7.56" height="12.07" fill="#d6e7f1"/>
<rect x="577.36" y="532.63" width="7.56" height="12.07" fill="#f8f1ed"/>
<rect x="584.11" y="532.63" width="7.56" height="12.07" fill="#ecf2f5"/>
<rect x="590.87" y="532.63" width="7.56" height="12.07" fill="#dc6e58"/>
<rect x="597.62" y="532.63" width="7.56" height="12.07" fill="#f7b597"/>
<rect x="604.38" y="532.63" width="7.56" height="12.07" fill="#d6604d"/>
<rect x="611.14" y="532.63" width="7.56" height="12.07" fill="#fddbc7"/>
<rect x="617.89" y="532.63" width="7.56" height="12.07" fill="#d6604d"/>
<rect x="624.65" y="532.63" width="7.56" height="12.07" fill="#facbb2"/>
<rect x="631.40" y="532.63" width="7.56" height="12.07" fill="#fddbc7"/>
<rect x="638.16" y="532.63" width="7.56" height="12.07" fill="#fce1d1"/>
<rect x="644.91" y="532.63" width="7.56" height="12.07" fill="#b2182b"/>
<rect x="651.67" y="532.63" width="7.56" height="12.07" fill="#b92632"/>
<rect x="658.42" y="532.63" width="7.56" height="12.07" fill="#b2182b"/>
<rect x="665.18" y="532.63" width="7.56" height="12.07" fill="#fbe3d5"/>
<rect x="671.93" y="532.63" width="7.56" height="12.07" fill="#b2182b"/>
<rect x="678.69" y="532.63" width="7.56" height="12.07" fill="#b92632"/>
<rect x="685.44" y="532.63" width="6.76" height="12.07" fill="#b2182b"/>
<rect x="313.90" y="543.90" width="7.56" height="12.07" fill="#2166ac"/>
<rect x="320.66" y="543.90" width="7.56" height="12.07" fill="#2166ac"/>
<rect x="327.41" y="543.90" width="7.56" height="12.07" fill="#2166ac"/>
<rect x="334.17" y="543.90" width="7.56" height="12.07" fill="#2166ac"/>
<rect x="340.92" y="543.90" width="7.56" height="12.07" fill="#2166ac"/>
<rect x="347.68" y="543.90" width="7.56" height="12.07" fill="#2166ac"/>
<rect x="354.43" y="543.90" width="7.56" height="12.07" fill="#64a8ce"/>
<rect x="361.19" y="543.90" width="7.56" height="12.07" fill="#408fc1"/>
<rect x="367.94" y="543.90" width="7.56" height="12.07" fill="#408fc1"/>
<rect x="374.70" y="543.90" width="7.56" height="12.07" fill="#2166ac"/>
<rect x="381.45" y="543.90" width="7.56" height="12.07" fill="#327cb8"/>
<rect x="388.21" y="543.90" width="7.56" height="12.07" fill="#90c4dd"/>
<rect x="394.96" y="543.90" width="7.56" height="12.07" fill="#b8d8e9"/>
<rect x="401.72" y="543.90" width="7.56" height="12.07" fill="#dbeaf2"/>
<rect x="408.48" y="543.90" width="7.56" height="12.07" fill="#e1ecf3"/>
<rect x="415.23" y="543.90" width="7.56" height="12.07" fill="#e6eff4"/>
<rect x="421.99" y="543.90" width="7.56" height="12.07" fill="#ecf2f5"/>
<rect x="428.74" y="543.90" width="7.56" height="12.07" fill="#d6e7f1"/>
<rect x="435.50" y="543.90" width="7.56" height="12.07" fill="#dbeaf2"/>
<rect x="442.25" y="543.90" width="7.56" height="12.07" fill="#fddbc7"/>
<rect x="449.01" y="543.90" width="7.56" height="12.07" fill="#fddbc7"/>
<rect x="455.76" y="543.90" width="7.56" height="12.07" fill="#f1f4f6"/>
<rect x="462.52" y="543.90" width="7.56" height="12.07" fill="#c8e1ee"/>
<rect x="469.27" y="543.90" width="7.56" height="12.07" fill="#d6604d"/>
<rect x="476.03" y="543.90" width="7.56" height="12.07" fill="#f7f7f7"/>
<rect x="482.78" y="543.90" width="7.56" height="12.07" fill="#2166ac"/>
<rect x="489.54" y="543.90" width="7.56" height="12.07" fill="#2166ac"/>
<rect x="496.29" y="543.90" width="7.56" height="12.07" fill="#2166ac"/>
<rect x="503.05" y="543.90" width="7.56" height="12.07" fill="#fddbc7"/>
<rect x="509.81" y="543.90" width="7.56" height="12.07" fill="#ee9777"/>
<rect x="516.56" y="543.90" width="7.56" height="12.07" fill="#f9efe9"/>
<rect x="523.32" y="543.90" width="7.56" height="12.07" fill="#dc6e58"/>
<rect x="530.07" y="543.90" width="7.56" height="12.07" fill="#c43c3c"/>
<rect x="536.83" y="543.90" width="7.56" height="12.07" fill="#b92632"/>
<rect x="543.58" y="543.90" width="7.56" height="12.07" fill="#b2182b"/>
<rect x="550.34" y="543.90" width="7.56" height="12.07" fill="#b92632"/>
<rect x="557.09" y="543.90" width="7.56" height="12.07" fill="#b2182b"/>
<rect x="563.85" y="543.90" width="7.56" height="12.07" fill="#cb4a43"/>
<rect x="570.60" y="543.90" width="7.56" height="12.07" fill="#d6604d"/>
<rect x="577.36" y="543.90" width="7.56" height="12.07" fill="#e58268"/>
<rect x="584.11" y="543.90" width="7.56" height="12.07" fill="#f6b090"/>
<rect x="590.87" y="543.90" width="7.56" height="12.07" fill="#b2182b"/>
<rect x="597.62" y="543.90" width="7.56" height="12.07" fill="#b2182b"/>
<rect x="604.38" y="543.90" width="7.56" height="12.07" fill="#d6604d"/>
<rect x="611.14" y="543.90" width="7.56" height="12.07" fill="#e58268"/>
<rect x="617.89" y="543.90" width="7.56" height="12.07" fill="#d6604d"/>
<rect x="624.65" y="543.90" width="7.56" height="12.07" fill="#f6b090"/>
<rect x="631.40" y="543.90" width="7.56" height="12.07" fill="#b2182b"/>
<rect x="638.16" y="543.90" width="7.56" height="12.07" fill="#b2182b"/>
<rect x="644.91" y="543.90" width="7.56" height="12.07" fill="#b2182b"/>
<rect x="651.67" y="543.90" width="7.56" height="12.07" fill="#dc6e58"/>
<rect x="658.42" y="543.90" width="7.56" height="12.07" fill="#dc6e58"/>
<rect x="665.18" y="543.90" width="7.56" height="12.07" fill="#2166ac"/>
<rect x="671.93" y="543.90" width="7.56" height="12.07" fill="#dc6e58"/>
<rect x="678.69" y="543.90" width="7.56" height="12.07" fill="#dc6e58"/>
<rect x="685.44" y="543.90" width="6.76" height="12.07" fill="#eb9072"/>
<rect x="313.90" y="555.17" width="7.56" height="12.07" fill="#2166ac"/>
<rect x="320.66" y="555.17" width="7.56" height="12.07" fill="#2166ac"/>
<rect x="327.41" y="555.17" width="7.56" height="12.07" fill="#2166ac"/>
<rect x="334.17" y="555.17" width="7.56" height="12.07" fill="#2166ac"/>
<rect x="340.92" y="555.17" width="7.56" height="12.07" fill="#2166ac"/>
<rect x="347.68" y="555.17" width="7.56" height="12.07" fill="#2166ac"/>
<rect x="354.43" y="555.17" width="7.56" height="12.07" fill="#2166ac"/>
<rect x="361.19" y="555.17" width="7.56" height="12.07" fill="#64a8ce"/>
<rect x="367.94" y="555.17" width="7.56" height="12.07" fill="#2166ac"/>
<rect x="374.70" y="555.17" width="7.56" height="12.07" fill="#2166ac"/>
<rect x="381.45" y="555.17" width="7.56" height="12.07" fill="#2166ac"/>
<rect x="388.21" y="555.17" width="7.56" height="12.07" fill="#90c4dd"/>
<rect x="394.96" y="555.17" width="7.56" height="12.07" fill="#b8d8e9"/>
<rect x="401.72" y="555.17" width="7.56" height="12.07" fill="#327cb8"/>
<rect x="408.48" y="555.17" width="7.56" height="12.07" fill="#7eb8d7"/>
<rect x="415.23" y="555.17" width="7.56" height="12.07" fill="#539dc9"/>
<rect x="421.99" y="555.17" width="7.56" height="12.07" fill="#327cb8"/>
<rect x="428.74" y="555.17" width="7.56" height="12.07" fill="#3784bb"/>
<rect x="435.50" y="555.17" width="7.56" height="12.07" fill="#64a8ce"/>
<rect x="442.25" y="555.17" width="7.56" height="12.07" fill="#90c4dd"/>
<rect x="449.01" y="555.17" width="7.56" height="12.07" fill="#7eb8d7"/>
<rect x="455.76" y="555.17" width="7.56" height="12.07" fill="#fbe6da"/>
<rect x="462.52" y="555.17" width="7.56" height="12.07" fill="#d6e7f1"/>
<rect x="469.27" y="555.17" width="7.56" height="12.07" fill="#f1f4f6"/>
<rect x="476.03" y="555.17" width="7.56" height="12.07" fill="#f1f4f6"/>
<rect x="482.78" y="555.17" width="7.56" height="12.07" fill="#75b3d4"/>
<rect x="489.54" y="555.17" width="7.56" height="12.07" fill="#c8e1ee"/>
<rect x="496.29" y="555.17" width="7.56" height="12.07" fill="#dbeaf2"/>
<rect x="503.05" y="555.17" width="7.56" height="12.07" fill="#fbe6da"/>
<rect x="509.81" y="555.17" width="7.56" height="12.07" fill="#b2182b"/>
<rect x="516.56" y="555.17" width="7.56" height="12.07" fill="#e58268"/>
<rect x="523.32" y="555.17" width="7.56" height="12.07" fill="#b2182b"/>
<rect x="530.07" y="555.17" width="7.56" height="12.07" fill="#c03539"/>
<rect x="536.83" y="555.17" width="7.56" height="12.07" fill="#b2182b"/>
<rect x="543.58" y="555.17" width="7.56" height="12.07" fill="#d6604d"/>
<rect x="550.34" y="555.17" width="7.56" height="12.07" fill="#eb9072"/>
<rect x="557.09" y="555.17" width="7.56" height="12.07" fill="#f8f4f2"/>
<rect x="563.85" y="555.17" width="7.56" height="12.07" fill="#b2182b"/>
<rect x="570.60" y="555.17" width="7.56" height="12.07" fill="#f8c0a4"/>
<rect x="577.36" y="555.17" width="7.56" height="12.07" fill="#fce1d1"/>
<rect x="584.11" y="555.17" width="7.56" height="12.07" fill="#b2182b"/>
<rect x="590.87" y="555.17" width="7.56" height="12.07" fill="#b2182b"/>
<rect x="597.62" y="555.17" width="7.56" height="12.07" fill="#fbd0b9"/>
<rect x="604.38" y="555.17" width="7.56" height="12.07" fill="#f6b090"/>
<rect x="611.14" y="555.17" width="7.56" height="12.07" fill="#cf5246"/>
<rect x="617.89" y="555.17" width="7.56" height="12.07" fill="#dc6e58"/>
<rect x="624.65" y="555.17" width="7.56" height="12.07" fill="#e58268"/>
<rect x="631.40" y="555.17" width="7.56" height="12.07" fill="#fbe6da"/>
<rect x="638.16" y="555.17" width="7.56" height="12.07" fill="#ecf2f5"/>
<rect x="644.91" y="555.17" width="7.56" height="12.07" fill="#b2182b"/>
<rect x="651.67" y="555.17" width="7.56" height="12.07" fill="#d6604d"/>
<rect x="658.42" y="555.17" width="7.56" height="12.07" fill="#d6604d"/>
<rect x="665.18" y="555.17" width="7.56" height="12.07" fill="#e8896d"/>
<rect x="671.93" y="555.17" width="7.56" height="12.07" fill="#d6604d"/>
<rect x="678.69" y="555.17" width="7.56" height="12.07" fill="#ecf2f5"/>
<rect x="685.44" y="555.17" width="6.76" height="12.07" fill="#fce1d1"/>
<rect x="313.90" y="566.44" width="7.56" height="12.07" fill="#2166ac"/>
<rect x="320.66" y="566.44" width="7.56" height="12.07" fill="#2166ac"/>
<rect x="327.41" y="566.44" width="7.56" height="12.07" fill="#2166ac"/>
<rect x="334.17" y="566.44" width="7.56" height="12.07" fill="#2166ac"/>
<rect x="340.92" y="566.44" width="7.56" height="12.07" fill="#2166ac"/>
<rect x="347.68" y="566.44" width="7.56" height="12.07" fill="#2166ac"/>
<rect x="354.43" y="566.44" width="7.56" height="12.07" fill="#327cb8"/>
<rect x="361.19" y="566.44" width="7.56" height="12.07" fill="#b8d8e9"/>
<rect x="367.94" y="566.44" width="7.56" height="12.07" fill="#327cb8"/>
<rect x="374.70" y="566.44" width="7.56" height="12.07" fill="#2166ac"/>
<rect x="381.45" y="566.44" width="7.56" height="12.07" fill="#2166ac"/>
<rect x="388.21" y="566.44" width="7.56" height="12.07" fill="#b8d8e9"/>
<rect x="394.96" y="566.44" width="7.56" height="12.07" fill="#408fc1"/>
<rect x="401.72" y="566.44" width="7.56" height="12.07" fill="#b8d8e9"/>
<rect x="408.48" y="566.44" width="7.56" height="12.07" fill="#2166ac"/>
<rect x="415.23" y="566.44" width="7.56" height="12.07" fill="#7eb8d7"/>
<rect x="421.99" y="566.44" width="7.56" height="12.07" fill="#ecf2f5"/>
<rect x="428.74" y="566.44" width="7.56" height="12.07" fill="#dbeaf2"/>
<rect x="435.50" y="566.44" width="7.56" height="12.07" fill="#64a8ce"/>
<rect x="442.25" y="566.44" width="7.56" height="12.07" fill="#b8d8e9"/>
<rect x="449.01" y="566.44" width="7.56" height="12.07" fill="#ecf2f5"/>
<rect x="455.76" y="566.44" width="7.56" height="12.07" fill="#f7f7f7"/>
<rect x="462.52" y="566.44" width="7.56" height="12.07" fill="#327cb8"/>
<rect x="469.27" y="566.44" width="7.56" height="12.07" fill="#f8f1ed"/>
<rect x="476.03" y="566.44" width="7.56" height="12.07" fill="#e6eff4"/>
<rect x="482.78" y="566.44" width="7.56" height="12.07" fill="#ecf2f5"/>
<rect x="489.54" y="566.44" width="7.56" height="12.07" fill="#3784bb"/>
<rect x="496.29" y="566.44" width="7.56" height="12.07" fill="#b8d8e9"/>
<rect x="503.05" y="566.44" width="7.56" height="12.07" fill="#c43c3c"/>
<rect x="509.81" y="566.44" width="7.56" height="12.07" fill="#b2182b"/>
<rect x="516.56" y="566.44" width="7.56" height="12.07" fill="#f9efe9"/>
<rect x="523.32" y="566.44" width="7.56" height="12.07" fill="#f4a582"/>
<rect x="530.07" y="566.44" width="7.56" height="12.07" fill="#b2182b"/>
<rect x="536.83" y="566.44" width="7.56" height="12.07" fill="#b2182b"/>
<rect x="543.58" y="566.44" width="7.56" height="12.07" fill="#eb9072"/>
<rect x="550.34" y="566.44" width="7.56" height="12.07" fill="#eb9072"/>
<rect x="557.09" y="566.44" width="7.56" height="12.07" fill="#d6e7f1"/>
<rect x="563.85" y="566.44" width="7.56" height="12.07" fill="#f6b090"/>
<rect x="570.60" y="566.44" width="7.56" height="12.07" fill="#f9efe9"/>
<rect x="577.36" y="566.44" width="7.56" height="12.07" fill="#d6604d"/>
<rect x="584.11" y="566.44" width="7.56" height="12.07" fill="#b2182b"/>
<rect x="590.87" y="566.44" width="7.56" height="12.07" fill="#b2182b"/>
<rect x="597.62" y="566.44" width="7.56" height="12.07" fill="#b2182b"/>
<rect x="604.38" y="566.44" width="7.56" height="12.07" fill="#d6604d"/>
<rect x="611.14" y="566.44" width="7.56" height="12.07" fill="#eb9072"/>
<rect x="617.89" y="566.44" width="7.56" height="12.07" fill="#b2182b"/>
<rect x="624.65" y="566.44" width="7.56" height="12.07" fill="#f9efe9"/>
<rect x="631.40" y="566.44" width="7.56" height="12.07" fill="#f9efe9"/>
<rect x="638.16" y="566.44" width="7.56" height="12.07" fill="#d6e7f1"/>
<rect x="644.91" y="566.44" width="7.56" height="12.07" fill="#b2182b"/>
<rect x="651.67" y="566.44" width="7.56" height="12.07" fill="#cf5246"/>
<rect x="658.42" y="566.44" width="7.56" height="12.07" fill="#b2182b"/>
<rect x="665.18" y="566.44" width="7.56" height="12.07" fill="#c8e1ee"/>
<rect x="671.93" y="566.44" width="7.56" height="12.07" fill="#f6b090"/>
<rect x="678.69" y="566.44" width="7.56" height="12.07" fill="#f1f4f6"/>
<rect x="685.44" y="566.44" width="6.76" height="12.07" fill="#b2182b"/>
<rect x="313.90" y="577.71" width="7.56" height="12.07" fill="#c8e1ee"/>
<rect x="320.66" y="577.71" width="7.56" height="12.07" fill="#cb4a43"/>
<rect x="327.41" y="577.71" width="7.56" height="12.07" fill="#f4a582"/>
<rect x="334.17" y="577.71" width="7.56" height="12.07" fill="#98c8e0"/>
<rect x="340.92" y="577.71" width="7.56" height="12.07" fill="#f4a582"/>
<rect x="347.68" y="577.71" width="7.56" height="12.07" fill="#e58268"/>
<rect x="354.43" y="577.71" width="7.56" height="12.07" fill="#f8c0a4"/>
<rect x="361.19" y="577.71" width="7.56" height="12.07" fill="#f8c0a4"/>
<rect x="367.94" y="577.71" width="7.56" height="12.07" fill="#dbeaf2"/>
<rect x="374.70" y="577.71" width="7.56" height="12.07" fill="#d6604d"/>
<rect x="381.45" y="577.71" width="7.56" height="12.07" fill="#dc6e58"/>
<rect x="388.21" y="577.71" width="7.56" height="12.07" fill="#f8c0a4"/>
<rect x="394.96" y="577.71" width="7.56" height="12.07" fill="#ee9777"/>
<rect x="401.72" y="577.71" width="7.56" height="12.07" fill="#f8c0a4"/>
<rect x="408.48" y="577.71" width="7.56" height="12.07" fill="#e58268"/>
<rect x="415.23" y="577.71" width="7.56" height="12.07" fill="#fae9df"/>
<rect x="421.99" y="577.71" width="7.56" height="12.07" fill="#b2182b"/>
<rect x="428.74" y="577.71" width="7.56" height="12.07" fill="#cb4a43"/>
<rect x="435.50" y="577.71" width="7.56" height="12.07" fill="#b2182b"/>
<rect x="442.25" y="577.71" width="7.56" height="12.07" fill="#d6604d"/>
<rect x="449.01" y="577.71" width="7.56" height="12.07" fill="#75b3d4"/>
<rect x="455.76" y="577.71" width="7.56" height="12.07" fill="#fce1d1"/>
<rect x="462.52" y="577.71" width="7.56" height="12.07" fill="#b2182b"/>
<rect x="469.27" y="577.71" width="7.56" height="12.07" fill="#dc6e58"/>
<rect x="476.03" y="577.71" width="7.56" height="12.07" fill="#cf5246"/>
<rect x="482.78" y="577.71" width="7.56" height="12.07" fill="#b2182b"/>
<rect x="489.54" y="577.71" width="7.56" height="12.07" fill="#dbeaf2"/>
<rect x="496.29" y="577.71" width="7.56" height="12.07" fill="#c8e1ee"/>
<rect x="503.05" y="577.71" width="7.56" height="12.07" fill="#fbd0b9"/>
<rect x="509.81" y="577.71" width="7.56" height="12.07" fill="#b2182b"/>
<rect x="516.56" y="577.71" width="7.56" height="12.07" fill="#fddbc7"/>
<rect x="523.32" y="577.71" width="7.56" height="12.07" fill="#a8d0e4"/>
<rect x="530.07" y="577.71" width="7.56" height="12.07" fill="#b2182b"/>
<rect x="536.83" y="577.71" width="7.56" height="12.07" fill="#d1e5f0"/>
<rect x="543.58" y="577.71" width="7.56" height="12.07" fill="#dbeaf2"/>
<rect x="550.34" y="577.71" width="7.56" height="12.07" fill="#f6b090"/>
<rect x="557.09" y="577.71" width="7.56" height="12.07" fill="#f8f1ed"/>
<rect x="563.85" y="577.71" width="7.56" height="12.07" fill="#246aae"/>
<rect x="570.60" y="577.71" width="7.56" height="12.07" fill="#cf5246"/>
<rect x="577.36" y="577.71" width="7.56" height="12.07" fill="#f9ece4"/>
<rect x="584.11" y="577.71" width="7.56" height="12.07" fill="#327cb8"/>
<rect x="590.87" y="577.71" width="7.56" height="12.07" fill="#246aae"/>
<rect x="597.62" y="577.71" width="7.56" height="12.07" fill="#2166ac"/>
<rect x="604.38" y="577.71" width="7.56" height="12.07" fill="#2166ac"/>
<rect x="611.14" y="577.71" width="7.56" height="12.07" fill="#2166ac"/>
<rect x="617.89" y="577.71" width="7.56" height="12.07" fill="#2166ac"/>
<rect x="624.65" y="577.71" width="7.56" height="12.07" fill="#2166ac"/>
<rect x="631.40" y="577.71" width="7.56" height="12.07" fill="#327cb8"/>
<rect x="638.16" y="577.71" width="7.56" height="12.07" fill="#2166ac"/>
<rect x="644.91" y="577.71" width="7.56" height="12.07" fill="#2166ac"/>
<rect x="651.67" y="577.71" width="7.56" height="12.07" fill="#2166ac"/>
<rect x="658.42" y="577.71" width="7.56" height="12.07" fill="#2166ac"/>
<rect x="665.18" y="577.71" width="7.56" height="12.07" fill="#2166ac"/>
<rect x="671.93" y="577.71" width="7.56" height="12.07" fill="#2166ac"/>
<rect x="678.69" y="577.71" width="7.56" height="12.07" fill="#2166ac"/>
<rect x="685.44" y="577.71" width="6.76" height="12.07" fill="#2166ac"/>
<rect x="313.90" y="588.98" width="7.56" height="12.07" fill="#cf5246"/>
<rect x="320.66" y="588.98" width="7.56" height="12.07" fill="#f9c5ab"/>
<rect x="327.41" y="588.98" width="7.56" height="12.07" fill="#ee9777"/>
<rect x="334.17" y="588.98" width="7.56" height="12.07" fill="#dbeaf2"/>
<rect x="340.92" y="588.98" width="7.56" height="12.07" fill="#e27c62"/>
<rect x="347.68" y="588.98" width="7.56" height="12.07" fill="#ee9777"/>
<rect x="354.43" y="588.98" width="7.56" height="12.07" fill="#df755d"/>
<rect x="361.19" y="588.98" width="7.56" height="12.07" fill="#f8c0a4"/>
<rect x="367.94" y="588.98" width="7.56" height="12.07" fill="#fce1d1"/>
<rect x="374.70" y="588.98" width="7.56" height="12.07" fill="#b2182b"/>
<rect x="381.45" y="588.98" width="7.56" height="12.07" fill="#cf5246"/>
<rect x="388.21" y="588.98" width="7.56" height="12.07" fill="#b2182b"/>
<rect x="394.96" y="588.98" width="7.56" height="12.07" fill="#dc6e58"/>
<rect x="401.72" y="588.98" width="7.56" height="12.07" fill="#b2182b"/>
<rect x="408.48" y="588.98" width="7.56" height="12.07" fill="#cb4a43"/>
<rect x="415.23" y="588.98" width="7.56" height="12.07" fill="#f6b090"/>
<rect x="421.99" y="588.98" width="7.56" height="12.07" fill="#f8f4f2"/>
<rect x="428.74" y="588.98" width="7.56" height="12.07" fill="#fbe6da"/>
<rect x="435.50" y="588.98" width="7.56" height="12.07" fill="#fbe6da"/>
<rect x="442.25" y="588.98" width="7.56" height="12.07" fill="#f8c0a4"/>
<rect x="449.01" y="588.98" width="7.56" height="12.07" fill="#f8bb9e"/>
<rect x="455.76" y="588.98" width="7.56" height="12.07" fill="#fbe3d5"/>
<rect x="462.52" y="588.98" width="7.56" height="12.07" fill="#fbe3d5"/>
<rect x="469.27" y="588.98" width="7.56" height="12.07" fill="#fbd0b9"/>
<rect x="476.03" y="588.98" width="7.56" height="12.07" fill="#fce1d1"/>
<rect x="482.78" y="588.98" width="7.56" height="12.07" fill="#b2182b"/>
<rect x="489.54" y="588.98" width="7.56" height="12.07" fill="#c8e1ee"/>
<rect x="496.29" y="588.98" width="7.56" height="12.07" fill="#b2182b"/>
<rect x="503.05" y="588.98" width="7.56" height="12.07" fill="#f1f4f6"/>
<rect x="509.81" y="588.98" width="7.56" height="12.07" fill="#a0cce2"/>
<rect x="516.56" y="588.98" width="7.56" height="12.07" fill="#64a8ce"/>
<rect x="523.32" y="588.98" width="7.56" height="12.07" fill="#246aae"/>
<rect x="530.07" y="588.98" width="7.56" height="12.07" fill="#246aae"/>
<rect x="536.83" y="588.98" width="7.56" height="12.07" fill="#3a87bd"/>
<rect x="543.58" y="588.98" width="7.56" height="12.07" fill="#fbe6da"/>
<rect x="550.34" y="588.98" width="7.56" height="12.07" fill="#f7b597"/>
<rect x="557.09" y="588.98" width="7.56" height="12.07" fill="#90c4dd"/>
<rect x="563.85" y="588.98" width="7.56" height="12.07" fill="#246aae"/>
<rect x="570.60" y="588.98" width="7.56" height="12.07" fill="#eb9072"/>
<rect x="577.36" y="588.98" width="7.56" height="12.07" fill="#90c4dd"/>
<rect x="584.11" y="588.98" width="7.56" height="12.07" fill="#a0cce2"/>
<rect x="590.87" y="588.98" width="7.56" height="12.07" fill="#246aae"/>
<rect x="597.62" y="588.98" width="7.56" height="12.07" fill="#2166ac"/>
<rect x="604.38" y="588.98" width="7.56" height="12.07" fill="#ecf2f5"/>
<rect x="611.14" y="588.98" width="7.56" height="12.07" fill="#2166ac"/>
<rect x="617.89" y="588.98" width="7.56" height="12.07" fill="#2166ac"/>
<rect x="624.65" y="588.98" width="7.56" height="12.07" fill="#2166ac"/>
<rect x="631.40" y="588.98" width="7.56" height="12.07" fill="#90c4dd"/>
<rect x="638.16" y="588.98" width="7.56" height="12.07" fill="#2166ac"/>
<rect x="644.91" y="588.98" width="7.56" height="12.07" fill="#2166ac"/>
<rect x="651.67" y="588.98" width="7.56" height="12.07" fill="#b2182b"/>
<rect x="658.42" y="588.98" width="7.56" height="12.07" fill="#2166ac"/>
<rect x="665.18" y="588.98" width="7.56" height="12.07" fill="#2166ac"/>
<rect x="671.93" y="588.98" width="7.56" height="12.07" fill="#2166ac"/>
<rect x="678.69" y="588.98" width="7.56" height="12.07" fill="#2166ac"/>
<rect x="685.44" y="588.98" width="6.76" height="12.07" fill="#2166ac"/>
<rect x="313.90" y="600.25" width="7.56" height="12.07" fill="#ee9777"/>
<rect x="320.66" y="600.25" width="7.56" height="12.07" fill="#fbe6da"/>
<rect x="327.41" y="600.25" width="7.56" height="12.07" fill="#b2182b"/>
<rect x="334.17" y="600.25" width="7.56" height="12.07" fill="#b2182b"/>
<rect x="340.92" y="600.25" width="7.56" height="12.07" fill="#dc6e58"/>
<rect x="347.68" y="600.25" width="7.56" height="12.07" fill="#fddbc7"/>
<rect x="354.43" y="600.25" width="7.56" height="12.07" fill="#fbe3d5"/>
<rect x="361.19" y="600.25" width="7.56" height="12.07" fill="#eb9072"/>
<rect x="367.94" y="600.25" width="7.56" height="12.07" fill="#fce1d1"/>
<rect x="374.70" y="600.25" width="7.56" height="12.07" fill="#fce1d1"/>
<rect x="381.45" y="600.25" width="7.56" height="12.07" fill="#cb4a43"/>
<rect x="388.21" y="600.25" width="7.56" height="12.07" fill="#fce1d1"/>
<rect x="394.96" y="600.25" width="7.56" height="12.07" fill="#fce1d1"/>
<rect x="401.72" y="600.25" width="7.56" height="12.07" fill="#f4a582"/>
<rect x="408.48" y="600.25" width="7.56" height="12.07" fill="#dc6e58"/>
<rect x="415.23" y="600.25" width="7.56" height="12.07" fill="#fddbc7"/>
<rect x="421.99" y="600.25" width="7.56" height="12.07" fill="#cb4a43"/>
<rect x="428.74" y="600.25" width="7.56" height="12.07" fill="#f8bb9e"/>
<rect x="435.50" y="600.25" width="7.56" height="12.07" fill="#e58268"/>
<rect x="442.25" y="600.25" width="7.56" height="12.07" fill="#ee9777"/>
<rect x="449.01" y="600.25" width="7.56" height="12.07" fill="#dc6e58"/>
<rect x="455.76" y="600.25" width="7.56" height="12.07" fill="#f7b597"/>
<rect x="462.52" y="600.25" width="7.56" height="12.07" fill="#f9efe9"/>
<rect x="469.27" y="600.25" width="7.56" height="12.07" fill="#cb4a43"/>
<rect x="476.03" y="600.25" width="7.56" height="12.07" fill="#fce1d1"/>
<rect x="482.78" y="600.25" width="7.56" height="12.07" fill="#b2182b"/>
<rect x="489.54" y="600.25" width="7.56" height="12.07" fill="#b2182b"/>
<rect x="496.29" y="600.25" width="7.56" height="12.07" fill="#f4a582"/>
<rect x="503.05" y="600.25" width="7.56" height="12.07" fill="#98c8e0"/>
<rect x="509.81" y="600.25" width="7.56" height="12.07" fill="#d1e5f0"/>
<rect x="516.56" y="600.25" width="7.56" height="12.07" fill="#b2182b"/>
<rect x="523.32" y="600.25" width="7.56" height="12.07" fill="#fbd0b9"/>
<rect x="530.07" y="600.25" width="7.56" height="12.07" fill="#246aae"/>
<rect x="536.83" y="600.25" width="7.56" height="12.07" fill="#a0cce2"/>
<rect x="543.58" y="600.25" width="7.56" height="12.07" fill="#fddbc7"/>
<rect x="550.34" y="600.25" width="7.56" height="12.07" fill="#f6b090"/>
<rect x="557.09" y="600.25" width="7.56" height="12.07" fill="#b2182b"/>
<rect x="563.85" y="600.25" width="7.56" height="12.07" fill="#f8f1ed"/>
<rect x="570.60" y="600.25" width="7.56" height="12.07" fill="#b8d8e9"/>
<rect x="577.36" y="600.25" width="7.56" height="12.07" fill="#a0cce2"/>
<rect x="584.11" y="600.25" width="7.56" height="12.07" fill="#e1ecf3"/>
<rect x="590.87" y="600.25" width="7.56" height="12.07" fill="#246aae"/>
<rect x="597.62" y="600.25" width="7.56" height="12.07" fill="#b2182b"/>
<rect x="604.38" y="600.25" width="7.56" height="12.07" fill="#fae9df"/>
<rect x="611.14" y="600.25" width="7.56" height="12.07" fill="#2166ac"/>
<rect x="617.89" y="600.25" width="7.56" height="12.07" fill="#2166ac"/>
<rect x="624.65" y="600.25" width="7.56" height="12.07" fill="#2166ac"/>
<rect x="631.40" y="600.25" width="7.56" height="12.07" fill="#ecf2f5"/>
<rect x="638.16" y="600.25" width="7.56" height="12.07" fill="#2166ac"/>
<rect x="644.91" y="600.25" width="7.56" height="12.07" fill="#2166ac"/>
<rect x="651.67" y="600.25" width="7.56" height="12.07" fill="#2166ac"/>
<rect x="658.42" y="600.25" width="7.56" height="12.07" fill="#2166ac"/>
<rect x="665.18" y="600.25" width="7.56" height="12.07" fill="#2166ac"/>
<rect x="671.93" y="600.25" width="7.56" height="12.07" fill="#2166ac"/>
<rect x="678.69" y="600.25" width="7.56" height="12.07" fill="#2166ac"/>
<rect x="685.44" y="600.25" width="6.76" height="12.07" fill="#2166ac"/>
<rect x="313.90" y="611.52" width="7.56" height="12.07" fill="#f8f1ed"/>
<rect x="320.66" y="611.52" width="7.56" height="12.07" fill="#d6604d"/>
<rect x="327.41" y="611.52" width="7.56" height="12.07" fill="#b2182b"/>
<rect x="334.17" y="611.52" width="7.56" height="12.07" fill="#b2182b"/>
<rect x="340.92" y="611.52" width="7.56" height="12.07" fill="#fae9df"/>
<rect x="347.68" y="611.52" width="7.56" height="12.07" fill="#cf5246"/>
<rect x="354.43" y="611.52" width="7.56" height="12.07" fill="#eb9072"/>
<rect x="361.19" y="611.52" width="7.56" height="12.07" fill="#fddbc7"/>
<rect x="367.94" y="611.52" width="7.56" height="12.07" fill="#b2182b"/>
<rect x="374.70" y="611.52" width="7.56" height="12.07" fill="#90c4dd"/>
<rect x="381.45" y="611.52" width="7.56" height="12.07" fill="#c03539"/>
<rect x="388.21" y="611.52" width="7.56" height="12.07" fill="#f8c0a4"/>
<rect x="394.96" y="611.52" width="7.56" height="12.07" fill="#ee9777"/>
<rect x="401.72" y="611.52" width="7.56" height="12.07" fill="#f8c0a4"/>
<rect x="408.48" y="611.52" width="7.56" height="12.07" fill="#f9efe9"/>
<rect x="415.23" y="611.52" width="7.56" height="12.07" fill="#facbb2"/>
<rect x="421.99" y="611.52" width="7.56" height="12.07" fill="#f7f7f7"/>
<rect x="428.74" y="611.52" width="7.56" height="12.07" fill="#b2182b"/>
<rect x="435.50" y="611.52" width="7.56" height="12.07" fill="#b2182b"/>
<rect x="442.25" y="611.52" width="7.56" height="12.07" fill="#b2182b"/>
<rect x="449.01" y="611.52" width="7.56" height="12.07" fill="#b2182b"/>
<rect x="455.76" y="611.52" width="7.56" height="12.07" fill="#b2182b"/>
<rect x="462.52" y="611.52" width="7.56" height="12.07" fill="#facbb2"/>
<rect x="469.27" y="611.52" width="7.56" height="12.07" fill="#f8f4f2"/>
<rect x="476.03" y="611.52" width="7.56" height="12.07" fill="#f7b597"/>
<rect x="482.78" y="611.52" width="7.56" height="12.07" fill="#e58268"/>
<rect x="489.54" y="611.52" width="7.56" height="12.07" fill="#b2182b"/>
<rect x="496.29" y="611.52" width="7.56" height="12.07" fill="#fbe3d5"/>
<rect x="503.05" y="611.52" width="7.56" height="12.07" fill="#246aae"/>
<rect x="509.81" y="611.52" width="7.56" height="12.07" fill="#246aae"/>
<rect x="516.56" y="611.52" width="7.56" height="12.07" fill="#f1f4f6"/>
<rect x="523.32" y="611.52" width="7.56" height="12.07" fill="#246aae"/>
<rect x="530.07" y="611.52" width="7.56" height="12.07" fill="#246aae"/>
<rect x="536.83" y="611.52" width="7.56" height="12.07" fill="#246aae"/>
<rect x="543.58" y="611.52" width="7.56" height="12.07" fill="#c8e1ee"/>
<rect x="550.34" y="611.52" width="7.56" height="12.07" fill="#e1ecf3"/>
<rect x="557.09" y="611.52" width="7.56" height="12.07" fill="#ecf2f5"/>
<rect x="563.85" y="611.52" width="7.56" height="12.07" fill="#246aae"/>
<rect x="570.60" y="611.52" width="7.56" height="12.07" fill="#b2182b"/>
<rect x="577.36" y="611.52" width="7.56" height="12.07" fill="#246aae"/>
<rect x="584.11" y="611.52" width="7.56" height="12.07" fill="#e6eff4"/>
<rect x="590.87" y="611.52" width="7.56" height="12.07" fill="#246aae"/>
<rect x="597.62" y="611.52" width="7.56" height="12.07" fill="#2166ac"/>
<rect x="604.38" y="611.52" width="7.56" height="12.07" fill="#2166ac"/>
<rect x="611.14" y="611.52" width="7.56" height="12.07" fill="#2166ac"/>
<rect x="617.89" y="611.52" width="7.56" height="12.07" fill="#2166ac"/>
<rect x="624.65" y="611.52" width="7.56" height="12.07" fill="#2166ac"/>
<rect x="631.40" y="611.52" width="7.56" height="12.07" fill="#ecf2f5"/>
<rect x="638.16" y="611.52" width="7.56" height="12.07" fill="#2166ac"/>
<rect x="644.91" y="611.52" width="7.56" height="12.07" fill="#2166ac"/>
<rect x="651.67" y="611.52" width="7.56" height="12.07" fill="#2166ac"/>
<rect x="658.42" y="611.52" width="7.56" height="12.07" fill="#2166ac"/>
<rect x="665.18" y="611.52" width="7.56" height="12.07" fill="#2166ac"/>
<rect x="671.93" y="611.52" width="7.56" height="12.07" fill="#2166ac"/>
<rect x="678.69" y="611.52" width="7.56" height="12.07" fill="#2166ac"/>
<rect x="685.44" y="611.52" width="6.76" height="12.07" fill="#2166ac"/>
<rect x="313.90" y="622.79" width="7.56" height="12.07" fill="#fbe6da"/>
<rect x="320.66" y="622.79" width="7.56" height="12.07" fill="#fbe3d5"/>
<rect x="327.41" y="622.79" width="7.56" height="12.07" fill="#f6b090"/>
<rect x="334.17" y="622.79" width="7.56" height="12.07" fill="#b2182b"/>
<rect x="340.92" y="622.79" width="7.56" height="12.07" fill="#dc6e58"/>
<rect x="347.68" y="622.79" width="7.56" height="12.07" fill="#f4a582"/>
<rect x="354.43" y="622.79" width="7.56" height="12.07" fill="#f7b597"/>
<rect x="361.19" y="622.79" width="7.56" height="12.07" fill="#fce1d1"/>
<rect x="367.94" y="622.79" width="7.56" height="12.07" fill="#e6eff4"/>
<rect x="374.70" y="622.79" width="7.56" height="12.07" fill="#f8bb9e"/>
<rect x="381.45" y="622.79" width="7.56" height="12.07" fill="#e6eff4"/>
<rect x="388.21" y="622.79" width="7.56" height="12.07" fill="#f9efe9"/>
<rect x="394.96" y="622.79" width="7.56" height="12.07" fill="#f8f1ed"/>
<rect x="401.72" y="622.79" width="7.56" height="12.07" fill="#cb4a43"/>
<rect x="408.48" y="622.79" width="7.56" height="12.07" fill="#f7f7f7"/>
<rect x="415.23" y="622.79" width="7.56" height="12.07" fill="#f8c0a4"/>
<rect x="421.99" y="622.79" width="7.56" height="12.07" fill="#b2182b"/>
<rect x="428.74" y="622.79" width="7.56" height="12.07" fill="#e1ecf3"/>
<rect x="435.50" y="622.79" width="7.56" height="12.07" fill="#c8e1ee"/>
<rect x="442.25" y="622.79" width="7.56" height="12.07" fill="#f8f1ed"/>
<rect x="449.01" y="622.79" width="7.56" height="12.07" fill="#90c4dd"/>
<rect x="455.76" y="622.79" width="7.56" height="12.07" fill="#7eb8d7"/>
<rect x="462.52" y="622.79" width="7.56" height="12.07" fill="#f8bb9e"/>
<rect x="469.27" y="622.79" width="7.56" height="12.07" fill="#e1ecf3"/>
<rect x="476.03" y="622.79" width="7.56" height="12.07" fill="#f9ece4"/>
<rect x="482.78" y="622.79" width="7.56" height="12.07" fill="#dbeaf2"/>
<rect x="489.54" y="622.79" width="7.56" height="12.07" fill="#408fc1"/>
<rect x="496.29" y="622.79" width="7.56" height="12.07" fill="#ecf2f5"/>
<rect x="503.05" y="622.79" width="7.56" height="12.07" fill="#b2182b"/>
<rect x="509.81" y="622.79" width="7.56" height="12.07" fill="#b2182b"/>
<rect x="516.56" y="622.79" width="7.56" height="12.07" fill="#fbd0b9"/>
<rect x="523.32" y="622.79" width="7.56" height="12.07" fill="#b2182b"/>
<rect x="530.07" y="622.79" width="7.56" height="12.07" fill="#3a87bd"/>
<rect x="536.83" y="622.79" width="7.56" height="12.07" fill="#dbeaf2"/>
<rect x="543.58" y="622.79" width="7.56" height="12.07" fill="#a0cce2"/>
<rect x="550.34" y="622.79" width="7.56" height="12.07" fill="#fae9df"/>
<rect x="557.09" y="622.79" width="7.56" height="12.07" fill="#fae9df"/>
<rect x="563.85" y="622.79" width="7.56" height="12.07" fill="#3a87bd"/>
<rect x="570.60" y="622.79" width="7.56" height="12.07" fill="#ecf2f5"/>
<rect x="577.36" y="622.79" width="7.56" height="12.07" fill="#3a87bd"/>
<rect x="584.11" y="622.79" width="7.56" height="12.07" fill="#3a87bd"/>
<rect x="590.87" y="622.79" width="7.56" height="12.07" fill="#3a87bd"/>
<rect x="597.62" y="622.79" width="7.56" height="12.07" fill="#b2182b"/>
<rect x="604.38" y="622.79" width="7.56" height="12.07" fill="#3784bb"/>
<rect x="611.14" y="622.79" width="7.56" height="12.07" fill="#3784bb"/>
<rect x="617.89" y="622.79" width="7.56" height="12.07" fill="#3784bb"/>
<rect x="624.65" y="622.79" width="7.56" height="12.07" fill="#3784bb"/>
<rect x="631.40" y="622.79" width="7.56" height="12.07" fill="#3784bb"/>
<rect x="638.16" y="622.79" width="7.56" height="12.07" fill="#3784bb"/>
<rect x="644.91" y="622.79" width="7.56" height="12.07" fill="#3784bb"/>
<rect x="651.67" y="622.79" width="7.56" height="12.07" fill="#3784bb"/>
<rect x="658.42" y="622.79" width="7.56" height="12.07" fill="#3784bb"/>
<rect x="665.18" y="622.79" width="7.56" height="12.07" fill="#3784bb"/>
<rect x="671.93" y="622.79" width="7.56" height="12.07" fill="#3784bb"/>
<rect x="678.69" y="622.79" width="7.56" height="12.07" fill="#3784bb"/>
<rect x="685.44" y="622.79" width="6.76" height="12.07" fill="#3784bb"/>
<rect x="313.90" y="634.06" width="7.56" height="12.07" fill="#b2182b"/>
<rect x="320.66" y="634.06" width="7.56" height="12.07" fill="#b2182b"/>
<rect x="327.41" y="634.06" width="7.56" height="12.07" fill="#b2182b"/>
<rect x="334.17" y="634.06" width="7.56" height="12.07" fill="#b2182b"/>
<rect x="340.92" y="634.06" width="7.56" height="12.07" fill="#b2182b"/>
<rect x="347.68" y="634.06" width="7.56" height="12.07" fill="#b2182b"/>
<rect x="354.43" y="634.06" width="7.56" height="12.07" fill="#b2182b"/>
<rect x="361.19" y="634.06" width="7.56" height="12.07" fill="#fce1d1"/>
<rect x="367.94" y="634.06" width="7.56" height="12.07" fill="#b92632"/>
<rect x="374.70" y="634.06" width="7.56" height="12.07" fill="#fddbc7"/>
<rect x="381.45" y="634.06" width="7.56" height="12.07" fill="#ee9777"/>
<rect x="388.21" y="634.06" width="7.56" height="12.07" fill="#f8f4f2"/>
<rect x="394.96" y="634.06" width="7.56" height="12.07" fill="#cb4a43"/>
<rect x="401.72" y="634.06" width="7.56" height="12.07" fill="#cb4a43"/>
<rect x="408.48" y="634.06" width="7.56" height="12.07" fill="#f1f4f6"/>
<rect x="415.23" y="634.06" width="7.56" height="12.07" fill="#fce1d1"/>
<rect x="421.99" y="634.06" width="7.56" height="12.07" fill="#c43c3c"/>
<rect x="428.74" y="634.06" width="7.56" height="12.07" fill="#e58268"/>
<rect x="435.50" y="634.06" width="7.56" height="12.07" fill="#f7b597"/>
<rect x="442.25" y="634.06" width="7.56" height="12.07" fill="#f1f4f6"/>
<rect x="449.01" y="634.06" width="7.56" height="12.07" fill="#e1ecf3"/>
<rect x="455.76" y="634.06" width="7.56" height="12.07" fill="#fbe6da"/>
<rect x="462.52" y="634.06" width="7.56" height="12.07" fill="#f8bb9e"/>
<rect x="469.27" y="634.06" width="7.56" height="12.07" fill="#e1ecf3"/>
<rect x="476.03" y="634.06" width="7.56" height="12.07" fill="#e1ecf3"/>
<rect x="482.78" y="634.06" width="7.56" height="12.07" fill="#d6604d"/>
<rect x="489.54" y="634.06" width="7.56" height="12.07" fill="#fae9df"/>
<rect x="496.29" y="634.06" width="7.56" height="12.07" fill="#c43c3c"/>
<rect x="503.05" y="634.06" width="7.56" height="12.07" fill="#246aae"/>
<rect x="509.81" y="634.06" width="7.56" height="12.07" fill="#246aae"/>
<rect x="516.56" y="634.06" width="7.56" height="12.07" fill="#d6e7f1"/>
<rect x="523.32" y="634.06" width="7.56" height="12.07" fill="#75b3d4"/>
<rect x="530.07" y="634.06" width="7.56" height="12.07" fill="#64a8ce"/>
<rect x="536.83" y="634.06" width="7.56" height="12.07" fill="#408fc1"/>
<rect x="543.58" y="634.06" width="7.56" height="12.07" fill="#e1ecf3"/>
<rect x="550.34" y="634.06" width="7.56" height="12.07" fill="#e1ecf3"/>
<rect x="557.09" y="634.06" width="7.56" height="12.07" fill="#ecf2f5"/>
<rect x="563.85" y="634.06" width="7.56" height="12.07" fill="#d6e7f1"/>
<rect x="570.60" y="634.06" width="7.56" height="12.07" fill="#87beda"/>
<rect x="577.36" y="634.06" width="7.56" height="12.07" fill="#e1ecf3"/>
<rect x="584.11" y="634.06" width="7.56" height="12.07" fill="#e1ecf3"/>
<rect x="590.87" y="634.06" width="7.56" height="12.07" fill="#246aae"/>
<rect x="597.62" y="634.06" width="7.56" height="12.07" fill="#2970b1"/>
<rect x="604.38" y="634.06" width="7.56" height="12.07" fill="#2d76b4"/>
<rect x="611.14" y="634.06" width="7.56" height="12.07" fill="#2166ac"/>
<rect x="617.89" y="634.06" width="7.56" height="12.07" fill="#2166ac"/>
<rect x="624.65" y="634.06" width="7.56" height="12.07" fill="#98c8e0"/>
<rect x="631.40" y="634.06" width="7.56" height="12.07" fill="#3784bb"/>
<rect x="638.16" y="634.06" width="7.56" height="12.07" fill="#ecf2f5"/>
<rect x="644.91" y="634.06" width="7.56" height="12.07" fill="#2166ac"/>
<rect x="651.67" y="634.06" width="7.56" height="12.07" fill="#90c4dd"/>
<rect x="658.42" y="634.06" width="7.56" height="12.07" fill="#2166ac"/>
<rect x="665.18" y="634.06" width="7.56" height="12.07" fill="#90c4dd"/>
<rect x="671.93" y="634.06" width="7.56" height="12.07" fill="#327cb8"/>
<rect x="678.69" y="634.06" width="7.56" height="12.07" fill="#2970b1"/>
<rect x="685.44" y="634.06" width="6.76" height="12.07" fill="#dbeaf2"/>
<rect x="313.90" y="645.33" width="7.56" height="12.07" fill="#b2182b"/>
<rect x="320.66" y="645.33" width="7.56" height="12.07" fill="#b2182b"/>
<rect x="327.41" y="645.33" width="7.56" height="12.07" fill="#b2182b"/>
<rect x="334.17" y="645.33" width="7.56" height="12.07" fill="#b2182b"/>
<rect x="340.92" y="645.33" width="7.56" height="12.07" fill="#b2182b"/>
<rect x="347.68" y="645.33" width="7.56" height="12.07" fill="#f7b597"/>
<rect x="354.43" y="645.33" width="7.56" height="12.07" fill="#f8f4f2"/>
<rect x="361.19" y="645.33" width="7.56" height="12.07" fill="#f8f4f2"/>
<rect x="367.94" y="645.33" width="7.56" height="12.07" fill="#e6eff4"/>
<rect x="374.70" y="645.33" width="7.56" height="12.07" fill="#f1f4f6"/>
<rect x="381.45" y="645.33" width="7.56" height="12.07" fill="#dbeaf2"/>
<rect x="388.21" y="645.33" width="7.56" height="12.07" fill="#f1f4f6"/>
<rect x="394.96" y="645.33" width="7.56" height="12.07" fill="#e1ecf3"/>
<rect x="401.72" y="645.33" width="7.56" height="12.07" fill="#f1f4f6"/>
<rect x="408.48" y="645.33" width="7.56" height="12.07" fill="#c8e1ee"/>
<rect x="415.23" y="645.33" width="7.56" height="12.07" fill="#dbeaf2"/>
<rect x="421.99" y="645.33" width="7.56" height="12.07" fill="#ecf2f5"/>
<rect x="428.74" y="645.33" width="7.56" height="12.07" fill="#f1f4f6"/>
<rect x="435.50" y="645.33" width="7.56" height="12.07" fill="#e1ecf3"/>
<rect x="442.25" y="645.33" width="7.56" height="12.07" fill="#d6e7f1"/>
<rect x="449.01" y="645.33" width="7.56" height="12.07" fill="#d6e7f1"/>
<rect x="455.76" y="645.33" width="7.56" height="12.07" fill="#c0dceb"/>
<rect x="462.52" y="645.33" width="7.56" height="12.07" fill="#f8f4f2"/>
<rect x="469.27" y="645.33" width="7.56" height="12.07" fill="#c0dceb"/>
<rect x="476.03" y="645.33" width="7.56" height="12.07" fill="#c0dceb"/>
<rect x="482.78" y="645.33" width="7.56" height="12.07" fill="#dbeaf2"/>
<rect x="489.54" y="645.33" width="7.56" height="12.07" fill="#c0dceb"/>
<rect x="496.29" y="645.33" width="7.56" height="12.07" fill="#d1e5f0"/>
<rect x="503.05" y="645.33" width="7.56" height="12.07" fill="#d6e7f1"/>
<rect x="509.81" y="645.33" width="7.56" height="12.07" fill="#b8d8e9"/>
<rect x="516.56" y="645.33" width="7.56" height="12.07" fill="#b0d4e6"/>
<rect x="523.32" y="645.33" width="7.56" height="12.07" fill="#b0d4e6"/>
<rect x="530.07" y="645.33" width="7.56" height="12.07" fill="#b0d4e6"/>
<rect x="536.83" y="645.33" width="7.56" height="12.07" fill="#c0dceb"/>
<rect x="543.58" y="645.33" width="7.56" height="12.07" fill="#b0d4e6"/>
<rect x="550.34" y="645.33" width="7.56" height="12.07" fill="#b0d4e6"/>
<rect x="557.09" y="645.33" width="7.56" height="12.07" fill="#b0d4e6"/>
<rect x="563.85" y="645.33" width="7.56" height="12.07" fill="#b0d4e6"/>
<rect x="570.60" y="645.33" width="7.56" height="12.07" fill="#b0d4e6"/>
<rect x="577.36" y="645.33" width="7.56" height="12.07" fill="#c0dceb"/>
<rect x="584.11" y="645.33" width="7.56" height="12.07" fill="#b0d4e6"/>
<rect x="590.87" y="645.33" width="7.56" height="12.07" fill="#b0d4e6"/>
<rect x="597.62" y="645.33" width="7.56" height="12.07" fill="#b8d8e9"/>
<rect x="604.38" y="645.33" width="7.56" height="12.07" fill="#b8d8e9"/>
<rect x="611.14" y="645.33" width="7.56" height="12.07" fill="#c8e1ee"/>
<rect x="617.89" y="645.33" width="7.56" height="12.07" fill="#b8d8e9"/>
<rect x="624.65" y="645.33" width="7.56" height="12.07" fill="#b8d8e9"/>
<rect x="631.40" y="645.33" width="7.56" height="12.07" fill="#b8d8e9"/>
<rect x="638.16" y="645.33" width="7.56" height="12.07" fill="#a8d0e4"/>
<rect x="644.91" y="645.33" width="7.56" height="12.07" fill="#a8d0e4"/>
<rect x="651.67" y="645.33" width="7.56" height="12.07" fill="#a8d0e4"/>
<rect x="658.42" y="645.33" width="7.56" height="12.07" fill="#b0d4e6"/>
<rect x="665.18" y="645.33" width="7.56" height="12.07" fill="#c8e1ee"/>
<rect x="671.93" y="645.33" width="7.56" height="12.07" fill="#b8d8e9"/>
<rect x="678.69" y="645.33" width="7.56" height="12.07" fill="#b0d4e6"/>
<rect x="685.44" y="645.33" width="6.76" height="12.07" fill="#b0d4e6"/>
<rect x="313.90" y="656.60" width="7.56" height="12.07" fill="#b2182b"/>
<rect x="320.66" y="656.60" width="7.56" height="12.07" fill="#b2182b"/>
<rect x="327.41" y="656.60" width="7.56" height="12.07" fill="#b2182b"/>
<rect x="334.17" y="656.60" width="7.56" height="12.07" fill="#b2182b"/>
<rect x="340.92" y="656.60" width="7.56" height="12.07" fill="#b2182b"/>
<rect x="347.68" y="656.60" width="7.56" height="12.07" fill="#b2182b"/>
<rect x="354.43" y="656.60" width="7.56" height="12.07" fill="#cb4a43"/>
<rect x="361.19" y="656.60" width="7.56" height="12.07" fill="#dc6e58"/>
<rect x="367.94" y="656.60" width="7.56" height="12.07" fill="#f6b090"/>
<rect x="374.70" y="656.60" width="7.56" height="12.07" fill="#b2182b"/>
<rect x="381.45" y="656.60" width="7.56" height="12.07" fill="#b92632"/>
<rect x="388.21" y="656.60" width="7.56" height="12.07" fill="#d6604d"/>
<rect x="394.96" y="656.60" width="7.56" height="12.07" fill="#f8c0a4"/>
<rect x="401.72" y="656.60" width="7.56" height="12.07" fill="#e27c62"/>
<rect x="408.48" y="656.60" width="7.56" height="12.07" fill="#cf5246"/>
<rect x="415.23" y="656.60" width="7.56" height="12.07" fill="#ecf2f5"/>
<rect x="421.99" y="656.60" width="7.56" height="12.07" fill="#dbeaf2"/>
<rect x="428.74" y="656.60" width="7.56" height="12.07" fill="#fce1d1"/>
<rect x="435.50" y="656.60" width="7.56" height="12.07" fill="#f8bb9e"/>
<rect x="442.25" y="656.60" width="7.56" height="12.07" fill="#e1ecf3"/>
<rect x="449.01" y="656.60" width="7.56" height="12.07" fill="#f8f4f2"/>
<rect x="455.76" y="656.60" width="7.56" height="12.07" fill="#dbeaf2"/>
<rect x="462.52" y="656.60" width="7.56" height="12.07" fill="#f4a582"/>
<rect x="469.27" y="656.60" width="7.56" height="12.07" fill="#7eb8d7"/>
<rect x="476.03" y="656.60" width="7.56" height="12.07" fill="#e6eff4"/>
<rect x="482.78" y="656.60" width="7.56" height="12.07" fill="#c0dceb"/>
<rect x="489.54" y="656.60" width="7.56" height="12.07" fill="#c0dceb"/>
<rect x="496.29" y="656.60" width="7.56" height="12.07" fill="#a0cce2"/>
<rect x="503.05" y="656.60" width="7.56" height="12.07" fill="#f1f4f6"/>
<rect x="509.81" y="656.60" width="7.56" height="12.07" fill="#e6eff4"/>
<rect x="516.56" y="656.60" width="7.56" height="12.07" fill="#b0d4e6"/>
<rect x="523.32" y="656.60" width="7.56" height="12.07" fill="#98c8e0"/>
<rect x="530.07" y="656.60" width="7.56" height="12.07" fill="#3a87bd"/>
<rect x="536.83" y="656.60" width="7.56" height="12.07" fill="#64a8ce"/>
<rect x="543.58" y="656.60" width="7.56" height="12.07" fill="#75b3d4"/>
<rect x="550.34" y="656.60" width="7.56" height="12.07" fill="#90c4dd"/>
<rect x="557.09" y="656.60" width="7.56" height="12.07" fill="#3a87bd"/>
<rect x="563.85" y="656.60" width="7.56" height="12.07" fill="#408fc1"/>
<rect x="570.60" y="656.60" width="7.56" height="12.07" fill="#a8d0e4"/>
<rect x="577.36" y="656.60" width="7.56" height="12.07" fill="#75b3d4"/>
<rect x="584.11" y="656.60" width="7.56" height="12.07" fill="#64a8ce"/>
<rect x="590.87" y="656.60" width="7.56" height="12.07" fill="#408fc1"/>
<rect x="597.62" y="656.60" width="7.56" height="12.07" fill="#3a87bd"/>
<rect x="604.38" y="656.60" width="7.56" height="12.07" fill="#4c98c6"/>
<rect x="611.14" y="656.60" width="7.56" height="12.07" fill="#3a87bd"/>
<rect x="617.89" y="656.60" width="7.56" height="12.07" fill="#327cb8"/>
<rect x="624.65" y="656.60" width="7.56" height="12.07" fill="#3784bb"/>
<rect x="631.40" y="656.60" width="7.56" height="12.07" fill="#3784bb"/>
<rect x="638.16" y="656.60" width="7.56" height="12.07" fill="#3784bb"/>
<rect x="644.91" y="656.60" width="7.56" height="12.07" fill="#327cb8"/>
<rect x="651.67" y="656.60" width="7.56" height="12.07" fill="#3784bb"/>
<rect x="658.42" y="656.60" width="7.56" height="12.07" fill="#3784bb"/>
<rect x="665.18" y="656.60" width="7.56" height="12.07" fill="#3784bb"/>
<rect x="671.93" y="656.60" width="7.56" height="12.07" fill="#3a87bd"/>
<rect x="678.69" y="656.60" width="7.56" height="12.07" fill="#3580b9"/>
<rect x="685.44" y="656.60" width="6.76" height="12.07" fill="#90c4dd"/>
<rect x="313.90" y="667.87" width="7.56" height="12.07" fill="#b2182b"/>
<rect x="320.66" y="667.87" width="7.56" height="12.07" fill="#b2182b"/>
<rect x="327.41" y="667.87" width="7.56" height="12.07" fill="#b2182b"/>
<rect x="334.17" y="667.87" width="7.56" height="12.07" fill="#b2182b"/>
<rect x="340.92" y="667.87" width="7.56" height="12.07" fill="#b2182b"/>
<rect x="347.68" y="667.87" width="7.56" height="12.07" fill="#b2182b"/>
<rect x="354.43" y="667.87" width="7.56" height="12.07" fill="#b92632"/>
<rect x="361.19" y="667.87" width="7.56" height="12.07" fill="#fae9df"/>
<rect x="367.94" y="667.87" width="7.56" height="12.07" fill="#f4a582"/>
<rect x="374.70" y="667.87" width="7.56" height="12.07" fill="#b2182b"/>
<rect x="381.45" y="667.87" width="7.56" height="12.07" fill="#f8c0a4"/>
<rect x="388.21" y="667.87" width="7.56" height="12.07" fill="#e1ecf3"/>
<rect x="394.96" y="667.87" width="7.56" height="12.07" fill="#f4a582"/>
<rect x="401.72" y="667.87" width="7.56" height="12.07" fill="#fbe6da"/>
<rect x="408.48" y="667.87" width="7.56" height="12.07" fill="#f4a582"/>
<rect x="415.23" y="667.87" width="7.56" height="12.07" fill="#fae9df"/>
<rect x="421.99" y="667.87" width="7.56" height="12.07" fill="#fbe3d5"/>
<rect x="428.74" y="667.87" width="7.56" height="12.07" fill="#fcdecc"/>
<rect x="435.50" y="667.87" width="7.56" height="12.07" fill="#fbe6da"/>
<rect x="442.25" y="667.87" width="7.56" height="12.07" fill="#d6e7f1"/>
<rect x="449.01" y="667.87" width="7.56" height="12.07" fill="#c8e1ee"/>
<rect x="455.76" y="667.87" width="7.56" height="12.07" fill="#539dc9"/>
<rect x="462.52" y="667.87" width="7.56" height="12.07" fill="#f8f4f2"/>
<rect x="469.27" y="667.87" width="7.56" height="12.07" fill="#c8e1ee"/>
<rect x="476.03" y="667.87" width="7.56" height="12.07" fill="#b8d8e9"/>
<rect x="482.78" y="667.87" width="7.56" height="12.07" fill="#f8f4f2"/>
<rect x="489.54" y="667.87" width="7.56" height="12.07" fill="#fcdecc"/>
<rect x="496.29" y="667.87" width="7.56" height="12.07" fill="#f1f4f6"/>
<rect x="503.05" y="667.87" width="7.56" height="12.07" fill="#b0d4e6"/>
<rect x="509.81" y="667.87" width="7.56" height="12.07" fill="#b0d4e6"/>
<rect x="516.56" y="667.87" width="7.56" height="12.07" fill="#a8d0e4"/>
<rect x="523.32" y="667.87" width="7.56" height="12.07" fill="#a8d0e4"/>
<rect x="530.07" y="667.87" width="7.56" height="12.07" fill="#90c4dd"/>
<rect x="536.83" y="667.87" width="7.56" height="12.07" fill="#f1f4f6"/>
<rect x="543.58" y="667.87" width="7.56" height="12.07" fill="#c8e1ee"/>
<rect x="550.34" y="667.87" width="7.56" height="12.07" fill="#a8d0e4"/>
<rect x="557.09" y="667.87" width="7.56" height="12.07" fill="#d1e5f0"/>
<rect x="563.85" y="667.87" width="7.56" height="12.07" fill="#a8d0e4"/>
<rect x="570.60" y="667.87" width="7.56" height="12.07" fill="#a8d0e4"/>
<rect x="577.36" y="667.87" width="7.56" height="12.07" fill="#4494c3"/>
<rect x="584.11" y="667.87" width="7.56" height="12.07" fill="#4494c3"/>
<rect x="590.87" y="667.87" width="7.56" height="12.07" fill="#75b3d4"/>
<rect x="597.62" y="667.87" width="7.56" height="12.07" fill="#3a87bd"/>
<rect x="604.38" y="667.87" width="7.56" height="12.07" fill="#3a87bd"/>
<rect x="611.14" y="667.87" width="7.56" height="12.07" fill="#3580b9"/>
<rect x="617.89" y="667.87" width="7.56" height="12.07" fill="#3d8bbf"/>
<rect x="624.65" y="667.87" width="7.56" height="12.07" fill="#3d8bbf"/>
<rect x="631.40" y="667.87" width="7.56" height="12.07" fill="#64a8ce"/>
<rect x="638.16" y="667.87" width="7.56" height="12.07" fill="#dbeaf2"/>
<rect x="644.91" y="667.87" width="7.56" height="12.07" fill="#2166ac"/>
<rect x="651.67" y="667.87" width="7.56" height="12.07" fill="#3d8bbf"/>
<rect x="658.42" y="667.87" width="7.56" height="12.07" fill="#2166ac"/>
<rect x="665.18" y="667.87" width="7.56" height="12.07" fill="#246aae"/>
<rect x="671.93" y="667.87" width="7.56" height="12.07" fill="#3d8bbf"/>
<rect x="678.69" y="667.87" width="7.56" height="12.07" fill="#2166ac"/>
<rect x="685.44" y="667.87" width="6.76" height="12.07" fill="#90c4dd"/>
<rect x="313.90" y="679.14" width="7.56" height="12.07" fill="#b2182b"/>
<rect x="320.66" y="679.14" width="7.56" height="12.07" fill="#b2182b"/>
<rect x="327.41" y="679.14" width="7.56" height="12.07" fill="#b2182b"/>
<rect x="334.17" y="679.14" width="7.56" height="12.07" fill="#b2182b"/>
<rect x="340.92" y="679.14" width="7.56" height="12.07" fill="#b2182b"/>
<rect x="347.68" y="679.14" width="7.56" height="12.07" fill="#b2182b"/>
<rect x="354.43" y="679.14" width="7.56" height="12.07" fill="#eb9072"/>
<rect x="361.19" y="679.14" width="7.56" height="12.07" fill="#f9c5ab"/>
<rect x="367.94" y="679.14" width="7.56" height="12.07" fill="#b2182b"/>
<rect x="374.70" y="679.14" width="7.56" height="12.07" fill="#c43c3c"/>
<rect x="381.45" y="679.14" width="7.56" height="12.07" fill="#f4a582"/>
<rect x="388.21" y="679.14" width="7.56" height="12.07" fill="#fddbc7"/>
<rect x="394.96" y="679.14" width="7.56" height="12.07" fill="#facbb2"/>
<rect x="401.72" y="679.14" width="7.56" height="12.07" fill="#fbd0b9"/>
<rect x="408.48" y="679.14" width="7.56" height="12.07" fill="#ecf2f5"/>
<rect x="415.23" y="679.14" width="7.56" height="12.07" fill="#dbeaf2"/>
<rect x="421.99" y="679.14" width="7.56" height="12.07" fill="#ecf2f5"/>
<rect x="428.74" y="679.14" width="7.56" height="12.07" fill="#facbb2"/>
<rect x="435.50" y="679.14" width="7.56" height="12.07" fill="#fcd6c0"/>
<rect x="442.25" y="679.14" width="7.56" height="12.07" fill="#a8d0e4"/>
<rect x="449.01" y="679.14" width="7.56" height="12.07" fill="#e1ecf3"/>
<rect x="455.76" y="679.14" width="7.56" height="12.07" fill="#c8e1ee"/>
<rect x="462.52" y="679.14" width="7.56" height="12.07" fill="#f9ece4"/>
<rect x="469.27" y="679.14" width="7.56" height="12.07" fill="#b8d8e9"/>
<rect x="476.03" y="679.14" width="7.56" height="12.07" fill="#d6e7f1"/>
<rect x="482.78" y="679.14" width="7.56" height="12.07" fill="#90c4dd"/>
<rect x="489.54" y="679.14" width="7.56" height="12.07" fill="#b8d8e9"/>
<rect x="496.29" y="679.14" width="7.56" height="12.07" fill="#a8d0e4"/>
<rect x="503.05" y="679.14" width="7.56" height="12.07" fill="#90c4dd"/>
<rect x="509.81" y="679.14" width="7.56" height="12.07" fill="#90c4dd"/>
<rect x="516.56" y="679.14" width="7.56" height="12.07" fill="#b8d8e9"/>
<rect x="523.32" y="679.14" width="7.56" height="12.07" fill="#d1e5f0"/>
<rect x="530.07" y="679.14" width="7.56" height="12.07" fill="#3a87bd"/>
<rect x="536.83" y="679.14" width="7.56" height="12.07" fill="#b8d8e9"/>
<rect x="543.58" y="679.14" width="7.56" height="12.07" fill="#b8d8e9"/>
<rect x="550.34" y="679.14" width="7.56" height="12.07" fill="#a8d0e4"/>
<rect x="557.09" y="679.14" width="7.56" height="12.07" fill="#87beda"/>
<rect x="563.85" y="679.14" width="7.56" height="12.07" fill="#75b3d4"/>
<rect x="570.60" y="679.14" width="7.56" height="12.07" fill="#a8d0e4"/>
<rect x="577.36" y="679.14" width="7.56" height="12.07" fill="#b8d8e9"/>
<rect x="584.11" y="679.14" width="7.56" height="12.07" fill="#a8d0e4"/>
<rect x="590.87" y="679.14" width="7.56" height="12.07" fill="#3d8bbf"/>
<rect x="597.62" y="679.14" width="7.56" height="12.07" fill="#b8d8e9"/>
<rect x="604.38" y="679.14" width="7.56" height="12.07" fill="#7eb8d7"/>
<rect x="611.14" y="679.14" width="7.56" height="12.07" fill="#3a87bd"/>
<rect x="617.89" y="679.14" width="7.56" height="12.07" fill="#3a87bd"/>
<rect x="624.65" y="679.14" width="7.56" height="12.07" fill="#e1ecf3"/>
<rect x="631.40" y="679.14" width="7.56" height="12.07" fill="#64a8ce"/>
<rect x="638.16" y="679.14" width="7.56" height="12.07" fill="#3a87bd"/>
<rect x="644.91" y="679.14" width="7.56" height="12.07" fill="#3a87bd"/>
<rect x="651.67" y="679.14" width="7.56" height="12.07" fill="#3a87bd"/>
<rect x="658.42" y="679.14" width="7.56" height="12.07" fill="#3a87bd"/>
<rect x="665.18" y="679.14" width="7.56" height="12.07" fill="#3a87bd"/>
<rect x="671.93" y="679.14" width="7.56" height="12.07" fill="#3a87bd"/>
<rect x="678.69" y="679.14" width="7.56" height="12.07" fill="#3a87bd"/>
<rect x="685.44" y="679.14" width="6.76" height="12.07" fill="#90c4dd"/>
<rect x="313.90" y="690.41" width="7.56" height="12.07" fill="#eb9072"/>
<rect x="320.66" y="690.41" width="7.56" height="12.07" fill="#b2182b"/>
<rect x="327.41" y="690.41" width="7.56" height="12.07" fill="#b2182b"/>
<rect x="334.17" y="690.41" width="7.56" height="12.07" fill="#f9c5ab"/>
<rect x="340.92" y="690.41" width="7.56" height="12.07" fill="#b2182b"/>
<rect x="347.68" y="690.41" width="7.56" height="12.07" fill="#c43c3c"/>
<rect x="354.43" y="690.41" width="7.56" height="12.07" fill="#b2182b"/>
<rect x="361.19" y="690.41" width="7.56" height="12.07" fill="#cf5246"/>
<rect x="367.94" y="690.41" width="7.56" height="12.07" fill="#b2182b"/>
<rect x="374.70" y="690.41" width="7.56" height="12.07" fill="#b2182b"/>
<rect x="381.45" y="690.41" width="7.56" height="12.07" fill="#fbe3d5"/>
<rect x="388.21" y="690.41" width="7.56" height="12.07" fill="#fbe3d5"/>
<rect x="394.96" y="690.41" width="7.56" height="12.07" fill="#b2182b"/>
<rect x="401.72" y="690.41" width="7.56" height="12.07" fill="#b2182b"/>
<rect x="408.48" y="690.41" width="7.56" height="12.07" fill="#d6604d"/>
<rect x="415.23" y="690.41" width="7.56" height="12.07" fill="#e58268"/>
<rect x="421.99" y="690.41" width="7.56" height="12.07" fill="#c03539"/>
<rect x="428.74" y="690.41" width="7.56" height="12.07" fill="#b92632"/>
<rect x="435.50" y="690.41" width="7.56" height="12.07" fill="#f6b090"/>
<rect x="442.25" y="690.41" width="7.56" height="12.07" fill="#e58268"/>
<rect x="449.01" y="690.41" width="7.56" height="12.07" fill="#c03539"/>
<rect x="455.76" y="690.41" width="7.56" height="12.07" fill="#c0dceb"/>
<rect x="462.52" y="690.41" width="7.56" height="12.07" fill="#fce1d1"/>
<rect x="469.27" y="690.41" width="7.56" height="12.07" fill="#f1f4f6"/>
<rect x="476.03" y="690.41" width="7.56" height="12.07" fill="#e27c62"/>
<rect x="482.78" y="690.41" width="7.56" height="12.07" fill="#b8d8e9"/>
<rect x="489.54" y="690.41" width="7.56" height="12.07" fill="#2166ac"/>
<rect x="496.29" y="690.41" width="7.56" height="12.07" fill="#2166ac"/>
<rect x="503.05" y="690.41" width="7.56" height="12.07" fill="#dc6e58"/>
<rect x="509.81" y="690.41" width="7.56" height="12.07" fill="#dbeaf2"/>
<rect x="516.56" y="690.41" width="7.56" height="12.07" fill="#fbe6da"/>
<rect x="523.32" y="690.41" width="7.56" height="12.07" fill="#fbe6da"/>
<rect x="530.07" y="690.41" width="7.56" height="12.07" fill="#d1e5f0"/>
<rect x="536.83" y="690.41" width="7.56" height="12.07" fill="#d1e5f0"/>
<rect x="543.58" y="690.41" width="7.56" height="12.07" fill="#facbb2"/>
<rect x="550.34" y="690.41" width="7.56" height="12.07" fill="#e1ecf3"/>
<rect x="557.09" y="690.41" width="7.56" height="12.07" fill="#98c8e0"/>
<rect x="563.85" y="690.41" width="7.56" height="12.07" fill="#b2182b"/>
<rect x="570.60" y="690.41" width="7.56" height="12.07" fill="#f4a582"/>
<rect x="577.36" y="690.41" width="7.56" height="12.07" fill="#246aae"/>
<rect x="584.11" y="690.41" width="7.56" height="12.07" fill="#a0cce2"/>
<rect x="590.87" y="690.41" width="7.56" height="12.07" fill="#3d8bbf"/>
<rect x="597.62" y="690.41" width="7.56" height="12.07" fill="#98c8e0"/>
<rect x="604.38" y="690.41" width="7.56" height="12.07" fill="#98c8e0"/>
<rect x="611.14" y="690.41" width="7.56" height="12.07" fill="#75b3d4"/>
<rect x="617.89" y="690.41" width="7.56" height="12.07" fill="#98c8e0"/>
<rect x="624.65" y="690.41" width="7.56" height="12.07" fill="#2166ac"/>
<rect x="631.40" y="690.41" width="7.56" height="12.07" fill="#98c8e0"/>
<rect x="638.16" y="690.41" width="7.56" height="12.07" fill="#64a8ce"/>
<rect x="644.91" y="690.41" width="7.56" height="12.07" fill="#2166ac"/>
<rect x="651.67" y="690.41" width="7.56" height="12.07" fill="#98c8e0"/>
<rect x="658.42" y="690.41" width="7.56" height="12.07" fill="#2166ac"/>
<rect x="665.18" y="690.41" width="7.56" height="12.07" fill="#2166ac"/>
<rect x="671.93" y="690.41" width="7.56" height="12.07" fill="#2166ac"/>
<rect x="678.69" y="690.41" width="7.56" height="12.07" fill="#2166ac"/>
<rect x="685.44" y="690.41" width="6.76" height="12.07" fill="#2970b1"/>
<rect x="313.90" y="701.68" width="7.56" height="11.27" fill="#b2182b"/>
<rect x="320.66" y="701.68" width="7.56" height="11.27" fill="#b2182b"/>
<rect x="327.41" y="701.68" width="7.56" height="11.27" fill="#b2182b"/>
<rect x="334.17" y="701.68" width="7.56" height="11.27" fill="#f9efe9"/>
<rect x="340.92" y="701.68" width="7.56" height="11.27" fill="#fbe3d5"/>
<rect x="347.68" y="701.68" width="7.56" height="11.27" fill="#ecf2f5"/>
<rect x="354.43" y="701.68" width="7.56" height="11.27" fill="#dc6e58"/>
<rect x="361.19" y="701.68" width="7.56" height="11.27" fill="#f6b090"/>
<rect x="367.94" y="701.68" width="7.56" height="11.27" fill="#f1f4f6"/>
<rect x="374.70" y="701.68" width="7.56" height="11.27" fill="#f9efe9"/>
<rect x="381.45" y="701.68" width="7.56" height="11.27" fill="#f6b090"/>
<rect x="388.21" y="701.68" width="7.56" height="11.27" fill="#e1ecf3"/>
<rect x="394.96" y="701.68" width="7.56" height="11.27" fill="#b2182b"/>
<rect x="401.72" y="701.68" width="7.56" height="11.27" fill="#cf5246"/>
<rect x="408.48" y="701.68" width="7.56" height="11.27" fill="#f9efe9"/>
<rect x="415.23" y="701.68" width="7.56" height="11.27" fill="#ecf2f5"/>
<rect x="421.99" y="701.68" width="7.56" height="11.27" fill="#b2182b"/>
<rect x="428.74" y="701.68" width="7.56" height="11.27" fill="#f8c0a4"/>
<rect x="435.50" y="701.68" width="7.56" height="11.27" fill="#cf5246"/>
<rect x="442.25" y="701.68" width="7.56" height="11.27" fill="#b2182b"/>
<rect x="449.01" y="701.68" width="7.56" height="11.27" fill="#d1e5f0"/>
<rect x="455.76" y="701.68" width="7.56" height="11.27" fill="#d1e5f0"/>
<rect x="462.52" y="701.68" width="7.56" height="11.27" fill="#b2182b"/>
<rect x="469.27" y="701.68" width="7.56" height="11.27" fill="#f9efe9"/>
<rect x="476.03" y="701.68" width="7.56" height="11.27" fill="#7eb8d7"/>
<rect x="482.78" y="701.68" width="7.56" height="11.27" fill="#c0dceb"/>
<rect x="489.54" y="701.68" width="7.56" height="11.27" fill="#f1f4f6"/>
<rect x="496.29" y="701.68" width="7.56" height="11.27" fill="#f8c0a4"/>
<rect x="503.05" y="701.68" width="7.56" height="11.27" fill="#276eb0"/>
<rect x="509.81" y="701.68" width="7.56" height="11.27" fill="#f8f1ed"/>
<rect x="516.56" y="701.68" width="7.56" height="11.27" fill="#246aae"/>
<rect x="523.32" y="701.68" width="7.56" height="11.27" fill="#e58268"/>
<rect x="530.07" y="701.68" width="7.56" height="11.27" fill="#246aae"/>
<rect x="536.83" y="701.68" width="7.56" height="11.27" fill="#b2182b"/>
<rect x="543.58" y="701.68" width="7.56" height="11.27" fill="#c03539"/>
<rect x="550.34" y="701.68" width="7.56" height="11.27" fill="#98c8e0"/>
<rect x="557.09" y="701.68" width="7.56" height="11.27" fill="#b2182b"/>
<rect x="563.85" y="701.68" width="7.56" height="11.27" fill="#246aae"/>
<rect x="570.60" y="701.68" width="7.56" height="11.27" fill="#fddbc7"/>
<rect x="577.36" y="701.68" width="7.56" height="11.27" fill="#246aae"/>
<rect x="584.11" y="701.68" width="7.56" height="11.27" fill="#7eb8d7"/>
<rect x="590.87" y="701.68" width="7.56" height="11.27" fill="#246aae"/>
<rect x="597.62" y="701.68" width="7.56" height="11.27" fill="#2166ac"/>
<rect x="604.38" y="701.68" width="7.56" height="11.27" fill="#2166ac"/>
<rect x="611.14" y="701.68" width="7.56" height="11.27" fill="#2166ac"/>
<rect x="617.89" y="701.68" width="7.56" height="11.27" fill="#2166ac"/>
<rect x="624.65" y="701.68" width="7.56" height="11.27" fill="#2166ac"/>
<rect x="631.40" y="701.68" width="7.56" height="11.27" fill="#7eb8d7"/>
<rect x="638.16" y="701.68" width="7.56" height="11.27" fill="#2166ac"/>
<rect x="644.91" y="701.68" width="7.56" height="11.27" fill="#2166ac"/>
<rect x="651.67" y="701.68" width="7.56" height="11.27" fill="#2166ac"/>
<rect x="658.42" y="701.68" width="7.56" height="11.27" fill="#2166ac"/>
<rect x="665.18" y="701.68" width="7.56" height="11.27" fill="#2166ac"/>
<rect x="671.93" y="701.68" width="7.56" height="11.27" fill="#2166ac"/>
<rect x="678.69" y="701.68" width="7.56" height="11.27" fill="#2166ac"/>
<rect x="685.44" y="701.68" width="6.76" height="11.27" fill="#2166ac"/>
<rect x="313.90" y="417.10" width="7.56" height="11.50" fill="#9ccfc8"/>
<rect x="320.66" y="417.10" width="7.56" height="11.50" fill="#9acfc6"/>
<rect x="327.41" y="417.10" width="7.56" height="11.50" fill="#99cec4"/>
<rect x="334.17" y="417.10" width="7.56" height="11.50" fill="#97cec2"/>
<rect x="340.92" y="417.10" width="7.56" height="11.50" fill="#95cec0"/>
<rect x="347.68" y="417.10" width="7.56" height="11.50" fill="#94cebe"/>
<rect x="354.43" y="417.10" width="7.56" height="11.50" fill="#92cdbd"/>
<rect x="361.19" y="417.10" width="7.56" height="11.50" fill="#90cdbb"/>
<rect x="367.94" y="417.10" width="7.56" height="11.50" fill="#8fcdb9"/>
<rect x="374.70" y="417.10" width="7.56" height="11.50" fill="#8dcdb7"/>
<rect x="381.45" y="417.10" width="7.56" height="11.50" fill="#8bccb5"/>
<rect x="388.21" y="417.10" width="7.56" height="11.50" fill="#89ccb3"/>
<rect x="394.96" y="417.10" width="7.56" height="11.50" fill="#87cbb1"/>
<rect x="401.72" y="417.10" width="7.56" height="11.50" fill="#85cbaf"/>
<rect x="408.48" y="417.10" width="7.56" height="11.50" fill="#82cbac"/>
<rect x="415.23" y="417.10" width="7.56" height="11.50" fill="#80caaa"/>
<rect x="421.99" y="417.10" width="7.56" height="11.50" fill="#7ecaa9"/>
<rect x="428.74" y="417.10" width="7.56" height="11.50" fill="#7ccaa7"/>
<rect x="435.50" y="417.10" width="7.56" height="11.50" fill="#7ac9a5"/>
<rect x="442.25" y="417.10" width="7.56" height="11.50" fill="#78c9a4"/>
<rect x="449.01" y="417.10" width="7.56" height="11.50" fill="#76c8a2"/>
<rect x="455.76" y="417.10" width="7.56" height="11.50" fill="#74c8a0"/>
<rect x="462.52" y="417.10" width="7.56" height="11.50" fill="#71c89f"/>
<rect x="469.27" y="417.10" width="7.56" height="11.50" fill="#6fc79d"/>
<rect x="476.03" y="417.10" width="7.56" height="11.50" fill="#6dc79b"/>
<rect x="482.78" y="417.10" width="7.56" height="11.50" fill="#6cc69a"/>
<rect x="489.54" y="417.10" width="7.56" height="11.50" fill="#6bc599"/>
<rect x="496.29" y="417.10" width="7.56" height="11.50" fill="#6ac597"/>
<rect x="503.05" y="417.10" width="7.56" height="11.50" fill="#68c496"/>
<rect x="509.81" y="417.10" width="7.56" height="11.50" fill="#67c494"/>
<rect x="516.56" y="417.10" width="7.56" height="11.50" fill="#66c393"/>
<rect x="523.32" y="417.10" width="7.56" height="11.50" fill="#65c292"/>
<rect x="530.07" y="417.10" width="7.56" height="11.50" fill="#63c190"/>
<rect x="536.83" y="417.10" width="7.56" height="11.50" fill="#62bf8e"/>
<rect x="543.58" y="417.10" width="7.56" height="11.50" fill="#60be8c"/>
<rect x="550.34" y="417.10" width="7.56" height="11.50" fill="#5fbc8b"/>
<rect x="557.09" y="417.10" width="7.56" height="11.50" fill="#5dba89"/>
<rect x="563.85" y="417.10" width="7.56" height="11.50" fill="#5bb987"/>
<rect x="570.60" y="417.10" width="7.56" height="11.50" fill="#5ab785"/>
<rect x="577.36" y="417.10" width="7.56" height="11.50" fill="#58b584"/>
<rect x="584.11" y="417.10" width="7.56" height="11.50" fill="#57b482"/>
<rect x="590.87" y="417.10" width="7.56" height="11.50" fill="#55b280"/>
<rect x="597.62" y="417.10" width="7.56" height="11.50" fill="#53b17e"/>
<rect x="604.38" y="417.10" width="7.56" height="11.50" fill="#51af7c"/>
<rect x="611.14" y="417.10" width="7.56" height="11.50" fill="#50ad7a"/>
<rect x="617.89" y="417.10" width="7.56" height="11.50" fill="#4eac78"/>
<rect x="624.65" y="417.10" width="7.56" height="11.50" fill="#4caa76"/>
<rect x="631.40" y="417.10" width="7.56" height="11.50" fill="#4aa874"/>
<rect x="638.16" y="417.10" width="7.56" height="11.50" fill="#48a673"/>
<rect x="644.91" y="417.10" width="7.56" height="11.50" fill="#46a571"/>
<rect x="651.67" y="417.10" width="7.56" height="11.50" fill="#44a370"/>
<rect x="658.42" y="417.10" width="7.56" height="11.50" fill="#42a16e"/>
<rect x="665.18" y="417.10" width="7.56" height="11.50" fill="#409f6d"/>
<rect x="671.93" y="417.10" width="7.56" height="11.50" fill="#3e9e6b"/>
<rect x="678.69" y="417.10" width="7.56" height="11.50" fill="#3c9c6a"/>
<rect x="685.44" y="417.10" width="6.76" height="11.50" fill="#3a9a68"/>
<text x="697.40" y="426.90" font-size="10.59" textLength="19.40" lengthAdjust="spacingAndGlyphs">Age</text>
<text x="697.40" y="440.73" font-size="10.59" textLength="122.30" lengthAdjust="spacingAndGlyphs">CD8_MAIT_SLC4A10.ID2</text>
<text x="697.40" y="452.00" font-size="10.59" textLength="154.00" lengthAdjust="spacingAndGlyphs">CD8_MAIT_SLC4A10.SELENOK</text>
<text x="697.40" y="463.27" font-size="10.59" textLength="108.90" lengthAdjust="spacingAndGlyphs">CD8_Naive_LEF1.PLP2</text>
<text x="697.40" y="474.54" font-size="10.59" textLength="115.20" lengthAdjust="spacingAndGlyphs">CD4_Naive_CCR7.PLP2</text>
<text x="697.40" y="485.81" font-size="10.59" textLength="109.90" lengthAdjust="spacingAndGlyphs">CD4_TCM_AQP3.PLP2</text>
<text x="697.40" y="497.08" font-size="10.59" textLength="150.50" lengthAdjust="spacingAndGlyphs">CD4_Naive_CCR7.LINC00402</text>
<text x="697.40" y="508.35" font-size="10.59" textLength="118.70" lengthAdjust="spacingAndGlyphs">CD4_Naive_CCR7.GBP5</text>
<text x="697.40" y="519.62" font-size="10.59" textLength="114.10" lengthAdjust="spacingAndGlyphs">CD4_TCM_AQP3.CD63</text>
<text x="697.40" y="530.89" font-size="10.59" textLength="126.80" lengthAdjust="spacingAndGlyphs">CD4_Naive_CCR7.AHNAK</text>
<text x="697.40" y="542.16" font-size="10.59" textLength="111.70" lengthAdjust="spacingAndGlyphs">CD8_Naive_LEF1.SBDS</text>
<text x="697.40" y="553.43" font-size="10.59" textLength="141.70" lengthAdjust="spacingAndGlyphs">CD4_Naive_CCR7.SELENOM</text>
<text x="697.40" y="564.70" font-size="10.59" textLength="109.90" lengthAdjust="spacingAndGlyphs">CD4_TCM_AQP3.SVIP</text>
<text x="697.40" y="575.98" font-size="10.59" textLength="114.10" lengthAdjust="spacingAndGlyphs">CD4_Naive_CCR7.SVIP</text>
<text x="697.40" y="587.25" font-size="10.59" textLength="135.50" lengthAdjust="spacingAndGlyphs">CD8_TEM_ZNF683.PLGRKT</text>
<text x="697.40" y="598.51" font-size="10.59" textLength="127.40" lengthAdjust="spacingAndGlyphs">CD8_TEM_ZNF683.ZCRB1</text>
<text x="697.40" y="609.78" font-size="10.59" textLength="125.40" lengthAdjust="spacingAndGlyphs">CD8_TEM_ZNF683.AAMP</text>
<text x="697.40" y="621.05" font-size="10.59" textLength="123.40" lengthAdjust="spacingAndGlyphs">CD8_TEM_ZNF683.UTP11</text>
<text x="697.40" y="632.32" font-size="10.59" textLength="128.40" lengthAdjust="spacingAndGlyphs">CD8_TEM_ZNF683.NPRL3</text>
<text x="697.40" y="643.59" font-size="10.59" textLength="120.40" lengthAdjust="spacingAndGlyphs">CD4_Naive_CCR7.OSTC</text>
<text x="697.40" y="654.86" font-size="10.59" textLength="115.70" lengthAdjust="spacingAndGlyphs">CD4_TCM_AQP3.SOX4</text>
<text x="697.40" y="666.13" font-size="10.59" textLength="119.70" lengthAdjust="spacingAndGlyphs">CD4_Naive_CCR7.SOX4</text>
<text x="697.40" y="677.40" font-size="10.59" textLength="137.10" lengthAdjust="spacingAndGlyphs">CD4_Naive_CCR7.SLC25A5</text>
<text x="697.40" y="688.67" font-size="10.59" textLength="111.90" lengthAdjust="spacingAndGlyphs">CD8_Naive_LEF1.NREP</text>
<text x="697.40" y="699.94" font-size="10.59" textLength="123.40" lengthAdjust="spacingAndGlyphs">CD8_TEM_ZNF683.UCP2</text>
<text x="697.40" y="711.22" font-size="10.59" textLength="130.50" lengthAdjust="spacingAndGlyphs">CD8_TEM_ZNF683.MLLT11</text>
<line x1="313.90" y1="436.50" x2="306.80" y2="436.50" stroke="#555" stroke-width="0.75"/>
<line x1="313.90" y1="448.50" x2="306.80" y2="448.50" stroke="#555" stroke-width="0.75"/>
<line x1="306.50" y1="436.83" x2="306.50" y2="448.11" stroke="#555" stroke-width="0.75"/>
<line x1="313.90" y1="470.50" x2="311.20" y2="470.50" stroke="#555" stroke-width="0.75"/>
<line x1="313.90" y1="481.50" x2="311.20" y2="481.50" stroke="#555" stroke-width="0.75"/>
<line x1="311.50" y1="470.64" x2="311.50" y2="481.91" stroke="#555" stroke-width="0.75"/>
<line x1="313.90" y1="459.50" x2="309.10" y2="459.50" stroke="#555" stroke-width="0.75"/>
<line x1="311.20" y1="476.50" x2="309.10" y2="476.50" stroke="#555" stroke-width="0.75"/>
<line x1="309.50" y1="459.38" x2="309.50" y2="476.28" stroke="#555" stroke-width="0.75"/>
<line x1="313.90" y1="493.50" x2="308.40" y2="493.50" stroke="#555" stroke-width="0.75"/>
<line x1="313.90" y1="504.50" x2="308.40" y2="504.50" stroke="#555" stroke-width="0.75"/>
<line x1="308.50" y1="493.19" x2="308.50" y2="504.45" stroke="#555" stroke-width="0.75"/>
<line x1="313.90" y1="515.50" x2="307.50" y2="515.50" stroke="#555" stroke-width="0.75"/>
<line x1="313.90" y1="526.50" x2="307.50" y2="526.50" stroke="#555" stroke-width="0.75"/>
<line x1="307.50" y1="515.73" x2="307.50" y2="527.00" stroke="#555" stroke-width="0.75"/>
<line x1="313.90" y1="560.50" x2="309.60" y2="560.50" stroke="#555" stroke-width="0.75"/>
<line x1="313.90" y1="572.50" x2="309.60" y2="572.50" stroke="#555" stroke-width="0.75"/>
<line x1="309.50" y1="560.80" x2="309.50" y2="572.08" stroke="#555" stroke-width="0.75"/>
<line x1="313.90" y1="549.50" x2="308.00" y2="549.50" stroke="#555" stroke-width="0.75"/>
<line x1="309.60" y1="566.50" x2="308.00" y2="566.50" stroke="#555" stroke-width="0.75"/>
<line x1="308.50" y1="549.53" x2="308.50" y2="566.44" stroke="#555" stroke-width="0.75"/>
<line x1="313.90" y1="538.50" x2="305.50" y2="538.50" stroke="#555" stroke-width="0.75"/>
<line x1="308.00" y1="557.50" x2="305.50" y2="557.50" stroke="#555" stroke-width="0.75"/>
<line x1="305.50" y1="538.26" x2="305.50" y2="557.99" stroke="#555" stroke-width="0.75"/>
<line x1="309.10" y1="467.50" x2="306.20" y2="467.50" stroke="#555" stroke-width="0.75"/>
<line x1="308.40" y1="498.50" x2="306.20" y2="498.50" stroke="#555" stroke-width="0.75"/>
<line x1="306.50" y1="467.83" x2="306.50" y2="498.82" stroke="#555" stroke-width="0.75"/>
<line x1="306.20" y1="483.50" x2="305.60" y2="483.50" stroke="#555" stroke-width="0.75"/>
<line x1="307.50" y1="521.50" x2="305.60" y2="521.50" stroke="#555" stroke-width="0.75"/>
<line x1="305.50" y1="483.32" x2="305.50" y2="521.36" stroke="#555" stroke-width="0.75"/>
<line x1="305.60" y1="502.50" x2="305.00" y2="502.50" stroke="#555" stroke-width="0.75"/>
<line x1="305.50" y1="548.50" x2="305.00" y2="548.50" stroke="#555" stroke-width="0.75"/>
<line x1="305.50" y1="502.34" x2="305.50" y2="548.13" stroke="#555" stroke-width="0.75"/>
<line x1="306.80" y1="442.50" x2="303.70" y2="442.50" stroke="#555" stroke-width="0.75"/>
<line x1="305.00" y1="525.50" x2="303.70" y2="525.50" stroke="#555" stroke-width="0.75"/>
<line x1="303.50" y1="442.47" x2="303.50" y2="525.23" stroke="#555" stroke-width="0.75"/>
<line x1="313.90" y1="605.50" x2="306.50" y2="605.50" stroke="#555" stroke-width="0.75"/>
<line x1="313.90" y1="617.50" x2="306.50" y2="617.50" stroke="#555" stroke-width="0.75"/>
<line x1="306.50" y1="605.88" x2="306.50" y2="617.15" stroke="#555" stroke-width="0.75"/>
<line x1="313.90" y1="594.50" x2="305.00" y2="594.50" stroke="#555" stroke-width="0.75"/>
<line x1="306.50" y1="611.50" x2="305.00" y2="611.50" stroke="#555" stroke-width="0.75"/>
<line x1="305.50" y1="594.62" x2="305.50" y2="611.52" stroke="#555" stroke-width="0.75"/>
<line x1="313.90" y1="583.50" x2="304.40" y2="583.50" stroke="#555" stroke-width="0.75"/>
<line x1="305.00" y1="603.50" x2="304.40" y2="603.50" stroke="#555" stroke-width="0.75"/>
<line x1="304.50" y1="583.35" x2="304.50" y2="603.07" stroke="#555" stroke-width="0.75"/>
<line x1="313.90" y1="628.50" x2="308.50" y2="628.50" stroke="#555" stroke-width="0.75"/>
<line x1="313.90" y1="639.50" x2="308.50" y2="639.50" stroke="#555" stroke-width="0.75"/>
<line x1="308.50" y1="628.42" x2="308.50" y2="639.69" stroke="#555" stroke-width="0.75"/>
<line x1="313.90" y1="662.50" x2="309.20" y2="662.50" stroke="#555" stroke-width="0.75"/>
<line x1="313.90" y1="673.50" x2="309.20" y2="673.50" stroke="#555" stroke-width="0.75"/>
<line x1="309.50" y1="662.24" x2="309.50" y2="673.50" stroke="#555" stroke-width="0.75"/>
<line x1="313.90" y1="650.50" x2="308.00" y2="650.50" stroke="#555" stroke-width="0.75"/>
<line x1="309.20" y1="667.50" x2="308.00" y2="667.50" stroke="#555" stroke-width="0.75"/>
<line x1="308.50" y1="650.96" x2="308.50" y2="667.87" stroke="#555" stroke-width="0.75"/>
<line x1="313.90" y1="696.50" x2="308.60" y2="696.50" stroke="#555" stroke-width="0.75"/>
<line x1="313.90" y1="707.50" x2="308.60" y2="707.50" stroke="#555" stroke-width="0.75"/>
<line x1="308.50" y1="696.04" x2="308.50" y2="707.32" stroke="#555" stroke-width="0.75"/>
<line x1="313.90" y1="684.50" x2="307.20" y2="684.50" stroke="#555" stroke-width="0.75"/>
<line x1="308.60" y1="701.50" x2="307.20" y2="701.50" stroke="#555" stroke-width="0.75"/>
<line x1="307.50" y1="684.77" x2="307.50" y2="701.68" stroke="#555" stroke-width="0.75"/>
<line x1="308.00" y1="659.50" x2="306.40" y2="659.50" stroke="#555" stroke-width="0.75"/>
<line x1="307.20" y1="693.50" x2="306.40" y2="693.50" stroke="#555" stroke-width="0.75"/>
<line x1="306.50" y1="659.42" x2="306.50" y2="693.23" stroke="#555" stroke-width="0.75"/>
<line x1="308.50" y1="634.50" x2="305.20" y2="634.50" stroke="#555" stroke-width="0.75"/>
<line x1="306.40" y1="676.50" x2="305.20" y2="676.50" stroke="#555" stroke-width="0.75"/>
<line x1="305.50" y1="634.06" x2="305.50" y2="676.32" stroke="#555" stroke-width="0.75"/>
<line x1="304.40" y1="593.50" x2="302.40" y2="593.50" stroke="#555" stroke-width="0.75"/>
<line x1="305.20" y1="655.50" x2="302.40" y2="655.50" stroke="#555" stroke-width="0.75"/>
<line x1="302.50" y1="593.21" x2="302.50" y2="655.19" stroke="#555" stroke-width="0.75"/>
<line x1="303.70" y1="483.50" x2="297.40" y2="483.50" stroke="#555" stroke-width="0.75"/>
<line x1="302.40" y1="624.50" x2="297.40" y2="624.50" stroke="#555" stroke-width="0.75"/>
<line x1="297.50" y1="483.85" x2="297.50" y2="624.20" stroke="#555" stroke-width="0.75"/>
<rect x="370.90" y="725.90" width="14.33" height="15.90" fill="#3a9a68"/>
<text x="0.00" y="0.00" font-size="9.63" transform="translate(374.57,744.6) rotate(90)">90</text>
<rect x="384.63" y="725.90" width="14.33" height="15.90" fill="#3f9f6c"/>
<text x="0.00" y="0.00" font-size="9.63" transform="translate(388.30,744.6) rotate(90)">80</text>
<rect x="398.36" y="725.90" width="14.33" height="15.90" fill="#45a570"/>
<text x="0.00" y="0.00" font-size="9.63" transform="translate(402.03,744.6) rotate(90)">70</text>
<rect x="412.09" y="725.90" width="14.33" height="15.90" fill="#4aab75"/>
<text x="0.00" y="0.00" font-size="9.63" transform="translate(415.76,744.6) rotate(90)">60</text>
<rect x="425.82" y="725.90" width="14.33" height="15.90" fill="#50b07a"/>
<text x="0.00" y="0.00" font-size="9.63" transform="translate(429.49,744.6) rotate(90)">50</text>
<rect x="439.55" y="725.90" width="14.33" height="15.90" fill="#58b982"/>
<text x="0.00" y="0.00" font-size="9.63" transform="translate(443.22,744.6) rotate(90)">40</text>
<rect x="453.28" y="725.90" width="14.33" height="15.90" fill="#66c994"/>
<text x="0.00" y="0.00" font-size="9.63" transform="translate(456.95,744.6) rotate(90)">30</text>
<rect x="467.02" y="725.90" width="14.33" height="15.90" fill="#6ec79c"/>
<text x="0.00" y="0.00" font-size="9.63" transform="translate(470.68,744.6) rotate(90)">18</text>
<rect x="480.75" y="725.90" width="14.33" height="15.90" fill="#76c8a2"/>
<text x="0.00" y="0.00" font-size="9.63" transform="translate(484.41,744.6) rotate(90)">12</text>
<rect x="494.48" y="725.90" width="14.33" height="15.90" fill="#80cbaa"/>
<text x="0.00" y="0.00" font-size="9.63" transform="translate(498.14,744.6) rotate(90)">6</text>
<rect x="508.21" y="725.90" width="14.33" height="15.90" fill="#88ccb0"/>
<text x="0.00" y="0.00" font-size="9.63" transform="translate(511.87,744.6) rotate(90)">2</text>
<rect x="521.94" y="725.90" width="14.33" height="15.90" fill="#90cdb8"/>
<text x="0.00" y="0.00" font-size="9.63" transform="translate(525.60,744.6) rotate(90)">1</text>
<rect x="535.67" y="725.90" width="13.73" height="15.90" fill="#9ccfc8"/>
<text x="0.00" y="0.00" font-size="9.63" transform="translate(539.33,744.6) rotate(90)">0</text>
<text x="0.00" y="0.00" font-size="10.70" transform="translate(555.6,727) rotate(90)">Age</text>
<defs><linearGradient id="cb" x1="0" y1="0" x2="1" y2="0"><stop offset="0.000" stop-color="#2166ac"/><stop offset="0.125" stop-color="#4393c3"/><stop offset="0.250" stop-color="#92c5de"/><stop offset="0.375" stop-color="#d1e5f0"/><stop offset="0.500" stop-color="#f7f7f7"/><stop offset="0.625" stop-color="#fddbc7"/><stop offset="0.750" stop-color="#f4a582"/><stop offset="0.875" stop-color="#d6604d"/><stop offset="1.000" stop-color="#b2182b"/></linearGradient></defs>
<rect x="590.00" y="732.40" width="87.60" height="11.00" fill="url(#cb)"/>
<text x="591.00" y="727.70" font-size="10.70" textLength="85.40" lengthAdjust="spacingAndGlyphs">Expression score</text>
<line x1="590.50" y1="741.50" x2="590.50" y2="743.40" stroke="#fff" stroke-width="0.6"/>
<text x="0.00" y="0.00" font-size="9.63" transform="translate(587.30,747.3) rotate(90)">−1.0</text>
<line x1="612.40" y1="741.50" x2="612.40" y2="743.40" stroke="#fff" stroke-width="0.6"/>
<text x="0.00" y="0.00" font-size="9.63" transform="translate(609.20,747.3) rotate(90)">−0.5</text>
<line x1="634.40" y1="741.50" x2="634.40" y2="743.40" stroke="#fff" stroke-width="0.6"/>
<text x="0.00" y="0.00" font-size="9.63" transform="translate(631.20,747.3) rotate(90)">0</text>
<line x1="655.60" y1="741.50" x2="655.60" y2="743.40" stroke="#fff" stroke-width="0.6"/>
<text x="0.00" y="0.00" font-size="9.63" transform="translate(652.40,747.3) rotate(90)">0.5</text>
<line x1="676.40" y1="741.50" x2="676.40" y2="743.40" stroke="#fff" stroke-width="0.6"/>
<text x="0.00" y="0.00" font-size="9.63" transform="translate(673.20,747.3) rotate(90)">1.0</text>
<text x="360.00" y="781.80" font-size="16" font-weight="bold" fill="#000" stroke="#000" stroke-width="0.8">i</text>
<rect x="377.60" y="783.20" width="245.80" height="21.70" fill="#d35a4a"/>
<text x="382.20" y="798.80" font-size="11.56" textLength="164.20" lengthAdjust="spacingAndGlyphs">Positive regulation of autophagy</text>
<rect x="377.60" y="808.14" width="179.20" height="21.70" fill="#e5876a"/>
<text x="382.20" y="823.40" font-size="11.56" textLength="160.30" lengthAdjust="spacingAndGlyphs">Homeostasis of number of cells</text>
<rect x="377.60" y="833.08" width="178.80" height="21.70" fill="#f3b094"/>
<text x="382.20" y="848.00" font-size="11.56" textLength="97.50" lengthAdjust="spacingAndGlyphs">Hormone secretion</text>
<rect x="377.60" y="858.02" width="150.50" height="21.70" fill="#f7c4ac"/>
<text x="382.20" y="873.50" font-size="11.56" textLength="136.00" lengthAdjust="spacingAndGlyphs">Myeloid cell differentiation</text>
<rect x="377.60" y="882.96" width="150.50" height="21.70" fill="#f9cebb"/>
<text x="382.20" y="898.30" font-size="11.56" textLength="137.00" lengthAdjust="spacingAndGlyphs">Lymphocyte differentiation</text>
<rect x="377.60" y="907.90" width="140.30" height="21.70" fill="#fcdece"/>
<text x="382.20" y="922.90" font-size="11.56" textLength="162.70" lengthAdjust="spacingAndGlyphs">Mononuclear cell differentiation</text>
<line x1="371.50" y1="779.00" x2="371.50" y2="933.30" stroke="#666666" stroke-width="0.9"/>
<line x1="371.80" y1="933.50" x2="636.20" y2="933.50" stroke="#666666" stroke-width="0.9"/>
<line x1="377.50" y1="933.30" x2="377.50" y2="936.90" stroke="#666666" stroke-width="0.8"/>
<text x="377.60" y="948.50" font-size="10.27" text-anchor="middle">0</text>
<line x1="443.50" y1="933.30" x2="443.50" y2="936.90" stroke="#666666" stroke-width="0.8"/>
<text x="443.30" y="948.50" font-size="10.27" text-anchor="middle">3</text>
<line x1="509.50" y1="933.30" x2="509.50" y2="936.90" stroke="#666666" stroke-width="0.8"/>
<text x="509.00" y="948.50" font-size="10.27" text-anchor="middle">6</text>
<line x1="574.50" y1="933.30" x2="574.50" y2="936.90" stroke="#666666" stroke-width="0.8"/>
<text x="574.70" y="948.50" font-size="10.27" text-anchor="middle">9</text>
<text x="504.60" y="963.20" font-size="10.70" text-anchor="middle">−log<tspan dy="2.5" font-size="7">10</tspan><tspan dy="-2.5">(</tspan><tspan font-style="italic">P</tspan> value)</text>
</svg></body></html>
